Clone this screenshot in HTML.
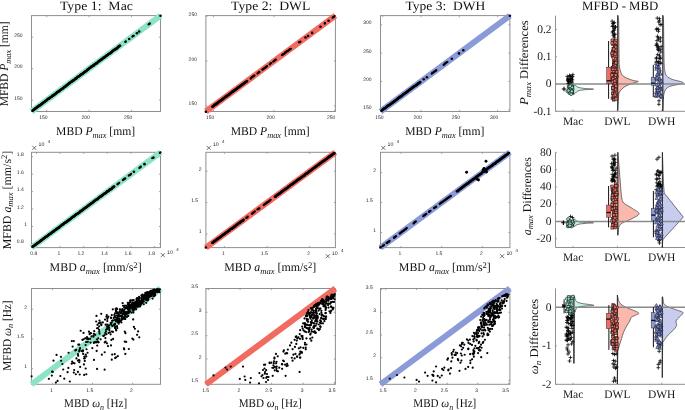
<!DOCTYPE html>
<html><head><meta charset="utf-8"><style>
html,body{margin:0;padding:0;background:#fff;width:685px;height:410px;overflow:hidden}
svg{display:block}
svg{will-change:transform}
text{text-rendering:geometricPrecision}
</style></head><body>
<svg width="685" height="410" viewBox="0 0 685 410">
<rect width="685" height="410" fill="#fff"/>
<rect x="31.5" y="15.6" width="129" height="95.9" fill="none" stroke="#8f8f8f" stroke-width="1"/>
<path d="M46.75 111.5v-1.6M46.75 15.6v1.6" stroke="#8f8f8f" stroke-width="0.8"/>
<text x="39.2" y="118.8" font-size="5" style='font-family:"Liberation Sans",sans-serif;' text-anchor="start" fill="#262626">150</text>
<path d="M89.1 111.5v-1.6M89.1 15.6v1.6" stroke="#8f8f8f" stroke-width="0.8"/>
<text x="81.55" y="118.8" font-size="5" style='font-family:"Liberation Sans",sans-serif;' text-anchor="start" fill="#262626">200</text>
<path d="M131.45 111.5v-1.6M131.45 15.6v1.6" stroke="#8f8f8f" stroke-width="0.8"/>
<text x="123.9" y="118.8" font-size="5" style='font-family:"Liberation Sans",sans-serif;' text-anchor="start" fill="#262626">250</text>
<path d="M31.5 100.17h1.6M160.5 100.17h-1.6" stroke="#8f8f8f" stroke-width="0.8"/>
<text x="14.21" y="99.67" font-size="5" style='font-family:"Liberation Sans",sans-serif;' text-anchor="start" fill="#262626">150</text>
<path d="M31.5 68.68h1.6M160.5 68.68h-1.6" stroke="#8f8f8f" stroke-width="0.8"/>
<text x="14.21" y="68.18" font-size="5" style='font-family:"Liberation Sans",sans-serif;' text-anchor="start" fill="#262626">200</text>
<path d="M31.5 37.2h1.6M160.5 37.2h-1.6" stroke="#8f8f8f" stroke-width="0.8"/>
<text x="14.21" y="36.7" font-size="5" style='font-family:"Liberation Sans",sans-serif;' text-anchor="start" fill="#262626">250</text>
<line x1="31.5" y1="111.5" x2="160.5" y2="15.6" stroke="#8de3c6" stroke-width="6"/>
<g fill="#000"><circle cx="32.5" cy="110.67" r="1.25"/><circle cx="32.95" cy="110.25" r="1.25"/><circle cx="33.4" cy="110.16" r="1.25"/><circle cx="33.85" cy="109.54" r="1.25"/><circle cx="34.31" cy="109.43" r="1.25"/><circle cx="34.76" cy="109.01" r="1.25"/><circle cx="35.21" cy="108.52" r="1.25"/><circle cx="35.66" cy="108.41" r="1.25"/><circle cx="36.11" cy="107.84" r="1.25"/><circle cx="36.56" cy="107.7" r="1.25"/><circle cx="37.02" cy="107.18" r="1.25"/><circle cx="37.47" cy="106.86" r="1.25"/><circle cx="37.92" cy="106.69" r="1.25"/><circle cx="38.37" cy="106.56" r="1.25"/><circle cx="38.82" cy="105.87" r="1.25"/><circle cx="39.27" cy="105.58" r="1.25"/><circle cx="39.72" cy="105.45" r="1.25"/><circle cx="40.18" cy="105.27" r="1.25"/><circle cx="40.63" cy="104.75" r="1.25"/><circle cx="41.08" cy="104.33" r="1.25"/><circle cx="41.53" cy="104.28" r="1.25"/><circle cx="41.98" cy="103.48" r="1.25"/><circle cx="42.43" cy="103.55" r="1.25"/><circle cx="42.89" cy="102.93" r="1.25"/><circle cx="43.34" cy="102.52" r="1.25"/><circle cx="43.79" cy="102.17" r="1.25"/><circle cx="44.24" cy="101.93" r="1.25"/><circle cx="44.69" cy="101.85" r="1.25"/><circle cx="45.14" cy="101.2" r="1.25"/><circle cx="45.59" cy="101.06" r="1.25"/><circle cx="46.05" cy="100.76" r="1.25"/><circle cx="46.5" cy="100.29" r="1.25"/><circle cx="46.95" cy="100.04" r="1.25"/><circle cx="47.4" cy="99.46" r="1.25"/><circle cx="47.85" cy="99.12" r="1.25"/><circle cx="48.3" cy="98.86" r="1.25"/><circle cx="48.76" cy="98.76" r="1.25"/><circle cx="49.21" cy="98.3" r="1.25"/><circle cx="49.66" cy="97.91" r="1.25"/><circle cx="50.11" cy="97.71" r="1.25"/><circle cx="50.56" cy="97.31" r="1.25"/><circle cx="51.01" cy="96.89" r="1.25"/><circle cx="51.46" cy="96.81" r="1.25"/><circle cx="51.92" cy="96.42" r="1.25"/><circle cx="52.37" cy="95.86" r="1.25"/><circle cx="52.82" cy="95.69" r="1.25"/><circle cx="53.27" cy="95.33" r="1.25"/><circle cx="53.72" cy="95.17" r="1.25"/><circle cx="54.17" cy="94.76" r="1.25"/><circle cx="54.63" cy="94.2" r="1.25"/><circle cx="55.08" cy="94.21" r="1.25"/><circle cx="55.53" cy="93.45" r="1.25"/><circle cx="55.98" cy="93.26" r="1.25"/><circle cx="56.43" cy="93.09" r="1.25"/><circle cx="56.88" cy="92.46" r="1.25"/><circle cx="57.34" cy="92.29" r="1.25"/><circle cx="57.79" cy="91.73" r="1.25"/><circle cx="58.24" cy="91.71" r="1.25"/><circle cx="58.69" cy="91.42" r="1.25"/><circle cx="59.14" cy="90.99" r="1.25"/><circle cx="59.59" cy="90.8" r="1.25"/><circle cx="60.04" cy="90.19" r="1.25"/><circle cx="60.5" cy="90.04" r="1.25"/><circle cx="60.95" cy="89.66" r="1.25"/><circle cx="61.4" cy="89.31" r="1.25"/><circle cx="61.85" cy="88.92" r="1.25"/><circle cx="62.3" cy="88.77" r="1.25"/><circle cx="62.75" cy="88.49" r="1.25"/><circle cx="63.21" cy="87.92" r="1.25"/><circle cx="63.66" cy="87.68" r="1.25"/><circle cx="64.11" cy="87.04" r="1.25"/><circle cx="64.56" cy="87.02" r="1.25"/><circle cx="65.01" cy="86.66" r="1.25"/><circle cx="65.46" cy="86.5" r="1.25"/><circle cx="65.91" cy="86.08" r="1.25"/><circle cx="66.37" cy="85.47" r="1.25"/><circle cx="66.82" cy="85.19" r="1.25"/><circle cx="67.27" cy="84.99" r="1.25"/><circle cx="67.72" cy="84.33" r="1.25"/><circle cx="68.17" cy="84.22" r="1.25"/><circle cx="68.62" cy="83.74" r="1.25"/><circle cx="69.08" cy="83.37" r="1.25"/><circle cx="69.53" cy="83.01" r="1.25"/><circle cx="69.98" cy="83.03" r="1.25"/><circle cx="70.43" cy="82.37" r="1.25"/><circle cx="70.88" cy="82.1" r="1.25"/><circle cx="71.33" cy="81.83" r="1.25"/><circle cx="71.78" cy="81.74" r="1.25"/><circle cx="72.24" cy="81.01" r="1.25"/><circle cx="72.69" cy="80.86" r="1.25"/><circle cx="73.14" cy="80.57" r="1.25"/><circle cx="73.59" cy="80.4" r="1.25"/><circle cx="74.04" cy="80.03" r="1.25"/><circle cx="74.49" cy="79.72" r="1.25"/><circle cx="74.95" cy="79.09" r="1.25"/><circle cx="75.4" cy="78.82" r="1.25"/><circle cx="75.85" cy="78.46" r="1.25"/><circle cx="76.3" cy="78.39" r="1.25"/><circle cx="76.75" cy="78.09" r="1.25"/><circle cx="77.2" cy="77.35" r="1.25"/><circle cx="77.65" cy="77.03" r="1.25"/><circle cx="78.11" cy="76.72" r="1.25"/><circle cx="78.56" cy="76.38" r="1.25"/><circle cx="79.01" cy="76.17" r="1.25"/><circle cx="79.46" cy="75.89" r="1.25"/><circle cx="79.91" cy="75.39" r="1.25"/><circle cx="80.36" cy="74.93" r="1.25"/><circle cx="80.82" cy="74.8" r="1.25"/><circle cx="81.27" cy="74.44" r="1.25"/><circle cx="81.72" cy="74.2" r="1.25"/><circle cx="82.17" cy="74.06" r="1.25"/><circle cx="82.62" cy="73.59" r="1.25"/><circle cx="83.07" cy="73.17" r="1.25"/><circle cx="83.52" cy="72.88" r="1.25"/><circle cx="83.98" cy="72.58" r="1.25"/><circle cx="84.43" cy="71.93" r="1.25"/><circle cx="84.88" cy="72.02" r="1.25"/><circle cx="85.33" cy="71.62" r="1.25"/><circle cx="85.78" cy="71.33" r="1.25"/><circle cx="86.23" cy="70.96" r="1.25"/><circle cx="86.69" cy="70.42" r="1.25"/><circle cx="87.14" cy="70.09" r="1.25"/><circle cx="87.59" cy="69.6" r="1.25"/><circle cx="88.04" cy="69.53" r="1.25"/><circle cx="88.49" cy="68.91" r="1.25"/><circle cx="88.94" cy="68.58" r="1.25"/><circle cx="89.39" cy="68.31" r="1.25"/><circle cx="89.85" cy="67.96" r="1.25"/><circle cx="90.3" cy="67.71" r="1.25"/><circle cx="90.75" cy="67.23" r="1.25"/><circle cx="91.2" cy="66.87" r="1.25"/><circle cx="91.65" cy="66.61" r="1.25"/><circle cx="92.1" cy="66.25" r="1.25"/><circle cx="92.56" cy="66.04" r="1.25"/><circle cx="93.01" cy="65.54" r="1.25"/><circle cx="93.46" cy="65.63" r="1.25"/><circle cx="93.91" cy="65.16" r="1.25"/><circle cx="94.36" cy="64.59" r="1.25"/><circle cx="94.81" cy="64.31" r="1.25"/><circle cx="95.26" cy="64.02" r="1.25"/><circle cx="95.72" cy="63.69" r="1.25"/><circle cx="96.17" cy="63.24" r="1.25"/><circle cx="96.62" cy="63.26" r="1.25"/><circle cx="97.07" cy="63" r="1.25"/><circle cx="97.52" cy="62.4" r="1.25"/><circle cx="97.97" cy="62.07" r="1.25"/><circle cx="98.43" cy="61.54" r="1.25"/><circle cx="98.88" cy="61.21" r="1.25"/><circle cx="99.33" cy="61" r="1.25"/><circle cx="99.78" cy="60.62" r="1.25"/><circle cx="100.23" cy="60.57" r="1.25"/><circle cx="100.68" cy="59.9" r="1.25"/><circle cx="101.14" cy="59.49" r="1.25"/><circle cx="101.59" cy="59.62" r="1.25"/><circle cx="102.04" cy="59.08" r="1.25"/><circle cx="102.49" cy="58.55" r="1.25"/><circle cx="102.94" cy="58.41" r="1.25"/><circle cx="103.39" cy="57.82" r="1.25"/><circle cx="103.84" cy="57.73" r="1.25"/><circle cx="104.3" cy="57.62" r="1.25"/><circle cx="104.75" cy="57.23" r="1.25"/><circle cx="105.2" cy="56.81" r="1.25"/><circle cx="105.65" cy="56.26" r="1.25"/><circle cx="106.1" cy="55.97" r="1.25"/><circle cx="106.55" cy="55.54" r="1.25"/><circle cx="107.01" cy="55.5" r="1.25"/><circle cx="107.46" cy="55.05" r="1.25"/><circle cx="107.91" cy="54.84" r="1.25"/><circle cx="108.36" cy="54.28" r="1.25"/><circle cx="108.81" cy="53.89" r="1.25"/><circle cx="109.26" cy="53.85" r="1.25"/><circle cx="109.71" cy="53.6" r="1.25"/><circle cx="110.17" cy="53.2" r="1.25"/><circle cx="110.62" cy="52.84" r="1.25"/><circle cx="111.07" cy="52.51" r="1.25"/><circle cx="111.52" cy="52.13" r="1.25"/><circle cx="111.97" cy="51.54" r="1.25"/><circle cx="112.42" cy="51.35" r="1.25"/><circle cx="112.88" cy="50.93" r="1.25"/><circle cx="113.33" cy="50.43" r="1.25"/><circle cx="113.78" cy="50.1" r="1.25"/><circle cx="114.23" cy="49.89" r="1.25"/><circle cx="114.68" cy="49.54" r="1.25"/><circle cx="115.13" cy="49.42" r="1.25"/><circle cx="115.58" cy="49.22" r="1.25"/><circle cx="116.04" cy="48.63" r="1.25"/><circle cx="116.49" cy="48.54" r="1.25"/><circle cx="116.94" cy="48.23" r="1.25"/><circle cx="117.39" cy="47.88" r="1.25"/><circle cx="117.84" cy="47.24" r="1.25"/><circle cx="118.29" cy="46.84" r="1.25"/><circle cx="118.75" cy="46.5" r="1.25"/><circle cx="119.2" cy="46.15" r="1.25"/><circle cx="119.65" cy="45.82" r="1.25"/><circle cx="120.1" cy="45.7" r="1.25"/><circle cx="125.24" cy="42.01" r="1.05"/><circle cx="125.55" cy="41.75" r="1.05"/><circle cx="125.86" cy="41.34" r="1.05"/><circle cx="129.2" cy="38.95" r="1.3"/><circle cx="132.34" cy="36.68" r="1.05"/><circle cx="132.81" cy="35.97" r="1.05"/><circle cx="133.29" cy="35.91" r="1.05"/><circle cx="133.76" cy="35.68" r="1.05"/><circle cx="136.9" cy="33.29" r="1.3"/><circle cx="139.2" cy="31.56" r="1.3"/><circle cx="148.5" cy="24.51" r="1.05"/><circle cx="148.97" cy="24.01" r="1.05"/><circle cx="149.43" cy="23.97" r="1.05"/><circle cx="149.9" cy="23.4" r="1.05"/><circle cx="160.5" cy="15.75" r="1.3"/></g>
<rect x="205.9" y="15.6" width="129.5" height="95.9" fill="none" stroke="#8f8f8f" stroke-width="1"/>
<path d="M213.41 111.5v-1.6M213.41 15.6v1.6" stroke="#8f8f8f" stroke-width="0.8"/>
<text x="205.87" y="118.8" font-size="5" style='font-family:"Liberation Sans",sans-serif;' text-anchor="start" fill="#262626">150</text>
<path d="M273.98 111.5v-1.6M273.98 15.6v1.6" stroke="#8f8f8f" stroke-width="0.8"/>
<text x="266.44" y="118.8" font-size="5" style='font-family:"Liberation Sans",sans-serif;' text-anchor="start" fill="#262626">200</text>
<path d="M334.55 111.5v-1.6M334.55 15.6v1.6" stroke="#8f8f8f" stroke-width="0.8"/>
<text x="327.01" y="118.8" font-size="5" style='font-family:"Liberation Sans",sans-serif;' text-anchor="start" fill="#262626">250</text>
<path d="M205.9 105.94h1.6M335.4 105.94h-1.6" stroke="#8f8f8f" stroke-width="0.8"/>
<text x="188.61" y="105.44" font-size="5" style='font-family:"Liberation Sans",sans-serif;' text-anchor="start" fill="#262626">150</text>
<path d="M205.9 61.08h1.6M335.4 61.08h-1.6" stroke="#8f8f8f" stroke-width="0.8"/>
<text x="188.61" y="60.58" font-size="5" style='font-family:"Liberation Sans",sans-serif;' text-anchor="start" fill="#262626">200</text>
<path d="M205.9 16.23h1.6M335.4 16.23h-1.6" stroke="#8f8f8f" stroke-width="0.8"/>
<text x="188.61" y="15.73" font-size="5" style='font-family:"Liberation Sans",sans-serif;' text-anchor="start" fill="#262626">250</text>
<line x1="205.9" y1="111.5" x2="335.4" y2="15.6" stroke="#f26b61" stroke-width="6"/>
<g fill="#000"><circle cx="205.9" cy="111.74" r="1.3"/><circle cx="212.4" cy="106.63" r="1.25"/><circle cx="212.85" cy="106.3" r="1.25"/><circle cx="213.3" cy="106.24" r="1.25"/><circle cx="213.76" cy="105.79" r="1.25"/><circle cx="214.21" cy="105.18" r="1.25"/><circle cx="214.66" cy="104.83" r="1.25"/><circle cx="215.11" cy="104.5" r="1.25"/><circle cx="215.56" cy="104.55" r="1.25"/><circle cx="216.02" cy="104.16" r="1.25"/><circle cx="216.47" cy="103.5" r="1.25"/><circle cx="216.92" cy="103.5" r="1.25"/><circle cx="217.37" cy="103.25" r="1.25"/><circle cx="217.82" cy="102.75" r="1.25"/><circle cx="218.28" cy="102.26" r="1.25"/><circle cx="218.73" cy="102.03" r="1.25"/><circle cx="219.18" cy="101.48" r="1.25"/><circle cx="219.63" cy="101.09" r="1.25"/><circle cx="220.08" cy="101.23" r="1.25"/><circle cx="220.54" cy="100.74" r="1.25"/><circle cx="220.99" cy="100.34" r="1.25"/><circle cx="221.44" cy="100.21" r="1.25"/><circle cx="221.89" cy="99.62" r="1.25"/><circle cx="222.34" cy="99.51" r="1.25"/><circle cx="222.79" cy="99.15" r="1.25"/><circle cx="223.25" cy="98.51" r="1.25"/><circle cx="223.7" cy="98.2" r="1.25"/><circle cx="224.15" cy="97.88" r="1.25"/><circle cx="224.6" cy="97.52" r="1.25"/><circle cx="225.05" cy="97.36" r="1.25"/><circle cx="225.51" cy="96.86" r="1.25"/><circle cx="225.96" cy="96.61" r="1.25"/><circle cx="226.41" cy="96.13" r="1.25"/><circle cx="226.86" cy="96.18" r="1.25"/><circle cx="227.31" cy="95.57" r="1.25"/><circle cx="227.77" cy="95.29" r="1.25"/><circle cx="228.22" cy="95.01" r="1.25"/><circle cx="228.67" cy="94.84" r="1.25"/><circle cx="229.12" cy="94.26" r="1.25"/><circle cx="229.57" cy="94.18" r="1.25"/><circle cx="230.03" cy="93.63" r="1.25"/><circle cx="230.48" cy="93.31" r="1.25"/><circle cx="230.93" cy="92.98" r="1.25"/><circle cx="231.38" cy="92.39" r="1.25"/><circle cx="231.83" cy="92.27" r="1.25"/><circle cx="232.29" cy="91.8" r="1.25"/><circle cx="232.74" cy="91.38" r="1.25"/><circle cx="233.19" cy="91.44" r="1.25"/><circle cx="233.64" cy="90.79" r="1.25"/><circle cx="234.09" cy="90.61" r="1.25"/><circle cx="234.55" cy="90.4" r="1.25"/><circle cx="235" cy="89.98" r="1.25"/><circle cx="235.45" cy="89.53" r="1.25"/><circle cx="235.9" cy="89.29" r="1.25"/><circle cx="236.35" cy="88.98" r="1.25"/><circle cx="236.81" cy="88.76" r="1.25"/><circle cx="237.26" cy="88.08" r="1.25"/><circle cx="237.71" cy="87.97" r="1.25"/><circle cx="238.16" cy="87.48" r="1.25"/><circle cx="238.61" cy="87.16" r="1.25"/><circle cx="239.06" cy="87.08" r="1.25"/><circle cx="239.52" cy="86.61" r="1.25"/><circle cx="239.97" cy="86.3" r="1.25"/><circle cx="240.42" cy="86.07" r="1.25"/><circle cx="240.87" cy="85.81" r="1.25"/><circle cx="241.32" cy="85.24" r="1.25"/><circle cx="241.78" cy="84.99" r="1.25"/><circle cx="242.23" cy="84.6" r="1.25"/><circle cx="242.68" cy="84.27" r="1.25"/><circle cx="243.13" cy="84.02" r="1.25"/><circle cx="243.58" cy="83.57" r="1.25"/><circle cx="244.04" cy="83.28" r="1.25"/><circle cx="244.49" cy="82.91" r="1.25"/><circle cx="244.94" cy="82.81" r="1.25"/><circle cx="245.39" cy="82.35" r="1.25"/><circle cx="245.84" cy="82.11" r="1.25"/><circle cx="246.3" cy="81.81" r="1.25"/><circle cx="246.75" cy="81.13" r="1.25"/><circle cx="247.2" cy="80.95" r="1.25"/><circle cx="250.54" cy="78.66" r="1.05"/><circle cx="251.04" cy="78.24" r="1.05"/><circle cx="251.54" cy="77.52" r="1.05"/><circle cx="252.05" cy="77.14" r="1.05"/><circle cx="252.55" cy="76.92" r="1.05"/><circle cx="253.05" cy="76.37" r="1.05"/><circle cx="253.56" cy="76.08" r="1.05"/><circle cx="254.06" cy="75.62" r="1.05"/><circle cx="254.56" cy="75.55" r="1.05"/><circle cx="257.34" cy="73.55" r="1.05"/><circle cx="257.87" cy="73.21" r="1.05"/><circle cx="258.4" cy="72.45" r="1.05"/><circle cx="258.93" cy="72.34" r="1.05"/><circle cx="259.46" cy="71.92" r="1.05"/><circle cx="262.24" cy="69.6" r="1.05"/><circle cx="262.73" cy="69.61" r="1.05"/><circle cx="263.22" cy="69.28" r="1.05"/><circle cx="263.72" cy="68.54" r="1.05"/><circle cx="264.21" cy="68.55" r="1.05"/><circle cx="264.7" cy="67.91" r="1.05"/><circle cx="265.19" cy="67.59" r="1.05"/><circle cx="265.68" cy="67.47" r="1.05"/><circle cx="266.18" cy="67.03" r="1.05"/><circle cx="266.67" cy="66.33" r="1.05"/><circle cx="267.16" cy="66.1" r="1.05"/><circle cx="269.6" cy="64.34" r="1.05"/><circle cx="270.17" cy="63.83" r="1.05"/><circle cx="270.73" cy="63.34" r="1.05"/><circle cx="271.3" cy="62.98" r="1.05"/><circle cx="273.24" cy="61.74" r="1.05"/><circle cx="273.76" cy="61" r="1.05"/><circle cx="274.29" cy="60.88" r="1.05"/><circle cx="274.81" cy="60.44" r="1.05"/><circle cx="275.34" cy="59.84" r="1.05"/><circle cx="275.86" cy="59.61" r="1.05"/><circle cx="281.94" cy="55.25" r="1.05"/><circle cx="282.41" cy="54.85" r="1.05"/><circle cx="282.88" cy="54.28" r="1.05"/><circle cx="283.35" cy="54.39" r="1.05"/><circle cx="283.82" cy="53.94" r="1.05"/><circle cx="284.29" cy="53.69" r="1.05"/><circle cx="284.76" cy="52.91" r="1.05"/><circle cx="285.23" cy="52.64" r="1.05"/><circle cx="285.7" cy="52.18" r="1.05"/><circle cx="286.17" cy="52.2" r="1.05"/><circle cx="286.63" cy="51.6" r="1.05"/><circle cx="287.1" cy="51.18" r="1.05"/><circle cx="287.57" cy="50.98" r="1.05"/><circle cx="288.04" cy="50.88" r="1.05"/><circle cx="288.51" cy="50.48" r="1.05"/><circle cx="288.98" cy="49.85" r="1.05"/><circle cx="289.45" cy="49.45" r="1.05"/><circle cx="289.92" cy="49.49" r="1.05"/><circle cx="290.39" cy="48.97" r="1.05"/><circle cx="290.86" cy="48.68" r="1.05"/><circle cx="298.94" cy="42.39" r="1.05"/><circle cx="299.45" cy="42" r="1.05"/><circle cx="299.95" cy="41.94" r="1.05"/><circle cx="300.46" cy="41.44" r="1.05"/><circle cx="305.5" cy="37.53" r="1.3"/><circle cx="308.1" cy="36.04" r="1.3"/><circle cx="312.1" cy="32.92" r="1.3"/><circle cx="320.5" cy="26.78" r="1.3"/><circle cx="324.64" cy="23.36" r="1.05"/><circle cx="324.85" cy="23.59" r="1.05"/><circle cx="325.06" cy="23.04" r="1.05"/><circle cx="328.6" cy="20.82" r="1.3"/><circle cx="332.54" cy="17.69" r="1.05"/><circle cx="333.04" cy="17.26" r="1.05"/><circle cx="333.55" cy="17" r="1.05"/><circle cx="334.06" cy="16.81" r="1.05"/><circle cx="334.56" cy="16.11" r="1.05"/></g>
<rect x="380.5" y="15.6" width="129.4" height="95.9" fill="none" stroke="#8f8f8f" stroke-width="1"/>
<path d="M382.72 111.5v-1.6M382.72 15.6v1.6" stroke="#8f8f8f" stroke-width="0.8"/>
<text x="375.18" y="118.8" font-size="5" style='font-family:"Liberation Sans",sans-serif;' text-anchor="start" fill="#262626">150</text>
<path d="M421 111.5v-1.6M421 15.6v1.6" stroke="#8f8f8f" stroke-width="0.8"/>
<text x="413.46" y="118.8" font-size="5" style='font-family:"Liberation Sans",sans-serif;' text-anchor="start" fill="#262626">200</text>
<path d="M459.29 111.5v-1.6M459.29 15.6v1.6" stroke="#8f8f8f" stroke-width="0.8"/>
<text x="451.74" y="118.8" font-size="5" style='font-family:"Liberation Sans",sans-serif;' text-anchor="start" fill="#262626">250</text>
<path d="M497.57 111.5v-1.6M497.57 15.6v1.6" stroke="#8f8f8f" stroke-width="0.8"/>
<text x="490.03" y="118.8" font-size="5" style='font-family:"Liberation Sans",sans-serif;' text-anchor="start" fill="#262626">300</text>
<path d="M380.5 109.85h1.6M509.9 109.85h-1.6" stroke="#8f8f8f" stroke-width="0.8"/>
<text x="363.21" y="109.35" font-size="5" style='font-family:"Liberation Sans",sans-serif;' text-anchor="start" fill="#262626">150</text>
<path d="M380.5 81.48h1.6M509.9 81.48h-1.6" stroke="#8f8f8f" stroke-width="0.8"/>
<text x="363.21" y="80.98" font-size="5" style='font-family:"Liberation Sans",sans-serif;' text-anchor="start" fill="#262626">200</text>
<path d="M380.5 53.11h1.6M509.9 53.11h-1.6" stroke="#8f8f8f" stroke-width="0.8"/>
<text x="363.21" y="52.61" font-size="5" style='font-family:"Liberation Sans",sans-serif;' text-anchor="start" fill="#262626">250</text>
<path d="M380.5 24.74h1.6M509.9 24.74h-1.6" stroke="#8f8f8f" stroke-width="0.8"/>
<text x="363.21" y="24.24" font-size="5" style='font-family:"Liberation Sans",sans-serif;' text-anchor="start" fill="#262626">300</text>
<line x1="380.5" y1="111.5" x2="509.9" y2="15.6" stroke="#8b9bd8" stroke-width="6"/>
<g fill="#000"><circle cx="381.5" cy="110.57" r="1.25"/><circle cx="381.95" cy="110.44" r="1.25"/><circle cx="382.4" cy="109.96" r="1.25"/><circle cx="382.85" cy="109.56" r="1.25"/><circle cx="383.3" cy="109.25" r="1.25"/><circle cx="383.76" cy="108.86" r="1.25"/><circle cx="384.21" cy="108.6" r="1.25"/><circle cx="384.66" cy="108.32" r="1.25"/><circle cx="385.11" cy="107.99" r="1.25"/><circle cx="385.56" cy="107.88" r="1.25"/><circle cx="386.01" cy="107.31" r="1.25"/><circle cx="386.46" cy="107.08" r="1.25"/><circle cx="386.91" cy="106.59" r="1.25"/><circle cx="387.37" cy="106.34" r="1.25"/><circle cx="387.82" cy="105.84" r="1.25"/><circle cx="388.27" cy="105.62" r="1.25"/><circle cx="388.72" cy="105.17" r="1.25"/><circle cx="389.17" cy="105.19" r="1.25"/><circle cx="389.62" cy="104.77" r="1.25"/><circle cx="390.07" cy="104.25" r="1.25"/><circle cx="390.52" cy="104.06" r="1.25"/><circle cx="390.97" cy="103.95" r="1.25"/><circle cx="391.43" cy="103.21" r="1.25"/><circle cx="391.88" cy="103.23" r="1.25"/><circle cx="392.33" cy="102.7" r="1.25"/><circle cx="392.78" cy="102.4" r="1.25"/><circle cx="393.23" cy="102.23" r="1.25"/><circle cx="393.68" cy="101.68" r="1.25"/><circle cx="394.13" cy="101.4" r="1.25"/><circle cx="394.58" cy="101.16" r="1.25"/><circle cx="395.03" cy="100.97" r="1.25"/><circle cx="395.49" cy="100.32" r="1.25"/><circle cx="395.94" cy="100.23" r="1.25"/><circle cx="396.39" cy="99.83" r="1.25"/><circle cx="396.84" cy="99.46" r="1.25"/><circle cx="397.29" cy="99.01" r="1.25"/><circle cx="397.74" cy="98.65" r="1.25"/><circle cx="398.19" cy="98.16" r="1.25"/><circle cx="398.64" cy="97.87" r="1.25"/><circle cx="399.1" cy="97.5" r="1.25"/><circle cx="399.55" cy="97.5" r="1.25"/><circle cx="400" cy="96.93" r="1.25"/><circle cx="400.45" cy="96.55" r="1.25"/><circle cx="400.9" cy="96.17" r="1.25"/><circle cx="401.35" cy="96.22" r="1.25"/><circle cx="401.8" cy="95.9" r="1.25"/><circle cx="402.25" cy="95.46" r="1.25"/><circle cx="402.7" cy="94.93" r="1.25"/><circle cx="403.16" cy="94.58" r="1.25"/><circle cx="403.61" cy="94.27" r="1.25"/><circle cx="404.06" cy="94.02" r="1.25"/><circle cx="404.51" cy="93.54" r="1.25"/><circle cx="404.96" cy="93.34" r="1.25"/><circle cx="405.41" cy="92.92" r="1.25"/><circle cx="405.86" cy="92.93" r="1.25"/><circle cx="406.31" cy="92.61" r="1.25"/><circle cx="406.77" cy="92.06" r="1.25"/><circle cx="407.22" cy="91.57" r="1.25"/><circle cx="407.67" cy="91.6" r="1.25"/><circle cx="408.12" cy="90.94" r="1.25"/><circle cx="408.57" cy="90.63" r="1.25"/><circle cx="409.02" cy="90.11" r="1.25"/><circle cx="409.47" cy="89.97" r="1.25"/><circle cx="409.92" cy="89.68" r="1.25"/><circle cx="410.37" cy="89.36" r="1.25"/><circle cx="410.83" cy="88.88" r="1.25"/><circle cx="411.28" cy="88.69" r="1.25"/><circle cx="411.73" cy="88.11" r="1.25"/><circle cx="412.18" cy="87.9" r="1.25"/><circle cx="412.63" cy="87.48" r="1.25"/><circle cx="413.08" cy="87.3" r="1.25"/><circle cx="413.53" cy="86.79" r="1.25"/><circle cx="413.98" cy="86.45" r="1.25"/><circle cx="414.43" cy="86.25" r="1.25"/><circle cx="414.89" cy="85.88" r="1.25"/><circle cx="415.34" cy="85.72" r="1.25"/><circle cx="415.79" cy="85.36" r="1.25"/><circle cx="416.24" cy="85.14" r="1.25"/><circle cx="416.69" cy="84.76" r="1.25"/><circle cx="417.14" cy="84.45" r="1.25"/><circle cx="417.59" cy="84.2" r="1.25"/><circle cx="418.04" cy="83.62" r="1.25"/><circle cx="418.5" cy="83.25" r="1.25"/><circle cx="418.95" cy="83.25" r="1.25"/><circle cx="419.4" cy="82.5" r="1.25"/><circle cx="419.85" cy="82.45" r="1.25"/><circle cx="420.3" cy="82.08" r="1.25"/><circle cx="423.7" cy="79.26" r="1.3"/><circle cx="426.9" cy="77.28" r="1.3"/><circle cx="431.64" cy="73.8" r="1.05"/><circle cx="432.11" cy="73.31" r="1.05"/><circle cx="432.58" cy="73.02" r="1.05"/><circle cx="433.06" cy="72.71" r="1.05"/><circle cx="433.53" cy="72.02" r="1.05"/><circle cx="434" cy="71.86" r="1.05"/><circle cx="434.47" cy="71.5" r="1.05"/><circle cx="434.94" cy="71.32" r="1.05"/><circle cx="435.42" cy="70.95" r="1.05"/><circle cx="435.89" cy="70.61" r="1.05"/><circle cx="436.36" cy="70.14" r="1.05"/><circle cx="443.54" cy="64.98" r="1.05"/><circle cx="444.03" cy="64.51" r="1.05"/><circle cx="444.52" cy="64.15" r="1.05"/><circle cx="445.01" cy="63.56" r="1.05"/><circle cx="445.5" cy="63.09" r="1.05"/><circle cx="445.99" cy="62.78" r="1.05"/><circle cx="446.48" cy="62.53" r="1.05"/><circle cx="446.97" cy="62.04" r="1.05"/><circle cx="447.46" cy="62.04" r="1.05"/><circle cx="451.8" cy="58.69" r="1.3"/><circle cx="459" cy="53.39" r="1.3"/><circle cx="463.3" cy="50.2" r="1.3"/><circle cx="509.9" cy="15.69" r="1.3"/></g>
<rect x="31.5" y="152.3" width="129" height="95.3" fill="none" stroke="#8f8f8f" stroke-width="1"/>
<path d="M36.5 247.6v-1.6M36.5 152.3v1.6" stroke="#8f8f8f" stroke-width="0.8"/>
<text x="30.22" y="254.9" font-size="5" style='font-family:"Liberation Sans",sans-serif;' text-anchor="start" fill="#262626">0.8</text>
<path d="M60.08 247.6v-1.6M60.08 152.3v1.6" stroke="#8f8f8f" stroke-width="0.8"/>
<text x="57.57" y="254.9" font-size="5" style='font-family:"Liberation Sans",sans-serif;' text-anchor="start" fill="#262626">1</text>
<path d="M83.66 247.6v-1.6M83.66 152.3v1.6" stroke="#8f8f8f" stroke-width="0.8"/>
<text x="77.38" y="254.9" font-size="5" style='font-family:"Liberation Sans",sans-serif;' text-anchor="start" fill="#262626">1.2</text>
<path d="M107.24 247.6v-1.6M107.24 152.3v1.6" stroke="#8f8f8f" stroke-width="0.8"/>
<text x="100.96" y="254.9" font-size="5" style='font-family:"Liberation Sans",sans-serif;' text-anchor="start" fill="#262626">1.4</text>
<path d="M130.82 247.6v-1.6M130.82 152.3v1.6" stroke="#8f8f8f" stroke-width="0.8"/>
<text x="124.54" y="254.9" font-size="5" style='font-family:"Liberation Sans",sans-serif;' text-anchor="start" fill="#262626">1.6</text>
<path d="M154.4 247.6v-1.6M154.4 152.3v1.6" stroke="#8f8f8f" stroke-width="0.8"/>
<text x="148.12" y="254.9" font-size="5" style='font-family:"Liberation Sans",sans-serif;' text-anchor="start" fill="#262626">1.8</text>
<path d="M31.5 243.91h1.6M160.5 243.91h-1.6" stroke="#8f8f8f" stroke-width="0.8"/>
<text x="16.74" y="243.41" font-size="5" style='font-family:"Liberation Sans",sans-serif;' text-anchor="start" fill="#262626">0.8</text>
<path d="M31.5 226.49h1.6M160.5 226.49h-1.6" stroke="#8f8f8f" stroke-width="0.8"/>
<text x="24.27" y="225.99" font-size="5" style='font-family:"Liberation Sans",sans-serif;' text-anchor="start" fill="#262626">1</text>
<path d="M31.5 209.07h1.6M160.5 209.07h-1.6" stroke="#8f8f8f" stroke-width="0.8"/>
<text x="16.74" y="208.57" font-size="5" style='font-family:"Liberation Sans",sans-serif;' text-anchor="start" fill="#262626">1.2</text>
<path d="M31.5 191.64h1.6M160.5 191.64h-1.6" stroke="#8f8f8f" stroke-width="0.8"/>
<text x="16.74" y="191.14" font-size="5" style='font-family:"Liberation Sans",sans-serif;' text-anchor="start" fill="#262626">1.4</text>
<path d="M31.5 174.22h1.6M160.5 174.22h-1.6" stroke="#8f8f8f" stroke-width="0.8"/>
<text x="16.74" y="173.72" font-size="5" style='font-family:"Liberation Sans",sans-serif;' text-anchor="start" fill="#262626">1.6</text>
<path d="M31.5 156.8h1.6M160.5 156.8h-1.6" stroke="#8f8f8f" stroke-width="0.8"/>
<text x="16.74" y="156.3" font-size="5" style='font-family:"Liberation Sans",sans-serif;' text-anchor="start" fill="#262626">1.8</text>
<path d="M32.3 145.9l4 4M32.3 149.9l4 -4" stroke="#262626" stroke-width="0.65"/>
<text x="38.5" y="146.3" font-size="5.2" style='font-family:"Liberation Sans",sans-serif;' text-anchor="start" fill="#262626">10</text>
<text x="47.7" y="143.4" font-size="4.4" style='font-family:"Liberation Sans",sans-serif;' text-anchor="start" fill="#262626">4</text>
<path d="M160.8 253.1l4 4M160.8 257.1l4 -4" stroke="#262626" stroke-width="0.65"/>
<text x="167" y="253.5" font-size="5.2" style='font-family:"Liberation Sans",sans-serif;' text-anchor="start" fill="#262626">10</text>
<text x="176.2" y="250.6" font-size="4.4" style='font-family:"Liberation Sans",sans-serif;' text-anchor="start" fill="#262626">4</text>
<line x1="31.5" y1="247.6" x2="160.5" y2="152.3" stroke="#8de3c6" stroke-width="6"/>
<g fill="#000"><circle cx="32.5" cy="246.86" r="1.25"/><circle cx="32.95" cy="246.28" r="1.25"/><circle cx="33.4" cy="246.34" r="1.25"/><circle cx="33.85" cy="245.98" r="1.25"/><circle cx="34.31" cy="245.53" r="1.25"/><circle cx="34.76" cy="245.21" r="1.25"/><circle cx="35.21" cy="244.94" r="1.25"/><circle cx="35.66" cy="244.31" r="1.25"/><circle cx="36.11" cy="244.31" r="1.25"/><circle cx="36.56" cy="243.74" r="1.25"/><circle cx="37.01" cy="243.31" r="1.25"/><circle cx="37.47" cy="243.08" r="1.25"/><circle cx="37.92" cy="242.97" r="1.25"/><circle cx="38.37" cy="242.38" r="1.25"/><circle cx="38.82" cy="242.31" r="1.25"/><circle cx="39.27" cy="242.1" r="1.25"/><circle cx="39.72" cy="241.52" r="1.25"/><circle cx="40.17" cy="241.13" r="1.25"/><circle cx="40.62" cy="240.85" r="1.25"/><circle cx="41.08" cy="240.62" r="1.25"/><circle cx="41.53" cy="240.33" r="1.25"/><circle cx="41.98" cy="239.92" r="1.25"/><circle cx="42.43" cy="239.6" r="1.25"/><circle cx="42.88" cy="238.98" r="1.25"/><circle cx="43.33" cy="238.68" r="1.25"/><circle cx="43.78" cy="238.4" r="1.25"/><circle cx="44.24" cy="238.31" r="1.25"/><circle cx="44.69" cy="237.76" r="1.25"/><circle cx="45.14" cy="237.56" r="1.25"/><circle cx="45.59" cy="236.95" r="1.25"/><circle cx="46.04" cy="236.64" r="1.25"/><circle cx="46.49" cy="236.41" r="1.25"/><circle cx="46.94" cy="236.28" r="1.25"/><circle cx="47.4" cy="235.95" r="1.25"/><circle cx="47.85" cy="235.61" r="1.25"/><circle cx="48.3" cy="235.09" r="1.25"/><circle cx="48.75" cy="234.86" r="1.25"/><circle cx="49.2" cy="234.51" r="1.25"/><circle cx="49.65" cy="234.17" r="1.25"/><circle cx="50.1" cy="233.67" r="1.25"/><circle cx="50.56" cy="233.72" r="1.25"/><circle cx="51.01" cy="233.04" r="1.25"/><circle cx="51.46" cy="233.09" r="1.25"/><circle cx="51.91" cy="232.74" r="1.25"/><circle cx="52.36" cy="231.95" r="1.25"/><circle cx="52.81" cy="231.83" r="1.25"/><circle cx="53.26" cy="231.68" r="1.25"/><circle cx="53.71" cy="231.42" r="1.25"/><circle cx="54.17" cy="230.83" r="1.25"/><circle cx="54.62" cy="230.41" r="1.25"/><circle cx="55.07" cy="230.04" r="1.25"/><circle cx="55.52" cy="230.08" r="1.25"/><circle cx="55.97" cy="229.38" r="1.25"/><circle cx="56.42" cy="229.23" r="1.25"/><circle cx="56.87" cy="228.68" r="1.25"/><circle cx="57.33" cy="228.53" r="1.25"/><circle cx="57.78" cy="228.41" r="1.25"/><circle cx="58.23" cy="227.67" r="1.25"/><circle cx="58.68" cy="227.68" r="1.25"/><circle cx="59.13" cy="227.19" r="1.25"/><circle cx="59.58" cy="227.05" r="1.25"/><circle cx="60.03" cy="226.62" r="1.25"/><circle cx="60.49" cy="226.05" r="1.25"/><circle cx="60.94" cy="226.05" r="1.25"/><circle cx="61.39" cy="225.51" r="1.25"/><circle cx="61.84" cy="224.95" r="1.25"/><circle cx="62.29" cy="224.6" r="1.25"/><circle cx="62.74" cy="224.52" r="1.25"/><circle cx="63.19" cy="224.16" r="1.25"/><circle cx="63.65" cy="223.75" r="1.25"/><circle cx="64.1" cy="223.34" r="1.25"/><circle cx="64.55" cy="223.11" r="1.25"/><circle cx="65" cy="222.76" r="1.25"/><circle cx="65.45" cy="222.69" r="1.25"/><circle cx="65.9" cy="221.94" r="1.25"/><circle cx="66.35" cy="221.98" r="1.25"/><circle cx="66.8" cy="221.69" r="1.25"/><circle cx="67.26" cy="220.99" r="1.25"/><circle cx="67.71" cy="221.06" r="1.25"/><circle cx="68.16" cy="220.62" r="1.25"/><circle cx="68.61" cy="220.39" r="1.25"/><circle cx="69.06" cy="219.75" r="1.25"/><circle cx="69.51" cy="219.45" r="1.25"/><circle cx="69.96" cy="219.13" r="1.25"/><circle cx="70.42" cy="219.1" r="1.25"/><circle cx="70.87" cy="218.56" r="1.25"/><circle cx="71.32" cy="218.11" r="1.25"/><circle cx="71.77" cy="217.81" r="1.25"/><circle cx="72.22" cy="217.4" r="1.25"/><circle cx="72.67" cy="216.96" r="1.25"/><circle cx="73.12" cy="216.65" r="1.25"/><circle cx="73.58" cy="216.68" r="1.25"/><circle cx="74.03" cy="216.08" r="1.25"/><circle cx="74.48" cy="216.07" r="1.25"/><circle cx="74.93" cy="215.39" r="1.25"/><circle cx="75.38" cy="215.07" r="1.25"/><circle cx="75.83" cy="214.85" r="1.25"/><circle cx="76.28" cy="214.36" r="1.25"/><circle cx="76.74" cy="214.12" r="1.25"/><circle cx="77.19" cy="214.08" r="1.25"/><circle cx="77.64" cy="213.71" r="1.25"/><circle cx="78.09" cy="213.34" r="1.25"/><circle cx="78.54" cy="212.91" r="1.25"/><circle cx="78.99" cy="212.72" r="1.25"/><circle cx="79.44" cy="212.4" r="1.25"/><circle cx="79.9" cy="211.87" r="1.25"/><circle cx="80.35" cy="211.62" r="1.25"/><circle cx="80.8" cy="210.96" r="1.25"/><circle cx="81.25" cy="210.96" r="1.25"/><circle cx="81.7" cy="210.49" r="1.25"/><circle cx="82.15" cy="210.31" r="1.25"/><circle cx="82.6" cy="209.92" r="1.25"/><circle cx="83.05" cy="209.41" r="1.25"/><circle cx="83.51" cy="208.95" r="1.25"/><circle cx="83.96" cy="209.06" r="1.25"/><circle cx="84.41" cy="208.33" r="1.25"/><circle cx="84.86" cy="208.17" r="1.25"/><circle cx="85.31" cy="207.77" r="1.25"/><circle cx="85.76" cy="207.41" r="1.25"/><circle cx="86.21" cy="207.3" r="1.25"/><circle cx="86.67" cy="207.08" r="1.25"/><circle cx="87.12" cy="206.39" r="1.25"/><circle cx="87.57" cy="206.26" r="1.25"/><circle cx="88.02" cy="205.75" r="1.25"/><circle cx="88.47" cy="205.54" r="1.25"/><circle cx="88.92" cy="205.13" r="1.25"/><circle cx="89.37" cy="204.68" r="1.25"/><circle cx="89.83" cy="204.34" r="1.25"/><circle cx="90.28" cy="204.03" r="1.25"/><circle cx="90.73" cy="204.05" r="1.25"/><circle cx="91.18" cy="203.51" r="1.25"/><circle cx="91.63" cy="203.04" r="1.25"/><circle cx="92.08" cy="203.05" r="1.25"/><circle cx="92.53" cy="202.76" r="1.25"/><circle cx="92.99" cy="202.15" r="1.25"/><circle cx="93.44" cy="201.66" r="1.25"/><circle cx="93.89" cy="201.36" r="1.25"/><circle cx="94.34" cy="200.97" r="1.25"/><circle cx="94.79" cy="200.76" r="1.25"/><circle cx="95.24" cy="200.31" r="1.25"/><circle cx="95.69" cy="200.05" r="1.25"/><circle cx="96.14" cy="199.72" r="1.25"/><circle cx="96.6" cy="199.54" r="1.25"/><circle cx="97.05" cy="199.37" r="1.25"/><circle cx="97.5" cy="198.97" r="1.25"/><circle cx="97.95" cy="198.47" r="1.25"/><circle cx="98.4" cy="198.13" r="1.25"/><circle cx="98.85" cy="197.85" r="1.25"/><circle cx="99.3" cy="197.45" r="1.25"/><circle cx="99.76" cy="197.09" r="1.25"/><circle cx="100.21" cy="196.62" r="1.25"/><circle cx="100.66" cy="196.4" r="1.25"/><circle cx="101.11" cy="196.41" r="1.25"/><circle cx="101.56" cy="195.65" r="1.25"/><circle cx="102.01" cy="195.51" r="1.25"/><circle cx="102.46" cy="195.24" r="1.25"/><circle cx="102.92" cy="195.02" r="1.25"/><circle cx="103.37" cy="194.37" r="1.25"/><circle cx="103.82" cy="194.06" r="1.25"/><circle cx="104.27" cy="193.71" r="1.25"/><circle cx="104.72" cy="193.46" r="1.25"/><circle cx="105.17" cy="193.15" r="1.25"/><circle cx="105.62" cy="193.07" r="1.25"/><circle cx="106.08" cy="192.68" r="1.25"/><circle cx="106.53" cy="192.36" r="1.25"/><circle cx="106.98" cy="191.6" r="1.25"/><circle cx="107.43" cy="191.27" r="1.25"/><circle cx="107.88" cy="191.28" r="1.25"/><circle cx="108.33" cy="191.04" r="1.25"/><circle cx="108.78" cy="190.49" r="1.25"/><circle cx="109.23" cy="190.22" r="1.25"/><circle cx="109.69" cy="189.59" r="1.25"/><circle cx="110.14" cy="189.45" r="1.25"/><circle cx="110.59" cy="189.39" r="1.25"/><circle cx="111.04" cy="189" r="1.25"/><circle cx="111.49" cy="188.68" r="1.25"/><circle cx="111.94" cy="188.41" r="1.25"/><circle cx="112.39" cy="187.71" r="1.25"/><circle cx="112.85" cy="187.31" r="1.25"/><circle cx="113.3" cy="187" r="1.25"/><circle cx="113.75" cy="186.85" r="1.25"/><circle cx="114.2" cy="186.6" r="1.25"/><circle cx="117.34" cy="184.41" r="1.05"/><circle cx="117.82" cy="183.94" r="1.05"/><circle cx="118.3" cy="183.55" r="1.05"/><circle cx="118.78" cy="183.25" r="1.05"/><circle cx="119.26" cy="182.75" r="1.05"/><circle cx="122.84" cy="180.15" r="1.05"/><circle cx="123.34" cy="179.52" r="1.05"/><circle cx="123.85" cy="179.52" r="1.05"/><circle cx="124.35" cy="178.87" r="1.05"/><circle cx="124.86" cy="178.84" r="1.05"/><circle cx="125.36" cy="178.33" r="1.05"/><circle cx="128.64" cy="175.74" r="1.05"/><circle cx="129.14" cy="175.28" r="1.05"/><circle cx="129.65" cy="174.97" r="1.05"/><circle cx="130.15" cy="174.79" r="1.05"/><circle cx="130.66" cy="174.45" r="1.05"/><circle cx="131.16" cy="173.78" r="1.05"/><circle cx="133.9" cy="171.74" r="1.3"/><circle cx="139.3" cy="167.97" r="1.05"/><circle cx="139.83" cy="167.61" r="1.05"/><circle cx="140.37" cy="167.12" r="1.05"/><circle cx="140.9" cy="166.64" r="1.05"/><circle cx="144.5" cy="164.17" r="1.3"/><circle cx="152.2" cy="158.19" r="1.05"/><circle cx="152.7" cy="157.96" r="1.05"/><circle cx="153.2" cy="157.67" r="1.05"/><circle cx="153.7" cy="157.55" r="1.05"/><circle cx="159.8" cy="152.89" r="1.05"/><circle cx="160.15" cy="152.75" r="1.05"/><circle cx="160.5" cy="152.29" r="1.05"/></g>
<rect x="205.9" y="152.3" width="129.5" height="95.3" fill="none" stroke="#8f8f8f" stroke-width="1"/>
<path d="M224.41 247.6v-1.6M224.41 152.3v1.6" stroke="#8f8f8f" stroke-width="0.8"/>
<text x="221.9" y="254.9" font-size="5" style='font-family:"Liberation Sans",sans-serif;' text-anchor="start" fill="#262626">1</text>
<path d="M267.07 247.6v-1.6M267.07 152.3v1.6" stroke="#8f8f8f" stroke-width="0.8"/>
<text x="260.79" y="254.9" font-size="5" style='font-family:"Liberation Sans",sans-serif;' text-anchor="start" fill="#262626">1.5</text>
<path d="M309.72 247.6v-1.6M309.72 152.3v1.6" stroke="#8f8f8f" stroke-width="0.8"/>
<text x="307.21" y="254.9" font-size="5" style='font-family:"Liberation Sans",sans-serif;' text-anchor="start" fill="#262626">2</text>
<path d="M205.9 233.98h1.6M335.4 233.98h-1.6" stroke="#8f8f8f" stroke-width="0.8"/>
<text x="198.67" y="233.48" font-size="5" style='font-family:"Liberation Sans",sans-serif;' text-anchor="start" fill="#262626">1</text>
<path d="M205.9 202.59h1.6M335.4 202.59h-1.6" stroke="#8f8f8f" stroke-width="0.8"/>
<text x="191.14" y="202.09" font-size="5" style='font-family:"Liberation Sans",sans-serif;' text-anchor="start" fill="#262626">1.5</text>
<path d="M205.9 171.2h1.6M335.4 171.2h-1.6" stroke="#8f8f8f" stroke-width="0.8"/>
<text x="198.67" y="170.7" font-size="5" style='font-family:"Liberation Sans",sans-serif;' text-anchor="start" fill="#262626">2</text>
<path d="M206.7 145.9l4 4M206.7 149.9l4 -4" stroke="#262626" stroke-width="0.65"/>
<text x="212.9" y="146.3" font-size="5.2" style='font-family:"Liberation Sans",sans-serif;' text-anchor="start" fill="#262626">10</text>
<text x="222.1" y="143.4" font-size="4.4" style='font-family:"Liberation Sans",sans-serif;' text-anchor="start" fill="#262626">4</text>
<path d="M325.7 254.2l4 4M325.7 258.2l4 -4" stroke="#262626" stroke-width="0.65"/>
<text x="331.9" y="254.6" font-size="5.2" style='font-family:"Liberation Sans",sans-serif;' text-anchor="start" fill="#262626">10</text>
<text x="341.1" y="251.7" font-size="4.4" style='font-family:"Liberation Sans",sans-serif;' text-anchor="start" fill="#262626">4</text>
<line x1="205.9" y1="247.6" x2="335.4" y2="152.3" stroke="#f26b61" stroke-width="6"/>
<g fill="#000"><circle cx="205.9" cy="247.47" r="1.3"/><circle cx="212.3" cy="242.76" r="1.25"/><circle cx="212.75" cy="242.79" r="1.25"/><circle cx="213.21" cy="242.32" r="1.25"/><circle cx="213.66" cy="241.79" r="1.25"/><circle cx="214.11" cy="241.32" r="1.25"/><circle cx="214.57" cy="241.22" r="1.25"/><circle cx="215.02" cy="240.97" r="1.25"/><circle cx="215.48" cy="240.51" r="1.25"/><circle cx="215.93" cy="240.1" r="1.25"/><circle cx="216.38" cy="239.97" r="1.25"/><circle cx="216.84" cy="239.76" r="1.25"/><circle cx="217.29" cy="239.08" r="1.25"/><circle cx="217.74" cy="238.65" r="1.25"/><circle cx="218.2" cy="238.47" r="1.25"/><circle cx="218.65" cy="238.18" r="1.25"/><circle cx="219.1" cy="237.97" r="1.25"/><circle cx="219.56" cy="237.4" r="1.25"/><circle cx="220.01" cy="237.36" r="1.25"/><circle cx="220.47" cy="237" r="1.25"/><circle cx="220.92" cy="236.55" r="1.25"/><circle cx="221.37" cy="236.07" r="1.25"/><circle cx="221.83" cy="236.11" r="1.25"/><circle cx="222.28" cy="235.45" r="1.25"/><circle cx="222.73" cy="235.37" r="1.25"/><circle cx="223.19" cy="234.74" r="1.25"/><circle cx="223.64" cy="234.41" r="1.25"/><circle cx="224.09" cy="234.34" r="1.25"/><circle cx="224.55" cy="233.77" r="1.25"/><circle cx="225" cy="233.77" r="1.25"/><circle cx="225.46" cy="233.21" r="1.25"/><circle cx="225.91" cy="232.72" r="1.25"/><circle cx="226.36" cy="232.4" r="1.25"/><circle cx="226.82" cy="232.17" r="1.25"/><circle cx="227.27" cy="231.96" r="1.25"/><circle cx="227.72" cy="231.76" r="1.25"/><circle cx="228.18" cy="231.03" r="1.25"/><circle cx="228.63" cy="230.82" r="1.25"/><circle cx="229.08" cy="230.4" r="1.25"/><circle cx="229.54" cy="230.44" r="1.25"/><circle cx="229.99" cy="229.69" r="1.25"/><circle cx="230.44" cy="229.31" r="1.25"/><circle cx="230.9" cy="228.98" r="1.25"/><circle cx="231.35" cy="228.82" r="1.25"/><circle cx="231.81" cy="228.73" r="1.25"/><circle cx="232.26" cy="228.39" r="1.25"/><circle cx="232.71" cy="227.98" r="1.25"/><circle cx="233.17" cy="227.78" r="1.25"/><circle cx="233.62" cy="227.42" r="1.25"/><circle cx="234.07" cy="226.78" r="1.25"/><circle cx="234.53" cy="226.38" r="1.25"/><circle cx="234.98" cy="226.42" r="1.25"/><circle cx="235.43" cy="225.99" r="1.25"/><circle cx="235.89" cy="225.3" r="1.25"/><circle cx="236.34" cy="225.28" r="1.25"/><circle cx="236.8" cy="224.8" r="1.25"/><circle cx="237.25" cy="224.47" r="1.25"/><circle cx="237.7" cy="224.11" r="1.25"/><circle cx="238.16" cy="223.7" r="1.25"/><circle cx="238.61" cy="223.28" r="1.25"/><circle cx="239.06" cy="223.08" r="1.25"/><circle cx="239.52" cy="222.79" r="1.25"/><circle cx="239.97" cy="222.75" r="1.25"/><circle cx="240.42" cy="222" r="1.25"/><circle cx="240.88" cy="222.09" r="1.25"/><circle cx="241.33" cy="221.38" r="1.25"/><circle cx="241.79" cy="221.12" r="1.25"/><circle cx="242.24" cy="221.02" r="1.25"/><circle cx="242.69" cy="220.68" r="1.25"/><circle cx="243.15" cy="220.16" r="1.25"/><circle cx="243.6" cy="219.63" r="1.25"/><circle cx="246.24" cy="217.9" r="1.05"/><circle cx="246.75" cy="217.48" r="1.05"/><circle cx="247.25" cy="217.38" r="1.05"/><circle cx="247.76" cy="216.64" r="1.05"/><circle cx="251.84" cy="213.72" r="1.05"/><circle cx="252.34" cy="213.62" r="1.05"/><circle cx="252.85" cy="212.82" r="1.05"/><circle cx="253.35" cy="212.64" r="1.05"/><circle cx="253.85" cy="212.47" r="1.05"/><circle cx="254.36" cy="212.07" r="1.05"/><circle cx="254.86" cy="211.34" r="1.05"/><circle cx="257.34" cy="209.51" r="1.05"/><circle cx="257.89" cy="209.12" r="1.05"/><circle cx="258.45" cy="209.14" r="1.05"/><circle cx="259" cy="208.4" r="1.05"/><circle cx="259.56" cy="208.23" r="1.05"/><circle cx="263.64" cy="205.31" r="1.05"/><circle cx="264.11" cy="204.68" r="1.05"/><circle cx="264.58" cy="204.31" r="1.05"/><circle cx="265.04" cy="204.3" r="1.05"/><circle cx="265.51" cy="203.79" r="1.05"/><circle cx="265.98" cy="203.27" r="1.05"/><circle cx="266.45" cy="203.15" r="1.05"/><circle cx="266.92" cy="202.61" r="1.05"/><circle cx="267.38" cy="202.24" r="1.05"/><circle cx="267.85" cy="201.76" r="1.05"/><circle cx="268.32" cy="201.79" r="1.05"/><circle cx="268.79" cy="201.53" r="1.05"/><circle cx="269.26" cy="201.04" r="1.05"/><circle cx="269.72" cy="200.85" r="1.05"/><circle cx="270.19" cy="200.05" r="1.05"/><circle cx="270.66" cy="199.81" r="1.05"/><circle cx="274.9" cy="196.81" r="1.25"/><circle cx="275.35" cy="196.72" r="1.25"/><circle cx="275.8" cy="196.39" r="1.25"/><circle cx="276.25" cy="195.77" r="1.25"/><circle cx="276.7" cy="195.37" r="1.25"/><circle cx="277.15" cy="195.13" r="1.25"/><circle cx="277.6" cy="194.83" r="1.25"/><circle cx="278.06" cy="194.71" r="1.25"/><circle cx="278.51" cy="194.01" r="1.25"/><circle cx="278.96" cy="193.99" r="1.25"/><circle cx="279.41" cy="193.62" r="1.25"/><circle cx="279.86" cy="193.33" r="1.25"/><circle cx="280.31" cy="192.98" r="1.25"/><circle cx="280.76" cy="192.56" r="1.25"/><circle cx="281.21" cy="192.09" r="1.25"/><circle cx="281.66" cy="191.76" r="1.25"/><circle cx="282.11" cy="191.45" r="1.25"/><circle cx="282.56" cy="191.32" r="1.25"/><circle cx="283.01" cy="190.64" r="1.25"/><circle cx="283.46" cy="190.37" r="1.25"/><circle cx="283.92" cy="190.31" r="1.25"/><circle cx="284.37" cy="189.73" r="1.25"/><circle cx="284.82" cy="189.31" r="1.25"/><circle cx="285.27" cy="188.96" r="1.25"/><circle cx="285.72" cy="188.89" r="1.25"/><circle cx="286.17" cy="188.44" r="1.25"/><circle cx="286.62" cy="188.44" r="1.25"/><circle cx="287.07" cy="188.06" r="1.25"/><circle cx="287.52" cy="187.78" r="1.25"/><circle cx="287.97" cy="187.09" r="1.25"/><circle cx="288.42" cy="186.66" r="1.25"/><circle cx="288.87" cy="186.34" r="1.25"/><circle cx="289.32" cy="186.21" r="1.25"/><circle cx="289.77" cy="185.98" r="1.25"/><circle cx="290.23" cy="185.52" r="1.25"/><circle cx="290.68" cy="185.08" r="1.25"/><circle cx="291.13" cy="184.84" r="1.25"/><circle cx="291.58" cy="184.61" r="1.25"/><circle cx="292.03" cy="184.3" r="1.25"/><circle cx="292.48" cy="184.01" r="1.25"/><circle cx="292.93" cy="183.73" r="1.25"/><circle cx="293.38" cy="183.3" r="1.25"/><circle cx="293.83" cy="182.7" r="1.25"/><circle cx="294.28" cy="182.73" r="1.25"/><circle cx="294.73" cy="182.12" r="1.25"/><circle cx="295.18" cy="181.93" r="1.25"/><circle cx="295.63" cy="181.5" r="1.25"/><circle cx="296.09" cy="181.35" r="1.25"/><circle cx="296.54" cy="180.75" r="1.25"/><circle cx="296.99" cy="180.44" r="1.25"/><circle cx="297.44" cy="180.11" r="1.25"/><circle cx="297.89" cy="179.73" r="1.25"/><circle cx="298.34" cy="179.77" r="1.25"/><circle cx="298.79" cy="179.28" r="1.25"/><circle cx="299.24" cy="178.82" r="1.25"/><circle cx="299.69" cy="178.53" r="1.25"/><circle cx="300.14" cy="178.49" r="1.25"/><circle cx="300.59" cy="177.92" r="1.25"/><circle cx="301.04" cy="177.45" r="1.25"/><circle cx="301.49" cy="177.41" r="1.25"/><circle cx="301.95" cy="177" r="1.25"/><circle cx="302.4" cy="176.83" r="1.25"/><circle cx="302.85" cy="176.06" r="1.25"/><circle cx="303.3" cy="175.91" r="1.25"/><circle cx="303.75" cy="175.75" r="1.25"/><circle cx="304.2" cy="175.43" r="1.25"/><circle cx="304.65" cy="175.14" r="1.25"/><circle cx="305.1" cy="174.37" r="1.25"/><circle cx="305.55" cy="174.16" r="1.25"/><circle cx="306" cy="173.74" r="1.25"/><circle cx="306.45" cy="173.45" r="1.25"/><circle cx="306.9" cy="173.51" r="1.25"/><circle cx="307.35" cy="172.98" r="1.25"/><circle cx="307.81" cy="172.82" r="1.25"/><circle cx="308.26" cy="172.21" r="1.25"/><circle cx="308.71" cy="172.13" r="1.25"/><circle cx="309.16" cy="171.59" r="1.25"/><circle cx="309.61" cy="171.16" r="1.25"/><circle cx="310.06" cy="171.09" r="1.25"/><circle cx="310.51" cy="170.84" r="1.25"/><circle cx="310.96" cy="170.09" r="1.25"/><circle cx="311.41" cy="170" r="1.25"/><circle cx="311.86" cy="169.68" r="1.25"/><circle cx="312.31" cy="169.15" r="1.25"/><circle cx="312.76" cy="168.89" r="1.25"/><circle cx="313.21" cy="168.45" r="1.25"/><circle cx="313.67" cy="168.15" r="1.25"/><circle cx="314.12" cy="167.84" r="1.25"/><circle cx="314.57" cy="167.68" r="1.25"/><circle cx="315.02" cy="167.38" r="1.25"/><circle cx="315.47" cy="166.82" r="1.25"/><circle cx="315.92" cy="166.39" r="1.25"/><circle cx="316.37" cy="166.22" r="1.25"/><circle cx="316.82" cy="166.06" r="1.25"/><circle cx="317.27" cy="165.48" r="1.25"/><circle cx="317.72" cy="165.22" r="1.25"/><circle cx="318.17" cy="164.83" r="1.25"/><circle cx="318.62" cy="164.79" r="1.25"/><circle cx="319.07" cy="164.34" r="1.25"/><circle cx="319.52" cy="163.76" r="1.25"/><circle cx="319.98" cy="163.45" r="1.25"/><circle cx="320.43" cy="163.27" r="1.25"/><circle cx="320.88" cy="163.01" r="1.25"/><circle cx="321.33" cy="162.73" r="1.25"/><circle cx="321.78" cy="162.12" r="1.25"/><circle cx="322.23" cy="161.82" r="1.25"/><circle cx="322.68" cy="161.76" r="1.25"/><circle cx="323.13" cy="161.28" r="1.25"/><circle cx="323.58" cy="160.89" r="1.25"/><circle cx="324.03" cy="160.57" r="1.25"/><circle cx="324.48" cy="160.56" r="1.25"/><circle cx="324.93" cy="159.91" r="1.25"/><circle cx="325.38" cy="159.7" r="1.25"/><circle cx="325.84" cy="159.27" r="1.25"/><circle cx="326.29" cy="158.97" r="1.25"/><circle cx="326.74" cy="158.86" r="1.25"/><circle cx="327.19" cy="158.59" r="1.25"/><circle cx="327.64" cy="157.94" r="1.25"/><circle cx="328.09" cy="157.53" r="1.25"/><circle cx="328.54" cy="157.46" r="1.25"/><circle cx="328.99" cy="156.87" r="1.25"/><circle cx="329.44" cy="156.44" r="1.25"/><circle cx="329.89" cy="156.55" r="1.25"/><circle cx="330.34" cy="155.98" r="1.25"/><circle cx="330.79" cy="155.85" r="1.25"/><circle cx="331.24" cy="155.31" r="1.25"/><circle cx="331.7" cy="155.22" r="1.25"/><circle cx="332.15" cy="154.67" r="1.25"/><circle cx="332.6" cy="154.19" r="1.25"/><circle cx="333.05" cy="153.79" r="1.25"/><circle cx="333.5" cy="153.73" r="1.25"/><circle cx="333.95" cy="153.44" r="1.25"/><circle cx="334.4" cy="153.24" r="1.25"/></g>
<rect x="380.5" y="152.3" width="129.4" height="95.3" fill="none" stroke="#8f8f8f" stroke-width="1"/>
<path d="M401.01 247.6v-1.6M401.01 152.3v1.6" stroke="#8f8f8f" stroke-width="0.8"/>
<text x="398.49" y="254.9" font-size="5" style='font-family:"Liberation Sans",sans-serif;' text-anchor="start" fill="#262626">1</text>
<path d="M441.7 247.6v-1.6M441.7 152.3v1.6" stroke="#8f8f8f" stroke-width="0.8"/>
<text x="435.42" y="254.9" font-size="5" style='font-family:"Liberation Sans",sans-serif;' text-anchor="start" fill="#262626">1.5</text>
<path d="M482.39 247.6v-1.6M482.39 152.3v1.6" stroke="#8f8f8f" stroke-width="0.8"/>
<text x="479.88" y="254.9" font-size="5" style='font-family:"Liberation Sans",sans-serif;' text-anchor="start" fill="#262626">2</text>
<path d="M380.5 232.5h1.6M509.9 232.5h-1.6" stroke="#8f8f8f" stroke-width="0.8"/>
<text x="373.27" y="232" font-size="5" style='font-family:"Liberation Sans",sans-serif;' text-anchor="start" fill="#262626">1</text>
<path d="M380.5 202.53h1.6M509.9 202.53h-1.6" stroke="#8f8f8f" stroke-width="0.8"/>
<text x="365.74" y="202.03" font-size="5" style='font-family:"Liberation Sans",sans-serif;' text-anchor="start" fill="#262626">1.5</text>
<path d="M380.5 172.56h1.6M509.9 172.56h-1.6" stroke="#8f8f8f" stroke-width="0.8"/>
<text x="373.27" y="172.06" font-size="5" style='font-family:"Liberation Sans",sans-serif;' text-anchor="start" fill="#262626">2</text>
<path d="M381.3 145.9l4 4M381.3 149.9l4 -4" stroke="#262626" stroke-width="0.65"/>
<text x="387.5" y="146.3" font-size="5.2" style='font-family:"Liberation Sans",sans-serif;' text-anchor="start" fill="#262626">10</text>
<text x="396.7" y="143.4" font-size="4.4" style='font-family:"Liberation Sans",sans-serif;' text-anchor="start" fill="#262626">4</text>
<path d="M500.2 254.2l4 4M500.2 258.2l4 -4" stroke="#262626" stroke-width="0.65"/>
<text x="506.4" y="254.6" font-size="5.2" style='font-family:"Liberation Sans",sans-serif;' text-anchor="start" fill="#262626">10</text>
<text x="515.6" y="251.7" font-size="4.4" style='font-family:"Liberation Sans",sans-serif;' text-anchor="start" fill="#262626">4</text>
<line x1="380.5" y1="247.6" x2="509.9" y2="152.3" stroke="#8b9bd8" stroke-width="6"/>
<g fill="#000"><circle cx="380.5" cy="247.39" r="1.3"/><circle cx="382.4" cy="246.26" r="1.05"/><circle cx="382.93" cy="245.74" r="1.05"/><circle cx="383.47" cy="245.42" r="1.05"/><circle cx="384" cy="244.85" r="1.05"/><circle cx="386.44" cy="243.12" r="1.05"/><circle cx="386.9" cy="242.9" r="1.05"/><circle cx="387.36" cy="242.76" r="1.05"/><circle cx="387.82" cy="242.01" r="1.05"/><circle cx="388.28" cy="241.87" r="1.05"/><circle cx="388.74" cy="241.68" r="1.05"/><circle cx="389.2" cy="241.43" r="1.05"/><circle cx="389.66" cy="240.7" r="1.05"/><circle cx="393.84" cy="237.59" r="1.05"/><circle cx="394.3" cy="237.66" r="1.05"/><circle cx="394.77" cy="237.33" r="1.05"/><circle cx="395.23" cy="236.74" r="1.05"/><circle cx="395.7" cy="236.19" r="1.05"/><circle cx="396.16" cy="236.28" r="1.05"/><circle cx="399.54" cy="233.52" r="1.05"/><circle cx="400" cy="233.44" r="1.05"/><circle cx="400.45" cy="232.96" r="1.05"/><circle cx="400.91" cy="232.73" r="1.05"/><circle cx="401.37" cy="232.06" r="1.05"/><circle cx="401.83" cy="232.04" r="1.05"/><circle cx="402.28" cy="231.42" r="1.05"/><circle cx="402.74" cy="231.17" r="1.05"/><circle cx="403.2" cy="231.06" r="1.05"/><circle cx="403.66" cy="230.71" r="1.05"/><circle cx="404.12" cy="230.05" r="1.05"/><circle cx="404.57" cy="229.73" r="1.05"/><circle cx="405.03" cy="229.48" r="1.05"/><circle cx="405.49" cy="229.21" r="1.05"/><circle cx="405.94" cy="228.8" r="1.05"/><circle cx="406.4" cy="228.33" r="1.05"/><circle cx="406.86" cy="228.06" r="1.05"/><circle cx="413.44" cy="223.45" r="1.05"/><circle cx="413.92" cy="223.18" r="1.05"/><circle cx="414.41" cy="222.4" r="1.05"/><circle cx="414.89" cy="222.3" r="1.05"/><circle cx="415.38" cy="222.04" r="1.05"/><circle cx="415.86" cy="221.33" r="1.05"/><circle cx="423.24" cy="216.29" r="1.05"/><circle cx="423.7" cy="215.59" r="1.05"/><circle cx="424.16" cy="215.5" r="1.05"/><circle cx="424.62" cy="215.13" r="1.05"/><circle cx="425.08" cy="214.83" r="1.05"/><circle cx="425.54" cy="214.33" r="1.05"/><circle cx="426" cy="214.05" r="1.05"/><circle cx="426.46" cy="213.79" r="1.05"/><circle cx="428.94" cy="211.89" r="1.05"/><circle cx="429.48" cy="211.61" r="1.05"/><circle cx="430.02" cy="211.1" r="1.05"/><circle cx="430.56" cy="210.7" r="1.05"/><circle cx="433.84" cy="208.08" r="1.05"/><circle cx="434.32" cy="208.02" r="1.05"/><circle cx="434.81" cy="207.6" r="1.05"/><circle cx="435.29" cy="207.11" r="1.05"/><circle cx="435.78" cy="207.02" r="1.05"/><circle cx="436.26" cy="206.67" r="1.05"/><circle cx="439.54" cy="204.1" r="1.05"/><circle cx="440" cy="203.62" r="1.05"/><circle cx="440.45" cy="203.43" r="1.05"/><circle cx="440.91" cy="202.91" r="1.05"/><circle cx="441.37" cy="202.59" r="1.05"/><circle cx="441.82" cy="202.4" r="1.05"/><circle cx="442.28" cy="201.9" r="1.05"/><circle cx="442.74" cy="201.73" r="1.05"/><circle cx="443.19" cy="201.43" r="1.05"/><circle cx="443.65" cy="200.86" r="1.05"/><circle cx="444.11" cy="200.82" r="1.05"/><circle cx="444.56" cy="200.21" r="1.05"/><circle cx="445.02" cy="200.2" r="1.05"/><circle cx="445.48" cy="199.88" r="1.05"/><circle cx="445.94" cy="199.41" r="1.05"/><circle cx="446.39" cy="198.85" r="1.05"/><circle cx="446.85" cy="198.74" r="1.05"/><circle cx="447.31" cy="198.34" r="1.05"/><circle cx="447.76" cy="198.29" r="1.05"/><circle cx="448.22" cy="197.54" r="1.05"/><circle cx="448.68" cy="197.57" r="1.05"/><circle cx="449.13" cy="197.3" r="1.05"/><circle cx="449.59" cy="196.83" r="1.05"/><circle cx="450.05" cy="196.54" r="1.05"/><circle cx="450.5" cy="195.89" r="1.05"/><circle cx="450.96" cy="195.95" r="1.05"/><circle cx="456.9" cy="191.33" r="1.25"/><circle cx="457.35" cy="191.23" r="1.25"/><circle cx="457.8" cy="190.88" r="1.25"/><circle cx="458.26" cy="190.17" r="1.25"/><circle cx="458.71" cy="190.15" r="1.25"/><circle cx="459.16" cy="189.88" r="1.25"/><circle cx="459.61" cy="189.12" r="1.25"/><circle cx="460.07" cy="188.93" r="1.25"/><circle cx="460.52" cy="188.8" r="1.25"/><circle cx="460.97" cy="188.17" r="1.25"/><circle cx="461.42" cy="188.2" r="1.25"/><circle cx="461.87" cy="187.56" r="1.25"/><circle cx="462.33" cy="187.49" r="1.25"/><circle cx="462.78" cy="186.83" r="1.25"/><circle cx="463.23" cy="186.67" r="1.25"/><circle cx="463.68" cy="186.55" r="1.25"/><circle cx="464.13" cy="185.86" r="1.25"/><circle cx="464.59" cy="185.55" r="1.25"/><circle cx="465.04" cy="185.34" r="1.25"/><circle cx="465.49" cy="184.92" r="1.25"/><circle cx="465.94" cy="184.44" r="1.25"/><circle cx="466.4" cy="184.18" r="1.25"/><circle cx="466.85" cy="183.84" r="1.25"/><circle cx="467.3" cy="183.89" r="1.25"/><circle cx="467.75" cy="183.43" r="1.25"/><circle cx="468.2" cy="183.21" r="1.25"/><circle cx="468.66" cy="182.51" r="1.25"/><circle cx="469.11" cy="182.48" r="1.25"/><circle cx="469.56" cy="181.82" r="1.25"/><circle cx="470.01" cy="181.69" r="1.25"/><circle cx="470.47" cy="181.41" r="1.25"/><circle cx="470.92" cy="180.94" r="1.25"/><circle cx="471.37" cy="180.86" r="1.25"/><circle cx="471.82" cy="180.37" r="1.25"/><circle cx="472.27" cy="180.05" r="1.25"/><circle cx="472.73" cy="179.87" r="1.25"/><circle cx="473.18" cy="179.15" r="1.25"/><circle cx="473.63" cy="179.26" r="1.25"/><circle cx="474.08" cy="178.74" r="1.25"/><circle cx="474.53" cy="178.29" r="1.25"/><circle cx="474.99" cy="178.16" r="1.25"/><circle cx="475.44" cy="177.56" r="1.25"/><circle cx="475.89" cy="177.59" r="1.25"/><circle cx="476.34" cy="177.05" r="1.25"/><circle cx="476.8" cy="176.61" r="1.25"/><circle cx="477.25" cy="176.48" r="1.25"/><circle cx="477.7" cy="175.99" r="1.25"/><circle cx="478.15" cy="175.52" r="1.25"/><circle cx="478.6" cy="175.47" r="1.25"/><circle cx="479.06" cy="174.79" r="1.25"/><circle cx="479.51" cy="174.84" r="1.25"/><circle cx="479.96" cy="174.23" r="1.25"/><circle cx="480.41" cy="174.09" r="1.25"/><circle cx="480.87" cy="173.93" r="1.25"/><circle cx="481.32" cy="173.39" r="1.25"/><circle cx="481.77" cy="173.1" r="1.25"/><circle cx="482.22" cy="172.59" r="1.25"/><circle cx="482.67" cy="172.1" r="1.25"/><circle cx="483.13" cy="171.79" r="1.25"/><circle cx="483.58" cy="171.51" r="1.25"/><circle cx="484.03" cy="171.41" r="1.25"/><circle cx="484.48" cy="170.99" r="1.25"/><circle cx="484.93" cy="170.69" r="1.25"/><circle cx="485.39" cy="170.55" r="1.25"/><circle cx="485.84" cy="169.84" r="1.25"/><circle cx="486.29" cy="169.55" r="1.25"/><circle cx="486.74" cy="169.43" r="1.25"/><circle cx="487.2" cy="168.78" r="1.25"/><circle cx="487.65" cy="168.44" r="1.25"/><circle cx="488.1" cy="168.28" r="1.25"/><circle cx="488.55" cy="167.83" r="1.25"/><circle cx="489" cy="167.62" r="1.25"/><circle cx="489.46" cy="167.22" r="1.25"/><circle cx="489.91" cy="167.06" r="1.25"/><circle cx="490.36" cy="166.73" r="1.25"/><circle cx="490.81" cy="166.21" r="1.25"/><circle cx="491.27" cy="166.09" r="1.25"/><circle cx="491.72" cy="165.68" r="1.25"/><circle cx="492.17" cy="165.18" r="1.25"/><circle cx="492.62" cy="165.24" r="1.25"/><circle cx="493.07" cy="164.56" r="1.25"/><circle cx="493.53" cy="164.18" r="1.25"/><circle cx="493.98" cy="163.82" r="1.25"/><circle cx="494.43" cy="163.76" r="1.25"/><circle cx="494.88" cy="163.55" r="1.25"/><circle cx="495.33" cy="163.17" r="1.25"/><circle cx="495.79" cy="162.64" r="1.25"/><circle cx="496.24" cy="162.24" r="1.25"/><circle cx="496.69" cy="161.78" r="1.25"/><circle cx="497.14" cy="161.77" r="1.25"/><circle cx="497.6" cy="161.39" r="1.25"/><circle cx="498.05" cy="160.95" r="1.25"/><circle cx="498.5" cy="160.77" r="1.25"/><circle cx="498.95" cy="160.33" r="1.25"/><circle cx="499.4" cy="160.25" r="1.25"/><circle cx="499.86" cy="159.81" r="1.25"/><circle cx="500.31" cy="159.24" r="1.25"/><circle cx="500.76" cy="159.23" r="1.25"/><circle cx="501.21" cy="158.47" r="1.25"/><circle cx="501.67" cy="158.38" r="1.25"/><circle cx="502.12" cy="157.98" r="1.25"/><circle cx="502.57" cy="157.57" r="1.25"/><circle cx="503.02" cy="157.14" r="1.25"/><circle cx="503.47" cy="157.17" r="1.25"/><circle cx="503.93" cy="156.46" r="1.25"/><circle cx="504.38" cy="156.39" r="1.25"/><circle cx="504.83" cy="156.25" r="1.25"/><circle cx="505.28" cy="155.52" r="1.25"/><circle cx="505.73" cy="155.22" r="1.25"/><circle cx="506.19" cy="155.09" r="1.25"/><circle cx="506.64" cy="154.71" r="1.25"/><circle cx="507.09" cy="154.44" r="1.25"/><circle cx="507.54" cy="154.19" r="1.25"/><circle cx="508" cy="153.54" r="1.25"/><circle cx="508.45" cy="153.27" r="1.25"/><circle cx="508.9" cy="152.94" r="1.25"/><circle cx="466.6" cy="172.3" r="1.45"/><circle cx="486" cy="161.2" r="1.45"/><circle cx="484" cy="168.5" r="1.45"/><circle cx="485" cy="170.5" r="1.45"/><circle cx="486.5" cy="172" r="1.45"/><circle cx="483" cy="170" r="1.45"/><circle cx="477.2" cy="179.3" r="1.45"/><circle cx="478.5" cy="180" r="1.45"/></g>
<rect x="31.5" y="288.5" width="129" height="95.8" fill="none" stroke="#8f8f8f" stroke-width="1"/>
<path d="M52.56 384.3v-1.6M52.56 288.5v1.6" stroke="#8f8f8f" stroke-width="0.8"/>
<text x="50.04" y="391.6" font-size="5" style='font-family:"Liberation Sans",sans-serif;' text-anchor="start" fill="#262626">1</text>
<path d="M92.6 384.3v-1.6M92.6 288.5v1.6" stroke="#8f8f8f" stroke-width="0.8"/>
<text x="86.32" y="391.6" font-size="5" style='font-family:"Liberation Sans",sans-serif;' text-anchor="start" fill="#262626">1.5</text>
<path d="M132.63 384.3v-1.6M132.63 288.5v1.6" stroke="#8f8f8f" stroke-width="0.8"/>
<text x="130.12" y="391.6" font-size="5" style='font-family:"Liberation Sans",sans-serif;' text-anchor="start" fill="#262626">2</text>
<path d="M31.5 368.66h1.6M160.5 368.66h-1.6" stroke="#8f8f8f" stroke-width="0.8"/>
<text x="24.27" y="368.16" font-size="5" style='font-family:"Liberation Sans",sans-serif;' text-anchor="start" fill="#262626">1</text>
<path d="M31.5 338.93h1.6M160.5 338.93h-1.6" stroke="#8f8f8f" stroke-width="0.8"/>
<text x="16.74" y="338.43" font-size="5" style='font-family:"Liberation Sans",sans-serif;' text-anchor="start" fill="#262626">1.5</text>
<path d="M31.5 309.19h1.6M160.5 309.19h-1.6" stroke="#8f8f8f" stroke-width="0.8"/>
<text x="24.27" y="308.69" font-size="5" style='font-family:"Liberation Sans",sans-serif;' text-anchor="start" fill="#262626">2</text>
<line x1="31.5" y1="384.3" x2="160.5" y2="288.5" stroke="#8de3c6" stroke-width="6"/>
<g fill="#000"><circle cx="76.43" cy="358.4" r="1.1"/><circle cx="146.8" cy="293.18" r="1.1"/><circle cx="79.54" cy="349.95" r="1.1"/><circle cx="157.52" cy="290.15" r="1.1"/><circle cx="124.72" cy="317.8" r="1.1"/><circle cx="133.06" cy="300.55" r="1.1"/><circle cx="152.62" cy="291.23" r="1.1"/><circle cx="118.09" cy="315.74" r="1.1"/><circle cx="148.27" cy="293.11" r="1.1"/><circle cx="154.72" cy="293.86" r="1.1"/><circle cx="131.82" cy="306.43" r="1.1"/><circle cx="155.13" cy="290.78" r="1.1"/><circle cx="158.49" cy="289.84" r="1.1"/><circle cx="133.15" cy="304.16" r="1.1"/><circle cx="154.27" cy="295.59" r="1.1"/><circle cx="116.53" cy="313.09" r="1.1"/><circle cx="101.22" cy="313.86" r="1.1"/><circle cx="81.6" cy="351.02" r="1.1"/><circle cx="133.7" cy="300.03" r="1.1"/><circle cx="98.23" cy="338.36" r="1.1"/><circle cx="127.94" cy="308.48" r="1.1"/><circle cx="146.62" cy="299.88" r="1.1"/><circle cx="78.98" cy="360.1" r="1.1"/><circle cx="154.47" cy="291.78" r="1.1"/><circle cx="84.81" cy="358.18" r="1.1"/><circle cx="147.46" cy="297.25" r="1.1"/><circle cx="148.45" cy="295.67" r="1.1"/><circle cx="139.5" cy="298.13" r="1.1"/><circle cx="138.07" cy="298.4" r="1.1"/><circle cx="109.1" cy="327.95" r="1.1"/><circle cx="109.85" cy="332.39" r="1.1"/><circle cx="123.05" cy="305.75" r="1.1"/><circle cx="83.16" cy="353.93" r="1.1"/><circle cx="73.8" cy="341.08" r="1.1"/><circle cx="138.21" cy="303.71" r="1.1"/><circle cx="152.02" cy="293.45" r="1.1"/><circle cx="116.26" cy="311.42" r="1.1"/><circle cx="108.33" cy="316.72" r="1.1"/><circle cx="137.08" cy="301.62" r="1.1"/><circle cx="145.07" cy="298.49" r="1.1"/><circle cx="141.94" cy="302.41" r="1.1"/><circle cx="128.43" cy="309.72" r="1.1"/><circle cx="146.95" cy="300.07" r="1.1"/><circle cx="135.55" cy="306.24" r="1.1"/><circle cx="112.05" cy="320.8" r="1.1"/><circle cx="125.83" cy="307.23" r="1.1"/><circle cx="117.97" cy="318.46" r="1.1"/><circle cx="93.86" cy="342.77" r="1.1"/><circle cx="123.02" cy="318.83" r="1.1"/><circle cx="131.98" cy="306.29" r="1.1"/><circle cx="148.62" cy="294.73" r="1.1"/><circle cx="149.6" cy="293.61" r="1.1"/><circle cx="132.28" cy="306.61" r="1.1"/><circle cx="111.72" cy="322.73" r="1.1"/><circle cx="85.63" cy="345" r="1.1"/><circle cx="140.88" cy="303.5" r="1.1"/><circle cx="115.03" cy="327.81" r="1.1"/><circle cx="153.81" cy="296.37" r="1.1"/><circle cx="154.36" cy="292.77" r="1.1"/><circle cx="145.1" cy="295.21" r="1.1"/><circle cx="114.44" cy="325.07" r="1.1"/><circle cx="95.88" cy="342.4" r="1.1"/><circle cx="136.43" cy="299.04" r="1.1"/><circle cx="133.18" cy="303.94" r="1.1"/><circle cx="126.26" cy="313.2" r="1.1"/><circle cx="146.73" cy="296.12" r="1.1"/><circle cx="153.25" cy="292" r="1.1"/><circle cx="151.56" cy="294.93" r="1.1"/><circle cx="120.2" cy="312.72" r="1.1"/><circle cx="97.21" cy="345.57" r="1.1"/><circle cx="155.69" cy="292.54" r="1.1"/><circle cx="91.49" cy="336.45" r="1.1"/><circle cx="138.83" cy="304.08" r="1.1"/><circle cx="115.2" cy="327.87" r="1.1"/><circle cx="124.23" cy="307.12" r="1.1"/><circle cx="138.64" cy="304.81" r="1.1"/><circle cx="152.39" cy="290.33" r="1.1"/><circle cx="127.65" cy="312.75" r="1.1"/><circle cx="137.26" cy="301.83" r="1.1"/><circle cx="147.73" cy="297.79" r="1.1"/><circle cx="137.03" cy="298.18" r="1.1"/><circle cx="146.7" cy="297.84" r="1.1"/><circle cx="135.86" cy="303.91" r="1.1"/><circle cx="147.68" cy="297.34" r="1.1"/><circle cx="93.48" cy="335.53" r="1.1"/><circle cx="74.19" cy="370" r="1.1"/><circle cx="127.29" cy="312.34" r="1.1"/><circle cx="86.13" cy="342.04" r="1.1"/><circle cx="140.64" cy="304.39" r="1.1"/><circle cx="138.14" cy="303.76" r="1.1"/><circle cx="152.07" cy="293.42" r="1.1"/><circle cx="100.65" cy="339.32" r="1.1"/><circle cx="143.28" cy="296.37" r="1.1"/><circle cx="128.94" cy="306.22" r="1.1"/><circle cx="124.58" cy="316.49" r="1.1"/><circle cx="103.48" cy="335.73" r="1.1"/><circle cx="123.2" cy="311.08" r="1.1"/><circle cx="98.07" cy="328.1" r="1.1"/><circle cx="133.88" cy="306.52" r="1.1"/><circle cx="145.48" cy="292.85" r="1.1"/><circle cx="150.69" cy="290.9" r="1.1"/><circle cx="122.47" cy="308.98" r="1.1"/><circle cx="131.4" cy="304.53" r="1.1"/><circle cx="137.71" cy="306.48" r="1.1"/><circle cx="124.72" cy="314.6" r="1.1"/><circle cx="147.09" cy="293.01" r="1.1"/><circle cx="138.63" cy="300.76" r="1.1"/><circle cx="119.45" cy="318.69" r="1.1"/><circle cx="129.37" cy="306.31" r="1.1"/><circle cx="116.64" cy="308.43" r="1.1"/><circle cx="135.5" cy="308.25" r="1.1"/><circle cx="153.16" cy="290.48" r="1.1"/><circle cx="153.24" cy="294.6" r="1.1"/><circle cx="148.02" cy="297.88" r="1.1"/><circle cx="98.42" cy="342.07" r="1.1"/><circle cx="141.96" cy="302.65" r="1.1"/><circle cx="127.92" cy="304.44" r="1.1"/><circle cx="143.48" cy="295.47" r="1.1"/><circle cx="155.91" cy="291.47" r="1.1"/><circle cx="115.65" cy="308.95" r="1.1"/><circle cx="105.97" cy="329.73" r="1.1"/><circle cx="98.71" cy="323.25" r="1.1"/><circle cx="115.96" cy="329.47" r="1.1"/><circle cx="76.2" cy="349.9" r="1.1"/><circle cx="149.2" cy="294.72" r="1.1"/><circle cx="118.57" cy="321.9" r="1.1"/><circle cx="129.37" cy="307.1" r="1.1"/><circle cx="134.09" cy="306.14" r="1.1"/><circle cx="92.31" cy="348.12" r="1.1"/><circle cx="141.56" cy="301.15" r="1.1"/><circle cx="86.41" cy="338.54" r="1.1"/><circle cx="142.3" cy="302.75" r="1.1"/><circle cx="107.71" cy="329.1" r="1.1"/><circle cx="105.05" cy="319.59" r="1.1"/><circle cx="150.11" cy="295.23" r="1.1"/><circle cx="53.5" cy="360.63" r="1.1"/><circle cx="112.71" cy="325.98" r="1.1"/><circle cx="90.3" cy="333.16" r="1.1"/><circle cx="153.52" cy="291.17" r="1.1"/><circle cx="154.01" cy="292.63" r="1.1"/><circle cx="126.5" cy="312.57" r="1.1"/><circle cx="133.78" cy="303.94" r="1.1"/><circle cx="137.95" cy="301.14" r="1.1"/><circle cx="148.44" cy="299.03" r="1.1"/><circle cx="129.62" cy="307.26" r="1.1"/><circle cx="115.02" cy="313.24" r="1.1"/><circle cx="134.52" cy="303.56" r="1.1"/><circle cx="126.95" cy="316.88" r="1.1"/><circle cx="124.8" cy="319" r="1.1"/><circle cx="132.85" cy="310.62" r="1.1"/><circle cx="119.48" cy="321.8" r="1.1"/><circle cx="99.32" cy="331.89" r="1.1"/><circle cx="155.08" cy="295.43" r="1.1"/><circle cx="153.05" cy="291.61" r="1.1"/><circle cx="134.04" cy="306.72" r="1.1"/><circle cx="146.62" cy="297.21" r="1.1"/><circle cx="88.2" cy="339.05" r="1.1"/><circle cx="140.63" cy="304.7" r="1.1"/><circle cx="118.33" cy="322.11" r="1.1"/><circle cx="83.55" cy="332.91" r="1.1"/><circle cx="114.4" cy="314.91" r="1.1"/><circle cx="82.96" cy="350.68" r="1.1"/><circle cx="82.54" cy="351.5" r="1.1"/><circle cx="99.47" cy="320.58" r="1.1"/><circle cx="147.21" cy="292.11" r="1.1"/><circle cx="127.78" cy="307.31" r="1.1"/><circle cx="149.34" cy="295.07" r="1.1"/><circle cx="137.61" cy="302" r="1.1"/><circle cx="139.91" cy="306.45" r="1.1"/><circle cx="149.7" cy="292.66" r="1.1"/><circle cx="91.15" cy="333.24" r="1.1"/><circle cx="129.55" cy="309.75" r="1.1"/><circle cx="115.2" cy="326.62" r="1.1"/><circle cx="150.23" cy="292.37" r="1.1"/><circle cx="71.84" cy="341.04" r="1.1"/><circle cx="56.54" cy="354.91" r="1.1"/><circle cx="157.27" cy="289.92" r="1.1"/><circle cx="153.88" cy="291.33" r="1.1"/><circle cx="102.82" cy="322.47" r="1.1"/><circle cx="89.57" cy="334.22" r="1.1"/><circle cx="124.99" cy="305.54" r="1.1"/><circle cx="148.99" cy="295.75" r="1.1"/><circle cx="116.97" cy="312.82" r="1.1"/><circle cx="135.49" cy="305.52" r="1.1"/><circle cx="129.52" cy="310.08" r="1.1"/><circle cx="122.78" cy="310.48" r="1.1"/><circle cx="99.06" cy="329.78" r="1.1"/><circle cx="128.46" cy="307.98" r="1.1"/><circle cx="107.33" cy="318.81" r="1.1"/><circle cx="105.38" cy="338.04" r="1.1"/><circle cx="143.75" cy="301.06" r="1.1"/><circle cx="125.77" cy="314.45" r="1.1"/><circle cx="149.59" cy="296.14" r="1.1"/><circle cx="159.44" cy="289.8" r="1.1"/><circle cx="133.24" cy="303.03" r="1.1"/><circle cx="98.44" cy="342.3" r="1.1"/><circle cx="129.49" cy="305.14" r="1.1"/><circle cx="121.03" cy="313.19" r="1.1"/><circle cx="107.11" cy="324.49" r="1.1"/><circle cx="134.16" cy="303.68" r="1.1"/><circle cx="120.2" cy="315.94" r="1.1"/><circle cx="141.14" cy="300.84" r="1.1"/><circle cx="150.03" cy="295.19" r="1.1"/><circle cx="68.55" cy="352.75" r="1.1"/><circle cx="127.07" cy="313.2" r="1.1"/><circle cx="94.24" cy="331.15" r="1.1"/><circle cx="148.16" cy="295.02" r="1.1"/><circle cx="118.87" cy="314.77" r="1.1"/><circle cx="119.98" cy="309.37" r="1.1"/><circle cx="84.39" cy="356.64" r="1.1"/><circle cx="142.2" cy="301.05" r="1.1"/><circle cx="155.33" cy="291.73" r="1.1"/><circle cx="109.43" cy="330.13" r="1.1"/><circle cx="138.15" cy="305.29" r="1.1"/><circle cx="106.44" cy="334.18" r="1.1"/><circle cx="154.75" cy="290.54" r="1.1"/><circle cx="150.31" cy="293.41" r="1.1"/><circle cx="137.63" cy="303.23" r="1.1"/><circle cx="154.44" cy="294.24" r="1.1"/><circle cx="158.58" cy="291.43" r="1.1"/><circle cx="84.79" cy="360.91" r="1.1"/><circle cx="115.92" cy="319.77" r="1.1"/><circle cx="154.74" cy="291.01" r="1.1"/><circle cx="129.79" cy="308.1" r="1.1"/><circle cx="133.59" cy="310.62" r="1.1"/><circle cx="138.06" cy="301.42" r="1.1"/><circle cx="80.05" cy="348.21" r="1.1"/><circle cx="143.02" cy="296.58" r="1.1"/><circle cx="112.77" cy="309.33" r="1.1"/><circle cx="136.6" cy="303.46" r="1.1"/><circle cx="52.1" cy="371.63" r="1.1"/><circle cx="154.27" cy="294.24" r="1.1"/><circle cx="154.87" cy="291.48" r="1.1"/><circle cx="144.89" cy="296.55" r="1.1"/><circle cx="97.53" cy="341.96" r="1.1"/><circle cx="88.42" cy="338.68" r="1.1"/><circle cx="119.88" cy="309.76" r="1.1"/><circle cx="136.79" cy="306.61" r="1.1"/><circle cx="101.23" cy="324.37" r="1.1"/><circle cx="114.73" cy="316.38" r="1.1"/><circle cx="128.7" cy="304.71" r="1.1"/><circle cx="111.97" cy="331.62" r="1.1"/><circle cx="135.54" cy="302.18" r="1.1"/><circle cx="146.26" cy="302.79" r="1.1"/><circle cx="118.32" cy="314.69" r="1.1"/><circle cx="85.14" cy="338.24" r="1.1"/><circle cx="110.64" cy="334.32" r="1.1"/><circle cx="149.31" cy="293.5" r="1.1"/><circle cx="139.08" cy="296.87" r="1.1"/><circle cx="122.35" cy="309.56" r="1.1"/><circle cx="115.85" cy="310.59" r="1.1"/><circle cx="107.16" cy="328.13" r="1.1"/><circle cx="128.43" cy="312.03" r="1.1"/><circle cx="134.38" cy="307.65" r="1.1"/><circle cx="80.15" cy="366.88" r="1.1"/><circle cx="139.62" cy="303.61" r="1.1"/><circle cx="82.38" cy="339.84" r="1.1"/><circle cx="145.83" cy="299.84" r="1.1"/><circle cx="99.2" cy="326.23" r="1.1"/><circle cx="75.25" cy="350.38" r="1.1"/><circle cx="145.97" cy="293.36" r="1.1"/><circle cx="135.67" cy="305.75" r="1.1"/><circle cx="93.91" cy="342.68" r="1.1"/><circle cx="147.74" cy="293.44" r="1.1"/><circle cx="121.17" cy="312.14" r="1.1"/><circle cx="154.32" cy="291.46" r="1.1"/><circle cx="90.48" cy="342.57" r="1.1"/><circle cx="115.48" cy="327.32" r="1.1"/><circle cx="120.64" cy="315.88" r="1.1"/><circle cx="130.21" cy="302.04" r="1.1"/><circle cx="117.57" cy="322.2" r="1.1"/><circle cx="126.78" cy="305.89" r="1.1"/><circle cx="152.29" cy="293.41" r="1.1"/><circle cx="135.03" cy="306.63" r="1.1"/><circle cx="101.32" cy="325.03" r="1.1"/><circle cx="119.4" cy="311.9" r="1.1"/><circle cx="131.35" cy="307.79" r="1.1"/><circle cx="150.28" cy="296.3" r="1.1"/><circle cx="159.77" cy="289.41" r="1.1"/><circle cx="123.74" cy="313.57" r="1.1"/><circle cx="136.7" cy="301.45" r="1.1"/><circle cx="138.34" cy="301.9" r="1.1"/><circle cx="159.46" cy="292.18" r="1.1"/><circle cx="133.69" cy="307.94" r="1.1"/><circle cx="124.35" cy="309.76" r="1.1"/><circle cx="147.1" cy="296.91" r="1.1"/><circle cx="116.99" cy="326.13" r="1.1"/><circle cx="136.84" cy="306.52" r="1.1"/><circle cx="62.39" cy="363.98" r="1.1"/><circle cx="148.83" cy="295.7" r="1.1"/><circle cx="135.23" cy="305.4" r="1.1"/><circle cx="130.53" cy="300.36" r="1.1"/><circle cx="134.1" cy="306.26" r="1.1"/><circle cx="152.3" cy="291.33" r="1.1"/><circle cx="136.07" cy="309.28" r="1.1"/><circle cx="87.79" cy="341.8" r="1.1"/><circle cx="106.4" cy="316.63" r="1.1"/><circle cx="79.22" cy="344.59" r="1.1"/><circle cx="123.75" cy="310.78" r="1.1"/><circle cx="152.6" cy="298.58" r="1.1"/><circle cx="132.75" cy="306.43" r="1.1"/><circle cx="148.9" cy="295.18" r="1.1"/><circle cx="121.4" cy="322.49" r="1.1"/><circle cx="108.27" cy="326.38" r="1.1"/><circle cx="149.37" cy="295.68" r="1.1"/><circle cx="96.17" cy="321.5" r="1.1"/><circle cx="63.2" cy="369.49" r="1.1"/><circle cx="152.44" cy="292.98" r="1.1"/><circle cx="61.1" cy="360.74" r="1.1"/><circle cx="128.78" cy="304.35" r="1.1"/><circle cx="122.05" cy="317.29" r="1.1"/><circle cx="137.65" cy="302.87" r="1.1"/><circle cx="138.9" cy="300.45" r="1.1"/><circle cx="157.51" cy="289.49" r="1.1"/><circle cx="137.22" cy="303.03" r="1.1"/><circle cx="154.49" cy="291.19" r="1.1"/><circle cx="133.41" cy="312.54" r="1.1"/><circle cx="138.9" cy="303.23" r="1.1"/><circle cx="64.25" cy="378.69" r="1.1"/><circle cx="95.13" cy="341.82" r="1.1"/><circle cx="125.31" cy="318.97" r="1.1"/><circle cx="105.24" cy="332.99" r="1.1"/><circle cx="111.06" cy="318.08" r="1.1"/><circle cx="149.21" cy="296.11" r="1.1"/><circle cx="117.6" cy="315.96" r="1.1"/><circle cx="143.69" cy="298.95" r="1.1"/><circle cx="146.37" cy="296.32" r="1.1"/><circle cx="108.55" cy="332.79" r="1.1"/><circle cx="93.47" cy="336.74" r="1.1"/><circle cx="117.46" cy="320.05" r="1.1"/><circle cx="132.79" cy="307.71" r="1.1"/><circle cx="128.44" cy="311.32" r="1.1"/><circle cx="118.06" cy="313.2" r="1.1"/><circle cx="77.92" cy="371.92" r="1.1"/><circle cx="83.93" cy="364.39" r="1.1"/><circle cx="129.32" cy="307.57" r="1.1"/><circle cx="135.3" cy="302.17" r="1.1"/><circle cx="155.63" cy="290.61" r="1.1"/><circle cx="132.35" cy="300.35" r="1.1"/><circle cx="140.52" cy="301.68" r="1.1"/><circle cx="151.73" cy="293.07" r="1.1"/><circle cx="125.87" cy="312.03" r="1.1"/><circle cx="124.58" cy="312.52" r="1.1"/><circle cx="158.49" cy="289.66" r="1.1"/><circle cx="115.84" cy="321.28" r="1.1"/><circle cx="119.2" cy="319.29" r="1.1"/><circle cx="145.02" cy="296.74" r="1.1"/><circle cx="150.58" cy="295.6" r="1.1"/><circle cx="95.28" cy="334.84" r="1.1"/><circle cx="133.51" cy="306.89" r="1.1"/><circle cx="151.92" cy="291.4" r="1.1"/><circle cx="129.53" cy="308.19" r="1.1"/><circle cx="132.29" cy="302.92" r="1.1"/><circle cx="117.74" cy="320.08" r="1.1"/><circle cx="109.06" cy="325.39" r="1.1"/><circle cx="145.71" cy="297.17" r="1.1"/><circle cx="117.74" cy="317.41" r="1.1"/><circle cx="146.55" cy="297.62" r="1.1"/><circle cx="125.27" cy="315.99" r="1.1"/><circle cx="90.14" cy="338.84" r="1.1"/><circle cx="134.95" cy="306.37" r="1.1"/><circle cx="136.7" cy="305.66" r="1.1"/><circle cx="87.53" cy="338.92" r="1.1"/><circle cx="141.9" cy="297.68" r="1.1"/><circle cx="119.63" cy="321.72" r="1.1"/><circle cx="143.6" cy="301.67" r="1.1"/><circle cx="114.74" cy="324.31" r="1.1"/><circle cx="83.62" cy="339.3" r="1.1"/><circle cx="100.78" cy="322.61" r="1.1"/><circle cx="112.98" cy="331.81" r="1.1"/><circle cx="128.5" cy="313.12" r="1.1"/><circle cx="146.53" cy="294.08" r="1.1"/><circle cx="156.18" cy="289.97" r="1.1"/><circle cx="158.5" cy="289.78" r="1.1"/><circle cx="154.43" cy="291.83" r="1.1"/><circle cx="142.69" cy="299.48" r="1.1"/><circle cx="83.08" cy="350.48" r="1.1"/><circle cx="156.95" cy="289.47" r="1.1"/><circle cx="134.24" cy="309.24" r="1.1"/><circle cx="154.2" cy="289.64" r="1.1"/><circle cx="136.88" cy="303.07" r="1.1"/><circle cx="141.79" cy="302.86" r="1.1"/><circle cx="111.71" cy="325.35" r="1.1"/><circle cx="139.44" cy="300.5" r="1.1"/><circle cx="147.76" cy="292.35" r="1.1"/><circle cx="114.99" cy="323.93" r="1.1"/><circle cx="116.75" cy="318.4" r="1.1"/><circle cx="135.34" cy="307.65" r="1.1"/><circle cx="72.64" cy="346.58" r="1.1"/><circle cx="132.27" cy="308.61" r="1.1"/><circle cx="117.14" cy="309" r="1.1"/><circle cx="99.52" cy="333.73" r="1.1"/><circle cx="122.86" cy="313.93" r="1.1"/><circle cx="122.63" cy="303.14" r="1.1"/><circle cx="113.87" cy="324.74" r="1.1"/><circle cx="73.1" cy="363.01" r="1.1"/><circle cx="85.74" cy="354.56" r="1.1"/><circle cx="143.76" cy="304.23" r="1.1"/><circle cx="134.85" cy="304.85" r="1.1"/><circle cx="116.51" cy="315.49" r="1.1"/><circle cx="130.89" cy="306.37" r="1.1"/><circle cx="140.16" cy="302.64" r="1.1"/><circle cx="157.5" cy="292.07" r="1.1"/><circle cx="146.74" cy="299.68" r="1.1"/><circle cx="137.54" cy="305.1" r="1.1"/><circle cx="79.24" cy="351.44" r="1.1"/><circle cx="153.13" cy="291.41" r="1.1"/><circle cx="134.86" cy="303.82" r="1.1"/><circle cx="130.27" cy="300.98" r="1.1"/><circle cx="135.46" cy="302.83" r="1.1"/><circle cx="138.48" cy="299.48" r="1.1"/><circle cx="154.8" cy="292.64" r="1.1"/><circle cx="149.99" cy="293.48" r="1.1"/><circle cx="103.49" cy="336.07" r="1.1"/><circle cx="121.78" cy="319.46" r="1.1"/><circle cx="146.76" cy="296.42" r="1.1"/><circle cx="113.74" cy="317.94" r="1.1"/><circle cx="155.48" cy="291.43" r="1.1"/><circle cx="144.85" cy="297.36" r="1.1"/><circle cx="119.19" cy="315.74" r="1.1"/><circle cx="130.03" cy="311.55" r="1.1"/><circle cx="132.81" cy="308.46" r="1.1"/><circle cx="111.79" cy="315.09" r="1.1"/><circle cx="134.51" cy="306.47" r="1.1"/><circle cx="97.47" cy="324.85" r="1.1"/><circle cx="147.62" cy="294.23" r="1.1"/><circle cx="129.74" cy="307.46" r="1.1"/><circle cx="131.45" cy="307.82" r="1.1"/><circle cx="110.96" cy="317.49" r="1.1"/><circle cx="123.15" cy="317.28" r="1.1"/><circle cx="157.58" cy="290.12" r="1.1"/><circle cx="136.84" cy="300.41" r="1.1"/><circle cx="143.48" cy="297.38" r="1.1"/><circle cx="140.13" cy="305.58" r="1.1"/><circle cx="152.01" cy="293.74" r="1.1"/><circle cx="129.28" cy="306.15" r="1.1"/><circle cx="122.01" cy="315.96" r="1.1"/><circle cx="96.84" cy="339.51" r="1.1"/><circle cx="137.29" cy="304.44" r="1.1"/><circle cx="93.93" cy="333.83" r="1.1"/><circle cx="139" cy="304.02" r="1.1"/><circle cx="122.69" cy="318.81" r="1.1"/><circle cx="99.58" cy="322.86" r="1.1"/><circle cx="138.56" cy="299.35" r="1.1"/><circle cx="146.14" cy="293.62" r="1.1"/><circle cx="141.66" cy="299.51" r="1.1"/><circle cx="52.77" cy="371.91" r="1.1"/><circle cx="121.2" cy="313.03" r="1.1"/><circle cx="142.58" cy="294.61" r="1.1"/><circle cx="128.45" cy="307.29" r="1.1"/><circle cx="116.1" cy="320.6" r="1.1"/><circle cx="154.61" cy="289.86" r="1.1"/><circle cx="119.15" cy="320.3" r="1.1"/><circle cx="132.8" cy="308.02" r="1.1"/><circle cx="141.63" cy="295.39" r="1.1"/><circle cx="114.99" cy="319.89" r="1.1"/><circle cx="146.14" cy="298.93" r="1.1"/><circle cx="126.8" cy="314.37" r="1.1"/><circle cx="144.8" cy="297.55" r="1.1"/><circle cx="127.92" cy="308.29" r="1.1"/><circle cx="116.12" cy="311.03" r="1.1"/><circle cx="133.05" cy="305.54" r="1.1"/><circle cx="77.89" cy="360.62" r="1.1"/><circle cx="147.43" cy="296.3" r="1.1"/><circle cx="115.28" cy="317.26" r="1.1"/><circle cx="97" cy="328.24" r="1.1"/><circle cx="124.52" cy="307.73" r="1.1"/><circle cx="154.95" cy="290.41" r="1.1"/><circle cx="122.18" cy="310.7" r="1.1"/><circle cx="116.49" cy="311.54" r="1.1"/><circle cx="78.32" cy="344.71" r="1.1"/><circle cx="114.61" cy="324.29" r="1.1"/><circle cx="136.8" cy="300.57" r="1.1"/><circle cx="129.05" cy="302.78" r="1.1"/><circle cx="121.71" cy="319.41" r="1.1"/><circle cx="149.76" cy="291.93" r="1.1"/><circle cx="138.91" cy="304.54" r="1.1"/><circle cx="145.96" cy="298.22" r="1.1"/><circle cx="128.21" cy="315.9" r="1.1"/><circle cx="149.89" cy="293.57" r="1.1"/><circle cx="158.89" cy="290.22" r="1.1"/><circle cx="120.95" cy="320.89" r="1.1"/><circle cx="127" cy="308.06" r="1.1"/><circle cx="141.22" cy="302.26" r="1.1"/><circle cx="110.83" cy="322.78" r="1.1"/><circle cx="150.39" cy="295.44" r="1.1"/><circle cx="121.44" cy="310.55" r="1.1"/><circle cx="79.7" cy="374.51" r="1.1"/><circle cx="152.42" cy="292.41" r="1.1"/><circle cx="97.72" cy="341.23" r="1.1"/><circle cx="138.04" cy="306.61" r="1.1"/><circle cx="124.72" cy="312.34" r="1.1"/><circle cx="129.97" cy="304.61" r="1.1"/><circle cx="146.82" cy="295.37" r="1.1"/><circle cx="107.19" cy="326.38" r="1.1"/><circle cx="154.41" cy="294.12" r="1.1"/><circle cx="132.27" cy="303.78" r="1.1"/><circle cx="141.01" cy="301.73" r="1.1"/><circle cx="143.54" cy="298.98" r="1.1"/><circle cx="140.59" cy="302.21" r="1.1"/><circle cx="145.39" cy="293.34" r="1.1"/><circle cx="149.49" cy="291.95" r="1.1"/><circle cx="110.87" cy="324.1" r="1.1"/><circle cx="123.72" cy="312.23" r="1.1"/><circle cx="122.17" cy="315.85" r="1.1"/><circle cx="131.57" cy="312.54" r="1.1"/><circle cx="107.32" cy="321.06" r="1.1"/><circle cx="141.27" cy="298.04" r="1.1"/><circle cx="147.65" cy="300.48" r="1.1"/><circle cx="130.74" cy="300.7" r="1.1"/><circle cx="107.69" cy="317.74" r="1.1"/><circle cx="138.86" cy="302.1" r="1.1"/><circle cx="147.9" cy="299.84" r="1.1"/><circle cx="125.76" cy="308.28" r="1.1"/><circle cx="77.94" cy="354.06" r="1.1"/><circle cx="127.79" cy="302.8" r="1.1"/><circle cx="96.48" cy="315.92" r="1.1"/><circle cx="157.63" cy="289.42" r="1.1"/><circle cx="118.8" cy="316.23" r="1.1"/><circle cx="131.37" cy="304.9" r="1.1"/><circle cx="80.65" cy="330.74" r="1.1"/><circle cx="153.2" cy="292.36" r="1.1"/><circle cx="134.6" cy="303.82" r="1.1"/><circle cx="139.53" cy="303.82" r="1.1"/><circle cx="154.31" cy="290.71" r="1.1"/><circle cx="152.68" cy="290.81" r="1.1"/><circle cx="151.77" cy="292.69" r="1.1"/><circle cx="151.67" cy="296.01" r="1.1"/><circle cx="105.58" cy="324.65" r="1.1"/><circle cx="135.18" cy="305.48" r="1.1"/><circle cx="128.51" cy="309.38" r="1.1"/><circle cx="149.34" cy="293.96" r="1.1"/><circle cx="127.55" cy="313.12" r="1.1"/><circle cx="105.95" cy="331.62" r="1.1"/><circle cx="142.2" cy="300.49" r="1.1"/><circle cx="141.6" cy="295.69" r="1.1"/><circle cx="132.64" cy="306.96" r="1.1"/><circle cx="137.22" cy="300.52" r="1.1"/><circle cx="106.83" cy="315" r="1.1"/><circle cx="86.5" cy="349.24" r="1.1"/><circle cx="60.93" cy="356.78" r="1.1"/><circle cx="153.98" cy="291.39" r="1.1"/><circle cx="129.06" cy="312.45" r="1.1"/><circle cx="127.53" cy="308.28" r="1.1"/><circle cx="137.21" cy="301.73" r="1.1"/><circle cx="142.25" cy="300.69" r="1.1"/><circle cx="145.05" cy="294.94" r="1.1"/><circle cx="156.2" cy="289.92" r="1.1"/><circle cx="88.9" cy="331.7" r="1.1"/><circle cx="119.79" cy="312.55" r="1.1"/><circle cx="145.55" cy="296.77" r="1.1"/><circle cx="149.14" cy="296.92" r="1.1"/><circle cx="87" cy="337.19" r="1.1"/><circle cx="104.64" cy="335.07" r="1.1"/><circle cx="126.37" cy="308.19" r="1.1"/><circle cx="122.67" cy="313.41" r="1.1"/><circle cx="145.66" cy="296.83" r="1.1"/><circle cx="132.61" cy="309.78" r="1.1"/><circle cx="113" cy="320.39" r="1.1"/><circle cx="118.69" cy="323.71" r="1.1"/><circle cx="128.86" cy="349" r="1.1"/><circle cx="57.56" cy="380.9" r="1.1"/><circle cx="108.04" cy="346.11" r="1.1"/><circle cx="84.19" cy="374.89" r="1.1"/><circle cx="111.43" cy="339.89" r="1.1"/><circle cx="125.44" cy="333.21" r="1.1"/><circle cx="104.74" cy="342.45" r="1.1"/><circle cx="114.74" cy="354.14" r="1.1"/><circle cx="48.84" cy="378.86" r="1.1"/><circle cx="60.39" cy="375.98" r="1.1"/><circle cx="73.79" cy="372.6" r="1.1"/><circle cx="105.64" cy="341.71" r="1.1"/><circle cx="124.75" cy="341.58" r="1.1"/><circle cx="113.08" cy="338.89" r="1.1"/><circle cx="86.32" cy="374.23" r="1.1"/><circle cx="78.16" cy="355.68" r="1.1"/><circle cx="124.26" cy="349.37" r="1.1"/><circle cx="72.2" cy="361.62" r="1.1"/><circle cx="126.14" cy="341.88" r="1.1"/><circle cx="116.2" cy="330.5" r="1.1"/><circle cx="110.99" cy="345.44" r="1.1"/><circle cx="116.02" cy="357.37" r="1.1"/><circle cx="71.71" cy="363.68" r="1.1"/><circle cx="134.9" cy="328.77" r="1.1"/><circle cx="133.37" cy="339.55" r="1.1"/><circle cx="115.17" cy="358.04" r="1.1"/><circle cx="104.67" cy="352.26" r="1.1"/><circle cx="85.69" cy="368.48" r="1.1"/><circle cx="133.17" cy="319.39" r="1.1"/><circle cx="117.38" cy="328.09" r="1.1"/><circle cx="111.76" cy="359.7" r="1.1"/><circle cx="69.81" cy="381.52" r="1.1"/><circle cx="137.09" cy="334.83" r="1.1"/><circle cx="96.67" cy="350.89" r="1.1"/><circle cx="84.11" cy="358.48" r="1.1"/><circle cx="74.5" cy="363.28" r="1.1"/><circle cx="112.16" cy="354.53" r="1.1"/><circle cx="67.6" cy="372.19" r="1.1"/><circle cx="93.96" cy="359.94" r="1.1"/><circle cx="133.91" cy="326.9" r="1.1"/><circle cx="97.08" cy="368.97" r="1.1"/><circle cx="101.87" cy="354.64" r="1.1"/><circle cx="117.79" cy="356.14" r="1.1"/><circle cx="55.88" cy="382.61" r="1.1"/><circle cx="79.25" cy="362.27" r="1.1"/><circle cx="87.56" cy="352.73" r="1.1"/><circle cx="75.82" cy="374.25" r="1.1"/><circle cx="79.48" cy="360.72" r="1.1"/><circle cx="51.82" cy="375.6" r="1.1"/><circle cx="139.25" cy="337.3" r="1.1"/><circle cx="138.12" cy="331.41" r="1.1"/><circle cx="86.25" cy="356.47" r="1.1"/><circle cx="96.59" cy="342.26" r="1.1"/><circle cx="132.36" cy="338.6" r="1.1"/><circle cx="104.64" cy="369.66" r="1.1"/><circle cx="107" cy="343.28" r="1.1"/><circle cx="68.37" cy="367.91" r="1.1"/><circle cx="124.76" cy="331.71" r="1.1"/><circle cx="125.34" cy="353.97" r="1.1"/><circle cx="123.89" cy="348.41" r="1.1"/><circle cx="31.6" cy="376.3" r="1.1"/></g>
<rect x="205.9" y="288.5" width="129.5" height="95.8" fill="none" stroke="#8f8f8f" stroke-width="1"/>
<path d="M208.49 384.3v-1.6M208.49 288.5v1.6" stroke="#8f8f8f" stroke-width="0.8"/>
<text x="202.21" y="391.6" font-size="5" style='font-family:"Liberation Sans",sans-serif;' text-anchor="start" fill="#262626">1.5</text>
<path d="M240.06 384.3v-1.6M240.06 288.5v1.6" stroke="#8f8f8f" stroke-width="0.8"/>
<text x="237.54" y="391.6" font-size="5" style='font-family:"Liberation Sans",sans-serif;' text-anchor="start" fill="#262626">2</text>
<path d="M271.63 384.3v-1.6M271.63 288.5v1.6" stroke="#8f8f8f" stroke-width="0.8"/>
<text x="265.35" y="391.6" font-size="5" style='font-family:"Liberation Sans",sans-serif;' text-anchor="start" fill="#262626">2.5</text>
<path d="M303.2 384.3v-1.6M303.2 288.5v1.6" stroke="#8f8f8f" stroke-width="0.8"/>
<text x="300.68" y="391.6" font-size="5" style='font-family:"Liberation Sans",sans-serif;' text-anchor="start" fill="#262626">3</text>
<path d="M334.77 384.3v-1.6M334.77 288.5v1.6" stroke="#8f8f8f" stroke-width="0.8"/>
<text x="328.49" y="391.6" font-size="5" style='font-family:"Liberation Sans",sans-serif;' text-anchor="start" fill="#262626">3.5</text>
<path d="M205.9 382.38h1.6M335.4 382.38h-1.6" stroke="#8f8f8f" stroke-width="0.8"/>
<text x="191.14" y="381.88" font-size="5" style='font-family:"Liberation Sans",sans-serif;' text-anchor="start" fill="#262626">1.5</text>
<path d="M205.9 359.03h1.6M335.4 359.03h-1.6" stroke="#8f8f8f" stroke-width="0.8"/>
<text x="198.67" y="358.53" font-size="5" style='font-family:"Liberation Sans",sans-serif;' text-anchor="start" fill="#262626">2</text>
<path d="M205.9 335.68h1.6M335.4 335.68h-1.6" stroke="#8f8f8f" stroke-width="0.8"/>
<text x="191.14" y="335.18" font-size="5" style='font-family:"Liberation Sans",sans-serif;' text-anchor="start" fill="#262626">2.5</text>
<path d="M205.9 312.32h1.6M335.4 312.32h-1.6" stroke="#8f8f8f" stroke-width="0.8"/>
<text x="198.67" y="311.82" font-size="5" style='font-family:"Liberation Sans",sans-serif;' text-anchor="start" fill="#262626">3</text>
<path d="M205.9 288.97h1.6M335.4 288.97h-1.6" stroke="#8f8f8f" stroke-width="0.8"/>
<text x="191.14" y="288.47" font-size="5" style='font-family:"Liberation Sans",sans-serif;' text-anchor="start" fill="#262626">3.5</text>
<line x1="205.9" y1="384.3" x2="335.4" y2="288.5" stroke="#f26b61" stroke-width="6"/>
<g fill="#000"><circle cx="321.13" cy="321.44" r="1.1"/><circle cx="315.54" cy="320.89" r="1.1"/><circle cx="319.64" cy="314.11" r="1.1"/><circle cx="301.46" cy="335.96" r="1.1"/><circle cx="304.92" cy="342.81" r="1.1"/><circle cx="332.92" cy="307.75" r="1.1"/><circle cx="325.72" cy="301.53" r="1.1"/><circle cx="308.43" cy="310.03" r="1.1"/><circle cx="316.24" cy="317.79" r="1.1"/><circle cx="308.89" cy="329.38" r="1.1"/><circle cx="316.8" cy="318.84" r="1.1"/><circle cx="304.77" cy="323.24" r="1.1"/><circle cx="324.4" cy="321.19" r="1.1"/><circle cx="330" cy="299.04" r="1.1"/><circle cx="325.41" cy="318.95" r="1.1"/><circle cx="323.79" cy="319.14" r="1.1"/><circle cx="332.53" cy="296.34" r="1.1"/><circle cx="311.7" cy="331.58" r="1.1"/><circle cx="310.76" cy="325.25" r="1.1"/><circle cx="305.33" cy="327.29" r="1.1"/><circle cx="320.81" cy="303.43" r="1.1"/><circle cx="322.32" cy="301.98" r="1.1"/><circle cx="309.57" cy="313.03" r="1.1"/><circle cx="321.05" cy="300.74" r="1.1"/><circle cx="300.35" cy="357.58" r="1.1"/><circle cx="299.34" cy="354.61" r="1.1"/><circle cx="320.57" cy="326.92" r="1.1"/><circle cx="314.6" cy="305.49" r="1.1"/><circle cx="306.84" cy="313.9" r="1.1"/><circle cx="296.28" cy="343.92" r="1.1"/><circle cx="317.92" cy="308.11" r="1.1"/><circle cx="276.13" cy="363.35" r="1.1"/><circle cx="293.38" cy="354.63" r="1.1"/><circle cx="331.05" cy="302.37" r="1.1"/><circle cx="328.33" cy="303.49" r="1.1"/><circle cx="316.09" cy="315.39" r="1.1"/><circle cx="318.11" cy="303.54" r="1.1"/><circle cx="283.94" cy="361.26" r="1.1"/><circle cx="312.94" cy="318.36" r="1.1"/><circle cx="324.02" cy="306.12" r="1.1"/><circle cx="264.88" cy="373.7" r="1.1"/><circle cx="330.97" cy="306.68" r="1.1"/><circle cx="273.98" cy="361.24" r="1.1"/><circle cx="305.01" cy="326.98" r="1.1"/><circle cx="323.53" cy="300.37" r="1.1"/><circle cx="328.51" cy="297.67" r="1.1"/><circle cx="302.18" cy="326.58" r="1.1"/><circle cx="291.35" cy="342.65" r="1.1"/><circle cx="331.53" cy="297.81" r="1.1"/><circle cx="316.43" cy="316.9" r="1.1"/><circle cx="317.6" cy="316.01" r="1.1"/><circle cx="333.01" cy="296.87" r="1.1"/><circle cx="318.76" cy="324.48" r="1.1"/><circle cx="311.33" cy="323.44" r="1.1"/><circle cx="326.48" cy="299.08" r="1.1"/><circle cx="307.28" cy="324.85" r="1.1"/><circle cx="303.13" cy="323.34" r="1.1"/><circle cx="304.78" cy="331.42" r="1.1"/><circle cx="316.9" cy="308.19" r="1.1"/><circle cx="316.02" cy="319.91" r="1.1"/><circle cx="328.44" cy="300.72" r="1.1"/><circle cx="274.41" cy="366.94" r="1.1"/><circle cx="309.44" cy="315.63" r="1.1"/><circle cx="310.21" cy="316.52" r="1.1"/><circle cx="313.32" cy="327.56" r="1.1"/><circle cx="331.35" cy="310.52" r="1.1"/><circle cx="306.46" cy="344.49" r="1.1"/><circle cx="324.44" cy="305.48" r="1.1"/><circle cx="317.36" cy="321.45" r="1.1"/><circle cx="311.96" cy="322.37" r="1.1"/><circle cx="328.07" cy="297.82" r="1.1"/><circle cx="305.98" cy="315.59" r="1.1"/><circle cx="267.03" cy="376.95" r="1.1"/><circle cx="320.72" cy="301.85" r="1.1"/><circle cx="294.63" cy="358.44" r="1.1"/><circle cx="311.67" cy="329.55" r="1.1"/><circle cx="305" cy="344.53" r="1.1"/><circle cx="323.23" cy="315.66" r="1.1"/><circle cx="308.66" cy="332.07" r="1.1"/><circle cx="259.39" cy="373.04" r="1.1"/><circle cx="274.42" cy="357.55" r="1.1"/><circle cx="323.88" cy="305.27" r="1.1"/><circle cx="311.33" cy="340.64" r="1.1"/><circle cx="306.17" cy="324.71" r="1.1"/><circle cx="328.5" cy="307.61" r="1.1"/><circle cx="315.77" cy="332.65" r="1.1"/><circle cx="317.93" cy="303.06" r="1.1"/><circle cx="276.71" cy="366.58" r="1.1"/><circle cx="313.21" cy="312.82" r="1.1"/><circle cx="303.55" cy="330.44" r="1.1"/><circle cx="311.03" cy="312.2" r="1.1"/><circle cx="324.08" cy="316.45" r="1.1"/><circle cx="315.61" cy="317.74" r="1.1"/><circle cx="276.46" cy="368.84" r="1.1"/><circle cx="316.19" cy="311.62" r="1.1"/><circle cx="332.95" cy="309.31" r="1.1"/><circle cx="306.69" cy="319" r="1.1"/><circle cx="272.73" cy="375.84" r="1.1"/><circle cx="313.95" cy="306.67" r="1.1"/><circle cx="311.88" cy="308.17" r="1.1"/><circle cx="261.51" cy="376.29" r="1.1"/><circle cx="327.85" cy="297.18" r="1.1"/><circle cx="300.18" cy="330.16" r="1.1"/><circle cx="273.48" cy="367.8" r="1.1"/><circle cx="317.19" cy="305.41" r="1.1"/><circle cx="300.31" cy="351.57" r="1.1"/><circle cx="302.47" cy="336.06" r="1.1"/><circle cx="322.96" cy="323.35" r="1.1"/><circle cx="311.05" cy="316.93" r="1.1"/><circle cx="328.12" cy="299.79" r="1.1"/><circle cx="308.2" cy="328.28" r="1.1"/><circle cx="333.28" cy="294.89" r="1.1"/><circle cx="309.81" cy="327.54" r="1.1"/><circle cx="304.92" cy="326.37" r="1.1"/><circle cx="266.23" cy="377.86" r="1.1"/><circle cx="309.04" cy="314.22" r="1.1"/><circle cx="274.7" cy="370.32" r="1.1"/><circle cx="315.33" cy="321.25" r="1.1"/><circle cx="334.73" cy="294.08" r="1.1"/><circle cx="313.77" cy="327.06" r="1.1"/><circle cx="313.31" cy="312.75" r="1.1"/><circle cx="299.71" cy="334.04" r="1.1"/><circle cx="320.46" cy="308.48" r="1.1"/><circle cx="333.25" cy="297.63" r="1.1"/><circle cx="271.31" cy="362.69" r="1.1"/><circle cx="314.15" cy="315.12" r="1.1"/><circle cx="306.17" cy="332.04" r="1.1"/><circle cx="314.29" cy="331.74" r="1.1"/><circle cx="291.8" cy="357.74" r="1.1"/><circle cx="307.34" cy="324.82" r="1.1"/><circle cx="310.1" cy="325.14" r="1.1"/><circle cx="332.33" cy="295.49" r="1.1"/><circle cx="331.43" cy="298.85" r="1.1"/><circle cx="310.46" cy="317.07" r="1.1"/><circle cx="281.88" cy="364.07" r="1.1"/><circle cx="328.55" cy="297.69" r="1.1"/><circle cx="320.23" cy="326.37" r="1.1"/><circle cx="325.56" cy="310.1" r="1.1"/><circle cx="309.01" cy="325.28" r="1.1"/><circle cx="326.23" cy="299.95" r="1.1"/><circle cx="330.98" cy="296.15" r="1.1"/><circle cx="317.99" cy="328.85" r="1.1"/><circle cx="309.22" cy="330.95" r="1.1"/><circle cx="330.66" cy="297.41" r="1.1"/><circle cx="317.02" cy="303.92" r="1.1"/><circle cx="269.62" cy="362.67" r="1.1"/><circle cx="331.48" cy="298.62" r="1.1"/><circle cx="310.28" cy="334.55" r="1.1"/><circle cx="319.91" cy="329.11" r="1.1"/><circle cx="323.51" cy="306.22" r="1.1"/><circle cx="331.58" cy="294.51" r="1.1"/><circle cx="311.31" cy="316.04" r="1.1"/><circle cx="295.75" cy="336.92" r="1.1"/><circle cx="306.87" cy="315.6" r="1.1"/><circle cx="302.69" cy="339.1" r="1.1"/><circle cx="321.35" cy="310.82" r="1.1"/><circle cx="329.71" cy="298.3" r="1.1"/><circle cx="307.39" cy="328.35" r="1.1"/><circle cx="311.64" cy="316.98" r="1.1"/><circle cx="272.32" cy="367.76" r="1.1"/><circle cx="305.7" cy="347.7" r="1.1"/><circle cx="323.41" cy="300.04" r="1.1"/><circle cx="322.97" cy="318.77" r="1.1"/><circle cx="316.82" cy="306.25" r="1.1"/><circle cx="330.7" cy="302.47" r="1.1"/><circle cx="305.74" cy="349.35" r="1.1"/><circle cx="283.43" cy="351.62" r="1.1"/><circle cx="301.98" cy="352.44" r="1.1"/><circle cx="317.31" cy="318.67" r="1.1"/><circle cx="307.03" cy="320.77" r="1.1"/><circle cx="285.12" cy="364.67" r="1.1"/><circle cx="331.93" cy="296.77" r="1.1"/><circle cx="309.25" cy="312.76" r="1.1"/><circle cx="318.24" cy="303.61" r="1.1"/><circle cx="321.2" cy="318.42" r="1.1"/><circle cx="332.23" cy="301.81" r="1.1"/><circle cx="323.21" cy="301.43" r="1.1"/><circle cx="307.64" cy="313.08" r="1.1"/><circle cx="292.57" cy="349.15" r="1.1"/><circle cx="313.18" cy="331.77" r="1.1"/><circle cx="316.13" cy="309.02" r="1.1"/><circle cx="322.56" cy="299.83" r="1.1"/><circle cx="327.13" cy="296.83" r="1.1"/><circle cx="298.84" cy="348.33" r="1.1"/><circle cx="316.53" cy="323.64" r="1.1"/><circle cx="332.26" cy="307.77" r="1.1"/><circle cx="331.15" cy="306.52" r="1.1"/><circle cx="325.58" cy="303.83" r="1.1"/><circle cx="318.68" cy="303.88" r="1.1"/><circle cx="310.69" cy="324.82" r="1.1"/><circle cx="313.6" cy="311.09" r="1.1"/><circle cx="282.1" cy="368.81" r="1.1"/><circle cx="310.41" cy="313.26" r="1.1"/><circle cx="314.4" cy="316.19" r="1.1"/><circle cx="312.34" cy="337.52" r="1.1"/><circle cx="323.01" cy="301.08" r="1.1"/><circle cx="285.27" cy="353.71" r="1.1"/><circle cx="331.96" cy="297.46" r="1.1"/><circle cx="277.95" cy="371.35" r="1.1"/><circle cx="302.67" cy="328.61" r="1.1"/><circle cx="321.97" cy="314.57" r="1.1"/><circle cx="314.84" cy="306.7" r="1.1"/><circle cx="316.03" cy="310.65" r="1.1"/><circle cx="300.53" cy="347.46" r="1.1"/><circle cx="324.1" cy="301.76" r="1.1"/><circle cx="326.06" cy="307.63" r="1.1"/><circle cx="297.03" cy="356.63" r="1.1"/><circle cx="330.26" cy="303.73" r="1.1"/><circle cx="311.24" cy="315.17" r="1.1"/><circle cx="313.77" cy="310.63" r="1.1"/><circle cx="313.89" cy="328.12" r="1.1"/><circle cx="283.13" cy="360.61" r="1.1"/><circle cx="334" cy="295.37" r="1.1"/><circle cx="309.4" cy="329.17" r="1.1"/><circle cx="310.77" cy="322.18" r="1.1"/><circle cx="310.41" cy="318.54" r="1.1"/><circle cx="316.07" cy="304.14" r="1.1"/><circle cx="273.81" cy="363.13" r="1.1"/><circle cx="321.43" cy="312.83" r="1.1"/><circle cx="312.35" cy="309.91" r="1.1"/><circle cx="297.37" cy="338.28" r="1.1"/><circle cx="314.28" cy="323.59" r="1.1"/><circle cx="326.74" cy="300.38" r="1.1"/><circle cx="315.79" cy="325.57" r="1.1"/><circle cx="331.06" cy="298.79" r="1.1"/><circle cx="327.31" cy="296.95" r="1.1"/><circle cx="324.82" cy="306.14" r="1.1"/><circle cx="332.26" cy="297.92" r="1.1"/><circle cx="303.32" cy="347.89" r="1.1"/><circle cx="313.79" cy="318.46" r="1.1"/><circle cx="317.9" cy="317.31" r="1.1"/><circle cx="313.72" cy="323.17" r="1.1"/><circle cx="279.26" cy="367.7" r="1.1"/><circle cx="310.79" cy="308.34" r="1.1"/><circle cx="325.69" cy="319" r="1.1"/><circle cx="318.66" cy="310.58" r="1.1"/><circle cx="323.61" cy="303.11" r="1.1"/><circle cx="326.08" cy="316.42" r="1.1"/><circle cx="320.23" cy="320.44" r="1.1"/><circle cx="325.79" cy="317.13" r="1.1"/><circle cx="306.46" cy="338.46" r="1.1"/><circle cx="306.51" cy="315.82" r="1.1"/><circle cx="306.92" cy="316.3" r="1.1"/><circle cx="276.48" cy="361.85" r="1.1"/><circle cx="319.99" cy="322.71" r="1.1"/><circle cx="320.97" cy="323.38" r="1.1"/><circle cx="315.13" cy="305.22" r="1.1"/><circle cx="317.34" cy="328.71" r="1.1"/><circle cx="306.75" cy="327.91" r="1.1"/><circle cx="282.25" cy="364.43" r="1.1"/><circle cx="328.08" cy="305.03" r="1.1"/><circle cx="290" cy="345.44" r="1.1"/><circle cx="310.12" cy="316.93" r="1.1"/><circle cx="333.98" cy="301.88" r="1.1"/><circle cx="301.69" cy="352.75" r="1.1"/><circle cx="317.01" cy="321.31" r="1.1"/><circle cx="314.42" cy="305.66" r="1.1"/><circle cx="314.67" cy="331.44" r="1.1"/><circle cx="326.51" cy="297.33" r="1.1"/><circle cx="315.03" cy="312.86" r="1.1"/><circle cx="308.04" cy="321.81" r="1.1"/><circle cx="292.56" cy="360.65" r="1.1"/><circle cx="326.97" cy="296.56" r="1.1"/><circle cx="296.38" cy="336.39" r="1.1"/><circle cx="330.42" cy="313.01" r="1.1"/><circle cx="322.83" cy="300" r="1.1"/><circle cx="311.58" cy="322.7" r="1.1"/><circle cx="321.28" cy="317.74" r="1.1"/><circle cx="298.43" cy="337.36" r="1.1"/><circle cx="286.6" cy="353.11" r="1.1"/><circle cx="322.38" cy="299.27" r="1.1"/><circle cx="294.92" cy="346.94" r="1.1"/><circle cx="333.42" cy="307.75" r="1.1"/><circle cx="307.87" cy="319.68" r="1.1"/><circle cx="320.03" cy="302.58" r="1.1"/><circle cx="269.68" cy="363.04" r="1.1"/><circle cx="308.11" cy="311.58" r="1.1"/><circle cx="265.13" cy="364.68" r="1.1"/><circle cx="316.44" cy="311.98" r="1.1"/><circle cx="334.11" cy="294.77" r="1.1"/><circle cx="315.28" cy="332.95" r="1.1"/><circle cx="299.98" cy="338.87" r="1.1"/><circle cx="329.46" cy="311.28" r="1.1"/><circle cx="313.81" cy="326.14" r="1.1"/><circle cx="323.49" cy="304.6" r="1.1"/><circle cx="322.25" cy="299.67" r="1.1"/><circle cx="310.61" cy="333.54" r="1.1"/><circle cx="295.41" cy="353.95" r="1.1"/><circle cx="325.44" cy="305.91" r="1.1"/><circle cx="334.55" cy="299.27" r="1.1"/><circle cx="325.39" cy="313.21" r="1.1"/><circle cx="277.74" cy="356.29" r="1.1"/><circle cx="327.91" cy="297.2" r="1.1"/><circle cx="305.84" cy="316.09" r="1.1"/><circle cx="299.86" cy="357.6" r="1.1"/><circle cx="299.86" cy="353.64" r="1.1"/><circle cx="312.87" cy="307.68" r="1.1"/><circle cx="276.84" cy="370.97" r="1.1"/><circle cx="328.07" cy="300.52" r="1.1"/><circle cx="304.55" cy="318.44" r="1.1"/><circle cx="297.12" cy="356.58" r="1.1"/><circle cx="319.05" cy="304.26" r="1.1"/><circle cx="318.89" cy="330.04" r="1.1"/><circle cx="294.67" cy="339.87" r="1.1"/><circle cx="273.42" cy="365.26" r="1.1"/><circle cx="307.35" cy="319.43" r="1.1"/><circle cx="274.43" cy="358.58" r="1.1"/><circle cx="326.92" cy="303.55" r="1.1"/><circle cx="302.45" cy="337.69" r="1.1"/><circle cx="333.81" cy="296.57" r="1.1"/><circle cx="319.59" cy="309.1" r="1.1"/><circle cx="287.18" cy="353.35" r="1.1"/><circle cx="304.96" cy="323.27" r="1.1"/><circle cx="314.36" cy="317.03" r="1.1"/><circle cx="334.37" cy="295.76" r="1.1"/><circle cx="310.27" cy="338.69" r="1.1"/><circle cx="311.81" cy="320.35" r="1.1"/><circle cx="325.58" cy="307.53" r="1.1"/><circle cx="323.36" cy="301.53" r="1.1"/><circle cx="266.18" cy="370.15" r="1.1"/><circle cx="325.76" cy="308.81" r="1.1"/><circle cx="321.61" cy="315.6" r="1.1"/><circle cx="330.66" cy="311.57" r="1.1"/><circle cx="322.23" cy="299.37" r="1.1"/><circle cx="304.98" cy="324.37" r="1.1"/><circle cx="300.95" cy="351.75" r="1.1"/><circle cx="316.29" cy="308.94" r="1.1"/><circle cx="323.79" cy="301.97" r="1.1"/><circle cx="287.07" cy="363.91" r="1.1"/><circle cx="325.87" cy="313.01" r="1.1"/><circle cx="283.89" cy="350.34" r="1.1"/><circle cx="312.22" cy="309.96" r="1.1"/><circle cx="287.81" cy="349.54" r="1.1"/><circle cx="324.28" cy="302.16" r="1.1"/><circle cx="307.39" cy="312.75" r="1.1"/><circle cx="287.73" cy="365.61" r="1.1"/><circle cx="318.44" cy="305.62" r="1.1"/><circle cx="304.82" cy="324.76" r="1.1"/><circle cx="312.65" cy="314.86" r="1.1"/><circle cx="312.19" cy="312.81" r="1.1"/><circle cx="314.73" cy="326.27" r="1.1"/><circle cx="333.06" cy="298.25" r="1.1"/><circle cx="316.85" cy="313.72" r="1.1"/><circle cx="328.87" cy="303.73" r="1.1"/><circle cx="326.07" cy="301.87" r="1.1"/><circle cx="319.87" cy="308.6" r="1.1"/><circle cx="322.27" cy="303.94" r="1.1"/><circle cx="296.8" cy="340.6" r="1.1"/><circle cx="286.53" cy="366.07" r="1.1"/><circle cx="297.4" cy="338.09" r="1.1"/><circle cx="213.5" cy="375.4" r="1.1"/><circle cx="225.5" cy="367.6" r="1.1"/><circle cx="227.1" cy="369.6" r="1.1"/><circle cx="230.7" cy="366.6" r="1.1"/><circle cx="243" cy="366.6" r="1.1"/><circle cx="239.8" cy="378.9" r="1.1"/><circle cx="244.6" cy="376.5" r="1.1"/><circle cx="245.3" cy="379.9" r="1.1"/><circle cx="250.8" cy="378.1" r="1.1"/><circle cx="250.1" cy="382.6" r="1.1"/><circle cx="264" cy="364.8" r="1.1"/><circle cx="259" cy="383.3" r="1.1"/><circle cx="276" cy="353.9" r="1.1"/><circle cx="276" cy="366.9" r="1.1"/><circle cx="285.6" cy="375.8" r="1.1"/><circle cx="299.6" cy="371.9" r="1.1"/><circle cx="263" cy="370" r="1.1"/><circle cx="265" cy="372" r="1.1"/><circle cx="267" cy="374" r="1.1"/><circle cx="268.5" cy="377" r="1.1"/><circle cx="268" cy="380" r="1.1"/><circle cx="266" cy="382" r="1.1"/><circle cx="263.5" cy="378" r="1.1"/><circle cx="262.5" cy="375" r="1.1"/><circle cx="264.5" cy="368.5" r="1.1"/></g>
<rect x="380.5" y="288.5" width="129.4" height="95.8" fill="none" stroke="#8f8f8f" stroke-width="1"/>
<path d="M385.78 384.3v-1.6M385.78 288.5v1.6" stroke="#8f8f8f" stroke-width="0.8"/>
<text x="379.5" y="391.6" font-size="5" style='font-family:"Liberation Sans",sans-serif;' text-anchor="start" fill="#262626">1.5</text>
<path d="M416.45 384.3v-1.6M416.45 288.5v1.6" stroke="#8f8f8f" stroke-width="0.8"/>
<text x="413.94" y="391.6" font-size="5" style='font-family:"Liberation Sans",sans-serif;' text-anchor="start" fill="#262626">2</text>
<path d="M447.13 384.3v-1.6M447.13 288.5v1.6" stroke="#8f8f8f" stroke-width="0.8"/>
<text x="440.85" y="391.6" font-size="5" style='font-family:"Liberation Sans",sans-serif;' text-anchor="start" fill="#262626">2.5</text>
<path d="M477.81 384.3v-1.6M477.81 288.5v1.6" stroke="#8f8f8f" stroke-width="0.8"/>
<text x="475.3" y="391.6" font-size="5" style='font-family:"Liberation Sans",sans-serif;' text-anchor="start" fill="#262626">3</text>
<path d="M508.49 384.3v-1.6M508.49 288.5v1.6" stroke="#8f8f8f" stroke-width="0.8"/>
<text x="502.21" y="391.6" font-size="5" style='font-family:"Liberation Sans",sans-serif;' text-anchor="start" fill="#262626">3.5</text>
<path d="M380.5 380.39h1.6M509.9 380.39h-1.6" stroke="#8f8f8f" stroke-width="0.8"/>
<text x="365.74" y="379.89" font-size="5" style='font-family:"Liberation Sans",sans-serif;' text-anchor="start" fill="#262626">1.5</text>
<path d="M380.5 357.68h1.6M509.9 357.68h-1.6" stroke="#8f8f8f" stroke-width="0.8"/>
<text x="373.27" y="357.18" font-size="5" style='font-family:"Liberation Sans",sans-serif;' text-anchor="start" fill="#262626">2</text>
<path d="M380.5 334.97h1.6M509.9 334.97h-1.6" stroke="#8f8f8f" stroke-width="0.8"/>
<text x="365.74" y="334.47" font-size="5" style='font-family:"Liberation Sans",sans-serif;' text-anchor="start" fill="#262626">2.5</text>
<path d="M380.5 312.26h1.6M509.9 312.26h-1.6" stroke="#8f8f8f" stroke-width="0.8"/>
<text x="373.27" y="311.76" font-size="5" style='font-family:"Liberation Sans",sans-serif;' text-anchor="start" fill="#262626">3</text>
<path d="M380.5 289.54h1.6M509.9 289.54h-1.6" stroke="#8f8f8f" stroke-width="0.8"/>
<text x="365.74" y="289.04" font-size="5" style='font-family:"Liberation Sans",sans-serif;' text-anchor="start" fill="#262626">3.5</text>
<line x1="380.5" y1="384.3" x2="509.9" y2="288.5" stroke="#8b9bd8" stroke-width="6"/>
<g fill="#000"><circle cx="506.51" cy="300.9" r="1.1"/><circle cx="498.26" cy="300.18" r="1.1"/><circle cx="489.89" cy="311.04" r="1.1"/><circle cx="496.58" cy="303.94" r="1.1"/><circle cx="496.78" cy="308.94" r="1.1"/><circle cx="478.66" cy="336.72" r="1.1"/><circle cx="493.76" cy="313.43" r="1.1"/><circle cx="476.93" cy="348.04" r="1.1"/><circle cx="499.82" cy="312.83" r="1.1"/><circle cx="493.25" cy="300.8" r="1.1"/><circle cx="478.96" cy="330.44" r="1.1"/><circle cx="479.28" cy="350.37" r="1.1"/><circle cx="491.98" cy="313.35" r="1.1"/><circle cx="486.41" cy="311.96" r="1.1"/><circle cx="488.48" cy="312.78" r="1.1"/><circle cx="487.76" cy="327.78" r="1.1"/><circle cx="503.41" cy="295.91" r="1.1"/><circle cx="460.46" cy="362.73" r="1.1"/><circle cx="492.13" cy="315.4" r="1.1"/><circle cx="457.19" cy="353.07" r="1.1"/><circle cx="490.35" cy="304" r="1.1"/><circle cx="497.2" cy="305.38" r="1.1"/><circle cx="444.35" cy="367.58" r="1.1"/><circle cx="493.34" cy="307.9" r="1.1"/><circle cx="498.64" cy="298.28" r="1.1"/><circle cx="505.02" cy="295.45" r="1.1"/><circle cx="490.11" cy="328.87" r="1.1"/><circle cx="474.57" cy="336.56" r="1.1"/><circle cx="501.74" cy="300.31" r="1.1"/><circle cx="488.83" cy="309.07" r="1.1"/><circle cx="492.1" cy="313.63" r="1.1"/><circle cx="473.46" cy="350.22" r="1.1"/><circle cx="475.37" cy="345.81" r="1.1"/><circle cx="458.24" cy="360.37" r="1.1"/><circle cx="481.56" cy="347.74" r="1.1"/><circle cx="457.84" cy="359.21" r="1.1"/><circle cx="490.77" cy="304.59" r="1.1"/><circle cx="483.77" cy="316.08" r="1.1"/><circle cx="478.35" cy="327.71" r="1.1"/><circle cx="479.23" cy="341.89" r="1.1"/><circle cx="483.61" cy="330.29" r="1.1"/><circle cx="504.15" cy="295.46" r="1.1"/><circle cx="489.08" cy="310.29" r="1.1"/><circle cx="492.95" cy="315.23" r="1.1"/><circle cx="462.12" cy="342.87" r="1.1"/><circle cx="481.12" cy="316.61" r="1.1"/><circle cx="484.22" cy="308.38" r="1.1"/><circle cx="495.98" cy="313.09" r="1.1"/><circle cx="433.42" cy="375.94" r="1.1"/><circle cx="495.54" cy="306.34" r="1.1"/><circle cx="488.26" cy="320.57" r="1.1"/><circle cx="482.98" cy="315.46" r="1.1"/><circle cx="496.95" cy="307.48" r="1.1"/><circle cx="473.73" cy="351.82" r="1.1"/><circle cx="488.25" cy="334.82" r="1.1"/><circle cx="468.24" cy="340.51" r="1.1"/><circle cx="472.64" cy="353.51" r="1.1"/><circle cx="461.43" cy="360.57" r="1.1"/><circle cx="499.3" cy="309.88" r="1.1"/><circle cx="447.41" cy="359.68" r="1.1"/><circle cx="497.17" cy="305.47" r="1.1"/><circle cx="493.45" cy="302.96" r="1.1"/><circle cx="491.56" cy="315.46" r="1.1"/><circle cx="470.13" cy="354.13" r="1.1"/><circle cx="494.9" cy="312.34" r="1.1"/><circle cx="484.72" cy="319.82" r="1.1"/><circle cx="500.07" cy="307.06" r="1.1"/><circle cx="492.96" cy="319.7" r="1.1"/><circle cx="497.83" cy="298.62" r="1.1"/><circle cx="499.55" cy="298.07" r="1.1"/><circle cx="476.31" cy="332.33" r="1.1"/><circle cx="477.2" cy="336.06" r="1.1"/><circle cx="447.99" cy="358.36" r="1.1"/><circle cx="481.89" cy="326.12" r="1.1"/><circle cx="461.87" cy="349.49" r="1.1"/><circle cx="500.54" cy="302.71" r="1.1"/><circle cx="499.15" cy="317.12" r="1.1"/><circle cx="448.55" cy="369.5" r="1.1"/><circle cx="459.9" cy="345.41" r="1.1"/><circle cx="482.22" cy="330.3" r="1.1"/><circle cx="491.94" cy="301.81" r="1.1"/><circle cx="483.13" cy="317.91" r="1.1"/><circle cx="492.28" cy="302.84" r="1.1"/><circle cx="499.45" cy="308.04" r="1.1"/><circle cx="478.36" cy="329.34" r="1.1"/><circle cx="484.03" cy="314.15" r="1.1"/><circle cx="498.36" cy="315.54" r="1.1"/><circle cx="493.78" cy="317.96" r="1.1"/><circle cx="454.6" cy="354.92" r="1.1"/><circle cx="449.98" cy="373.53" r="1.1"/><circle cx="483.75" cy="322.12" r="1.1"/><circle cx="491.59" cy="306.33" r="1.1"/><circle cx="490.92" cy="308.34" r="1.1"/><circle cx="499.81" cy="309.56" r="1.1"/><circle cx="507.63" cy="294.86" r="1.1"/><circle cx="493.91" cy="321.15" r="1.1"/><circle cx="488.29" cy="316.08" r="1.1"/><circle cx="480.84" cy="323.29" r="1.1"/><circle cx="490.19" cy="312.85" r="1.1"/><circle cx="473.86" cy="356.71" r="1.1"/><circle cx="477.6" cy="348.44" r="1.1"/><circle cx="492.55" cy="305.09" r="1.1"/><circle cx="468.18" cy="366.94" r="1.1"/><circle cx="478.72" cy="348.15" r="1.1"/><circle cx="473.37" cy="339.46" r="1.1"/><circle cx="481.07" cy="322.26" r="1.1"/><circle cx="493.52" cy="321.15" r="1.1"/><circle cx="483.48" cy="312.85" r="1.1"/><circle cx="461.75" cy="355.51" r="1.1"/><circle cx="503.77" cy="302.79" r="1.1"/><circle cx="477.35" cy="337.04" r="1.1"/><circle cx="489.85" cy="311.26" r="1.1"/><circle cx="487.68" cy="304.36" r="1.1"/><circle cx="478.69" cy="343.04" r="1.1"/><circle cx="484.58" cy="329.63" r="1.1"/><circle cx="491.3" cy="323.6" r="1.1"/><circle cx="470.4" cy="360.54" r="1.1"/><circle cx="493.21" cy="325.59" r="1.1"/><circle cx="489.4" cy="310.74" r="1.1"/><circle cx="464.66" cy="354.77" r="1.1"/><circle cx="505.15" cy="305.89" r="1.1"/><circle cx="494.62" cy="309.22" r="1.1"/><circle cx="492.64" cy="311.21" r="1.1"/><circle cx="501.27" cy="305.93" r="1.1"/><circle cx="480.59" cy="329.18" r="1.1"/><circle cx="490.53" cy="316.91" r="1.1"/><circle cx="473.89" cy="332.87" r="1.1"/><circle cx="492.11" cy="322.24" r="1.1"/><circle cx="491.95" cy="313.68" r="1.1"/><circle cx="501.94" cy="308.56" r="1.1"/><circle cx="497.2" cy="310.77" r="1.1"/><circle cx="474.2" cy="352.98" r="1.1"/><circle cx="459.52" cy="370.78" r="1.1"/><circle cx="476.91" cy="330.74" r="1.1"/><circle cx="498.11" cy="305.79" r="1.1"/><circle cx="452.43" cy="357.63" r="1.1"/><circle cx="496.89" cy="307.38" r="1.1"/><circle cx="484.21" cy="319.16" r="1.1"/><circle cx="497.13" cy="301.05" r="1.1"/><circle cx="479.48" cy="335.88" r="1.1"/><circle cx="483.49" cy="333.13" r="1.1"/><circle cx="486.89" cy="306.01" r="1.1"/><circle cx="484.01" cy="327.48" r="1.1"/><circle cx="485.6" cy="323.22" r="1.1"/><circle cx="496.37" cy="306.64" r="1.1"/><circle cx="508.51" cy="294.53" r="1.1"/><circle cx="494.34" cy="323.42" r="1.1"/><circle cx="482.05" cy="327.34" r="1.1"/><circle cx="502.15" cy="306.06" r="1.1"/><circle cx="479.29" cy="350.21" r="1.1"/><circle cx="469.93" cy="339.6" r="1.1"/><circle cx="502.71" cy="303.58" r="1.1"/><circle cx="505.45" cy="296.22" r="1.1"/><circle cx="487.47" cy="335.14" r="1.1"/><circle cx="494.72" cy="323.04" r="1.1"/><circle cx="490.04" cy="321.61" r="1.1"/><circle cx="484.36" cy="324.75" r="1.1"/><circle cx="496.3" cy="316.89" r="1.1"/><circle cx="485.16" cy="307.3" r="1.1"/><circle cx="499.26" cy="310.03" r="1.1"/><circle cx="486.48" cy="306.19" r="1.1"/><circle cx="494.92" cy="315.9" r="1.1"/><circle cx="498.51" cy="301.44" r="1.1"/><circle cx="500.32" cy="310.01" r="1.1"/><circle cx="492.03" cy="326.02" r="1.1"/><circle cx="433.01" cy="375.07" r="1.1"/><circle cx="500.45" cy="304.31" r="1.1"/><circle cx="461.14" cy="346.3" r="1.1"/><circle cx="497.13" cy="309.02" r="1.1"/><circle cx="481.41" cy="326.44" r="1.1"/><circle cx="455.8" cy="352.59" r="1.1"/><circle cx="499.61" cy="306.64" r="1.1"/><circle cx="504.68" cy="298.89" r="1.1"/><circle cx="507.7" cy="296.79" r="1.1"/><circle cx="483.35" cy="341.78" r="1.1"/><circle cx="470.17" cy="343.88" r="1.1"/><circle cx="493.08" cy="305.83" r="1.1"/><circle cx="474.39" cy="351.33" r="1.1"/><circle cx="507.05" cy="294.47" r="1.1"/><circle cx="484.7" cy="320.26" r="1.1"/><circle cx="484.52" cy="320.42" r="1.1"/><circle cx="481.01" cy="344.7" r="1.1"/><circle cx="488.28" cy="334.57" r="1.1"/><circle cx="503.99" cy="300.89" r="1.1"/><circle cx="496.52" cy="306.37" r="1.1"/><circle cx="493.6" cy="301.24" r="1.1"/><circle cx="497.19" cy="316.96" r="1.1"/><circle cx="493.83" cy="315.3" r="1.1"/><circle cx="502.49" cy="302.1" r="1.1"/><circle cx="487.96" cy="311.8" r="1.1"/><circle cx="489.19" cy="329.42" r="1.1"/><circle cx="490.5" cy="303.84" r="1.1"/><circle cx="480.39" cy="350.4" r="1.1"/><circle cx="493.52" cy="304.89" r="1.1"/><circle cx="482.25" cy="314.68" r="1.1"/><circle cx="487.54" cy="333.67" r="1.1"/><circle cx="450.88" cy="368.14" r="1.1"/><circle cx="488.17" cy="305.34" r="1.1"/><circle cx="490.24" cy="309.43" r="1.1"/><circle cx="493.93" cy="307.59" r="1.1"/><circle cx="472.1" cy="359.23" r="1.1"/><circle cx="494.36" cy="312.36" r="1.1"/><circle cx="503.82" cy="302.16" r="1.1"/><circle cx="498.09" cy="313.26" r="1.1"/><circle cx="495.65" cy="307.32" r="1.1"/><circle cx="479.33" cy="327.63" r="1.1"/><circle cx="478.12" cy="333.03" r="1.1"/><circle cx="491.07" cy="324.52" r="1.1"/><circle cx="482.79" cy="342.92" r="1.1"/><circle cx="441.77" cy="375.48" r="1.1"/><circle cx="466.9" cy="339.44" r="1.1"/><circle cx="488.38" cy="310.98" r="1.1"/><circle cx="483.73" cy="323.91" r="1.1"/><circle cx="432.34" cy="374.75" r="1.1"/><circle cx="476.49" cy="339.91" r="1.1"/><circle cx="500.14" cy="303.81" r="1.1"/><circle cx="451.69" cy="353.2" r="1.1"/><circle cx="480.19" cy="319.98" r="1.1"/><circle cx="504.9" cy="295.08" r="1.1"/><circle cx="470.33" cy="363.08" r="1.1"/><circle cx="490.9" cy="316.2" r="1.1"/><circle cx="478.22" cy="327.62" r="1.1"/><circle cx="493.68" cy="303.17" r="1.1"/><circle cx="498.31" cy="306.28" r="1.1"/><circle cx="474.54" cy="348.24" r="1.1"/><circle cx="484.94" cy="339.75" r="1.1"/><circle cx="484.49" cy="315.17" r="1.1"/><circle cx="500.98" cy="306.4" r="1.1"/><circle cx="496.07" cy="307.28" r="1.1"/><circle cx="476.73" cy="340.52" r="1.1"/><circle cx="506.15" cy="295.25" r="1.1"/><circle cx="486.62" cy="313.65" r="1.1"/><circle cx="497.49" cy="301.68" r="1.1"/><circle cx="483.29" cy="321.85" r="1.1"/><circle cx="489.92" cy="331.57" r="1.1"/><circle cx="461.77" cy="344.13" r="1.1"/><circle cx="494.02" cy="300.82" r="1.1"/><circle cx="463.11" cy="347.85" r="1.1"/><circle cx="487.62" cy="314.28" r="1.1"/><circle cx="486.89" cy="307.77" r="1.1"/><circle cx="486.05" cy="307" r="1.1"/><circle cx="472.42" cy="336.07" r="1.1"/><circle cx="482.6" cy="336.38" r="1.1"/><circle cx="477.59" cy="329.96" r="1.1"/><circle cx="442.17" cy="368.92" r="1.1"/><circle cx="478.79" cy="327.06" r="1.1"/><circle cx="491.01" cy="321.8" r="1.1"/><circle cx="495.8" cy="312.48" r="1.1"/><circle cx="477.35" cy="329.75" r="1.1"/><circle cx="448.29" cy="370.36" r="1.1"/><circle cx="483.85" cy="334.54" r="1.1"/><circle cx="495.44" cy="318.23" r="1.1"/><circle cx="481.54" cy="333.3" r="1.1"/><circle cx="500.05" cy="304.55" r="1.1"/><circle cx="507.09" cy="297.75" r="1.1"/><circle cx="489.57" cy="303.37" r="1.1"/><circle cx="485.34" cy="322.88" r="1.1"/><circle cx="478.06" cy="353.11" r="1.1"/><circle cx="477.42" cy="330.35" r="1.1"/><circle cx="479.89" cy="346.85" r="1.1"/><circle cx="460.86" cy="353.5" r="1.1"/><circle cx="453.8" cy="349.73" r="1.1"/><circle cx="492.69" cy="310.31" r="1.1"/><circle cx="488.17" cy="322" r="1.1"/><circle cx="468.42" cy="342.81" r="1.1"/><circle cx="478.48" cy="335.74" r="1.1"/><circle cx="468.25" cy="349.13" r="1.1"/><circle cx="494.1" cy="316.89" r="1.1"/><circle cx="491.44" cy="314.66" r="1.1"/><circle cx="484.81" cy="325.14" r="1.1"/><circle cx="489.59" cy="311.67" r="1.1"/><circle cx="493.71" cy="319.43" r="1.1"/><circle cx="455.77" cy="354.87" r="1.1"/><circle cx="453.11" cy="351.56" r="1.1"/><circle cx="494.73" cy="323.93" r="1.1"/><circle cx="484.22" cy="313.03" r="1.1"/><circle cx="476.89" cy="334.48" r="1.1"/><circle cx="492.05" cy="328.96" r="1.1"/><circle cx="489.25" cy="309.22" r="1.1"/><circle cx="494.95" cy="321.51" r="1.1"/><circle cx="488.61" cy="329.46" r="1.1"/><circle cx="493.06" cy="325.1" r="1.1"/><circle cx="485.31" cy="330.48" r="1.1"/><circle cx="488.92" cy="315.19" r="1.1"/><circle cx="484.14" cy="325.48" r="1.1"/><circle cx="496.85" cy="309.64" r="1.1"/><circle cx="464.26" cy="344.71" r="1.1"/><circle cx="493.2" cy="313.37" r="1.1"/><circle cx="485.51" cy="320.73" r="1.1"/><circle cx="474.2" cy="336.33" r="1.1"/><circle cx="486.53" cy="319.84" r="1.1"/><circle cx="465.48" cy="368.89" r="1.1"/><circle cx="486.55" cy="313.95" r="1.1"/><circle cx="462.83" cy="342.74" r="1.1"/><circle cx="490.15" cy="316.34" r="1.1"/><circle cx="437.74" cy="375.92" r="1.1"/><circle cx="497.37" cy="312.91" r="1.1"/><circle cx="502.54" cy="302.68" r="1.1"/><circle cx="494.88" cy="301.55" r="1.1"/><circle cx="506.03" cy="294.18" r="1.1"/><circle cx="486.81" cy="324.62" r="1.1"/><circle cx="490.08" cy="318.01" r="1.1"/><circle cx="477.1" cy="336.38" r="1.1"/><circle cx="489.14" cy="321.84" r="1.1"/><circle cx="498.4" cy="317.57" r="1.1"/><circle cx="489.25" cy="324.66" r="1.1"/><circle cx="474.52" cy="338.16" r="1.1"/><circle cx="481.4" cy="323.95" r="1.1"/><circle cx="479.32" cy="331.05" r="1.1"/><circle cx="455.36" cy="354.88" r="1.1"/><circle cx="476.37" cy="333.2" r="1.1"/><circle cx="483.97" cy="315.47" r="1.1"/><circle cx="471.97" cy="344.88" r="1.1"/><circle cx="482.38" cy="320.06" r="1.1"/><circle cx="474.86" cy="334.12" r="1.1"/><circle cx="489.89" cy="319.62" r="1.1"/><circle cx="473.65" cy="341.43" r="1.1"/><circle cx="490.03" cy="302.84" r="1.1"/><circle cx="473.33" cy="354.43" r="1.1"/><circle cx="494.28" cy="308.71" r="1.1"/><circle cx="506.19" cy="295.31" r="1.1"/><circle cx="489.54" cy="310.85" r="1.1"/><circle cx="502.21" cy="296.16" r="1.1"/><circle cx="495.73" cy="299.99" r="1.1"/><circle cx="490.26" cy="307.25" r="1.1"/><circle cx="495.87" cy="317.32" r="1.1"/><circle cx="451.83" cy="354.77" r="1.1"/><circle cx="494.61" cy="305.91" r="1.1"/><circle cx="488.67" cy="310.33" r="1.1"/><circle cx="489.27" cy="314.57" r="1.1"/><circle cx="500.96" cy="312.6" r="1.1"/><circle cx="486.74" cy="324.56" r="1.1"/><circle cx="507.62" cy="296.21" r="1.1"/><circle cx="497.13" cy="311.41" r="1.1"/><circle cx="468.41" cy="348.61" r="1.1"/><circle cx="494.31" cy="306.79" r="1.1"/><circle cx="490.05" cy="310.42" r="1.1"/><circle cx="451.3" cy="361.43" r="1.1"/><circle cx="481.71" cy="325.28" r="1.1"/><circle cx="488.61" cy="330.3" r="1.1"/><circle cx="389.8" cy="378.7" r="1.1"/><circle cx="397" cy="375" r="1.1"/><circle cx="404.4" cy="377.5" r="1.1"/><circle cx="416.6" cy="379.9" r="1.1"/><circle cx="419" cy="381.6" r="1.1"/><circle cx="425.1" cy="372.6" r="1.1"/><circle cx="427.6" cy="375.8" r="1.1"/><circle cx="432.4" cy="380.6" r="1.1"/><circle cx="433.7" cy="371.4" r="1.1"/><circle cx="436.1" cy="366.5" r="1.1"/><circle cx="439.8" cy="377.5" r="1.1"/><circle cx="443.4" cy="370.1" r="1.1"/><circle cx="436.1" cy="382.3" r="1.1"/><circle cx="481.2" cy="357.2" r="1.1"/><circle cx="487.3" cy="353.1" r="1.1"/><circle cx="472.7" cy="367.7" r="1.1"/></g>
<path d="M555.5 15.6V111.3H685" fill="none" stroke="#8f8f8f" stroke-width="1"/>
<path d="M555.5 29.4h1.6" stroke="#8f8f8f" stroke-width="0.8"/>
<text x="551.6" y="32.6" font-size="11.5" style='font-family:"Liberation Serif",serif;' text-anchor="end" fill="#1a1a1a">0.2</text>
<path d="M555.5 56.7h1.6" stroke="#8f8f8f" stroke-width="0.8"/>
<text x="551.6" y="59.9" font-size="11.5" style='font-family:"Liberation Serif",serif;' text-anchor="end" fill="#1a1a1a">0.1</text>
<path d="M555.5 84.0h1.6" stroke="#8f8f8f" stroke-width="0.8"/>
<text x="551.6" y="87.2" font-size="11.5" style='font-family:"Liberation Serif",serif;' text-anchor="end" fill="#1a1a1a">0</text>
<path d="M555.5 111.3h1.6" stroke="#8f8f8f" stroke-width="0.8"/>
<text x="551.6" y="114.5" font-size="11.5" style='font-family:"Liberation Serif",serif;' text-anchor="end" fill="#1a1a1a">-0.1</text>
<path d="M573.1 111.3v-1.6" stroke="#8f8f8f" stroke-width="0.8"/>
<text x="573.1" y="124.7" font-size="11.5" style='font-family:"Liberation Serif",serif;' text-anchor="middle" fill="#1a1a1a">Mac</text>
<path d="M617.4 111.3v-1.6" stroke="#8f8f8f" stroke-width="0.8"/>
<text x="617.4" y="124.7" font-size="11.5" style='font-family:"Liberation Serif",serif;' text-anchor="middle" fill="#1a1a1a">DWL</text>
<path d="M661.7 111.3v-1.6" stroke="#8f8f8f" stroke-width="0.8"/>
<text x="661.7" y="124.7" font-size="11.5" style='font-family:"Liberation Serif",serif;' text-anchor="middle" fill="#1a1a1a">DWH</text>
<path d="M555.5 152.3V247.5H685" fill="none" stroke="#8f8f8f" stroke-width="1"/>
<path d="M555.5 152.3h1.6" stroke="#8f8f8f" stroke-width="0.8"/>
<text x="551.6" y="155.5" font-size="11.5" style='font-family:"Liberation Serif",serif;' text-anchor="end" fill="#1a1a1a">80</text>
<path d="M555.5 169.6h1.6" stroke="#8f8f8f" stroke-width="0.8"/>
<text x="551.6" y="172.8" font-size="11.5" style='font-family:"Liberation Serif",serif;' text-anchor="end" fill="#1a1a1a">60</text>
<path d="M555.5 186.9h1.6" stroke="#8f8f8f" stroke-width="0.8"/>
<text x="551.6" y="190.1" font-size="11.5" style='font-family:"Liberation Serif",serif;' text-anchor="end" fill="#1a1a1a">40</text>
<path d="M555.5 204.2h1.6" stroke="#8f8f8f" stroke-width="0.8"/>
<text x="551.6" y="207.4" font-size="11.5" style='font-family:"Liberation Serif",serif;' text-anchor="end" fill="#1a1a1a">20</text>
<path d="M555.5 221.5h1.6" stroke="#8f8f8f" stroke-width="0.8"/>
<text x="551.6" y="224.7" font-size="11.5" style='font-family:"Liberation Serif",serif;' text-anchor="end" fill="#1a1a1a">0</text>
<path d="M555.5 238.8h1.6" stroke="#8f8f8f" stroke-width="0.8"/>
<text x="551.6" y="242" font-size="11.5" style='font-family:"Liberation Serif",serif;' text-anchor="end" fill="#1a1a1a">-20</text>
<path d="M573.1 247.5v-1.6" stroke="#8f8f8f" stroke-width="0.8"/>
<text x="573.1" y="260.9" font-size="11.5" style='font-family:"Liberation Serif",serif;' text-anchor="middle" fill="#1a1a1a">Mac</text>
<path d="M617.4 247.5v-1.6" stroke="#8f8f8f" stroke-width="0.8"/>
<text x="617.4" y="260.9" font-size="11.5" style='font-family:"Liberation Serif",serif;' text-anchor="middle" fill="#1a1a1a">DWL</text>
<path d="M661.7 247.5v-1.6" stroke="#8f8f8f" stroke-width="0.8"/>
<text x="661.7" y="260.9" font-size="11.5" style='font-family:"Liberation Serif",serif;' text-anchor="middle" fill="#1a1a1a">DWH</text>
<path d="M555.5 288.5V384.3H685" fill="none" stroke="#8f8f8f" stroke-width="1"/>
<path d="M555.5 307.3h1.6" stroke="#8f8f8f" stroke-width="0.8"/>
<text x="551.6" y="310.5" font-size="11.5" style='font-family:"Liberation Serif",serif;' text-anchor="end" fill="#1a1a1a">0</text>
<path d="M555.5 345.8h1.6" stroke="#8f8f8f" stroke-width="0.8"/>
<text x="551.6" y="349" font-size="11.5" style='font-family:"Liberation Serif",serif;' text-anchor="end" fill="#1a1a1a">-1</text>
<path d="M555.5 384.3h1.6" stroke="#8f8f8f" stroke-width="0.8"/>
<text x="551.6" y="387.5" font-size="11.5" style='font-family:"Liberation Serif",serif;' text-anchor="end" fill="#1a1a1a">-2</text>
<path d="M573.1 384.3v-1.6" stroke="#8f8f8f" stroke-width="0.8"/>
<text x="573.1" y="397.7" font-size="11.5" style='font-family:"Liberation Serif",serif;' text-anchor="middle" fill="#1a1a1a">Mac</text>
<path d="M617.4 384.3v-1.6" stroke="#8f8f8f" stroke-width="0.8"/>
<text x="617.4" y="397.7" font-size="11.5" style='font-family:"Liberation Serif",serif;' text-anchor="middle" fill="#1a1a1a">DWL</text>
<path d="M661.7 384.3v-1.6" stroke="#8f8f8f" stroke-width="0.8"/>
<text x="661.7" y="397.7" font-size="11.5" style='font-family:"Liberation Serif",serif;' text-anchor="middle" fill="#1a1a1a">DWH</text>
<path d="M573.6 84.8C573.92 84.92 574.77 85.1 575.5 85.5C576.23 85.9 576.58 86.72 578 87.2C579.42 87.68 581.4 88.08 584 88.4C586.6 88.72 593.6 88.87 593.6 89.1C593.6 89.33 586.6 89.48 584 89.8C581.4 90.12 579.42 90.47 578 91C576.58 91.53 576.23 92.42 575.5 93C574.77 93.58 573.92 94.25 573.6 94.5Z" fill="#c6f3e3" stroke="#3d3d3d" stroke-width="0.7" stroke-linejoin="round"/><line x1="573.6" y1="84.8" x2="573.6" y2="94.5" stroke="#222" stroke-width="0.85"/>
<path d="M617.7 15.3C617.85 16.08 618.4 15.88 618.6 20C618.8 24.12 618.82 33.33 618.9 40C618.98 46.67 619.02 55.67 619.1 60C619.18 64.33 619.18 64.17 619.4 66C619.62 67.83 619.93 69.5 620.4 71C620.87 72.5 621.2 73.83 622.2 75C623.2 76.17 624.55 77.08 626.4 78C628.25 78.92 631.33 79.9 633.3 80.5C635.27 81.1 638.67 81.02 638.2 81.6C637.73 82.18 632.82 83.1 630.5 84C628.18 84.9 626.03 85.83 624.3 87C622.57 88.17 621.03 89.67 620.1 91C619.17 92.33 619.03 92.83 618.7 95C618.37 97.17 618.27 101.42 618.1 104C617.93 106.58 617.77 109.42 617.7 110.5Z" fill="#fbb8ad" stroke="#3d3d3d" stroke-width="0.7" stroke-linejoin="round"/><line x1="617.7" y1="15.3" x2="617.7" y2="110.5" stroke="#222" stroke-width="0.85"/>
<path d="M662.8 15.3C662.92 16.08 663.33 15.05 663.5 20C663.67 24.95 663.68 37.5 663.8 45C663.92 52.5 664 60.55 664.2 65C664.4 69.45 664.62 69.9 665 71.7C665.38 73.5 665.33 74.53 666.5 75.8C667.67 77.07 669.22 78.13 672 79.3C674.78 80.47 683.37 81.68 683.2 82.8C683.03 83.92 673.7 85.13 671 86C668.3 86.87 668.03 87.17 667 88C665.97 88.83 665.37 89.67 664.8 91C664.23 92.33 663.87 93.83 663.6 96C663.33 98.17 663.33 101.5 663.2 104C663.07 106.5 662.87 109.83 662.8 111Z" fill="#c8cdf0" stroke="#3d3d3d" stroke-width="0.7" stroke-linejoin="round"/><line x1="662.8" y1="15.3" x2="662.8" y2="111" stroke="#222" stroke-width="0.85"/>
<path d="M573.6 218.8C573.83 218.92 574.27 219.05 575 219.5C575.73 219.95 576.33 221.03 578 221.5C579.67 221.97 582.4 222.08 585 222.3C587.6 222.52 593.6 222.62 593.6 222.8C593.6 222.98 587.6 223.13 585 223.4C582.4 223.67 579.67 223.97 578 224.4C576.33 224.83 575.73 225.6 575 226C574.27 226.4 573.83 226.67 573.6 226.8Z" fill="#c6f3e3" stroke="#3d3d3d" stroke-width="0.7" stroke-linejoin="round"/><line x1="573.6" y1="218.8" x2="573.6" y2="226.8" stroke="#222" stroke-width="0.85"/>
<path d="M617.8 152.3C617.92 153.58 618.25 157.05 618.5 160C618.75 162.95 619.03 166.67 619.3 170C619.57 173.33 619.83 176.67 620.1 180C620.37 183.33 620.62 187 620.9 190C621.18 193 621.32 195.83 621.8 198C622.28 200.17 622.05 201.27 623.8 203C625.55 204.73 629.77 206.6 632.3 208.4C634.83 210.2 639.23 212 639 213.8C638.77 215.6 633.73 217.63 630.9 219.2C628.07 220.77 624.02 221.85 622 223.2C619.98 224.55 619.43 225.83 618.8 227.3C618.17 228.77 618.37 230.67 618.2 232C618.03 233.33 617.87 234.75 617.8 235.3Z" fill="#fbb8ad" stroke="#3d3d3d" stroke-width="0.7" stroke-linejoin="round"/><line x1="617.8" y1="152.3" x2="617.8" y2="235.3" stroke="#222" stroke-width="0.85"/>
<path d="M662.4 152.3L662.7 160L663.2 175L663.6 185L664.2 193L683.3 217.1L662.9 239.5L662.6 242L662.4 247.5Z" fill="#c8cdf0" stroke="#3d3d3d" stroke-width="0.7" stroke-linejoin="round"/><line x1="662.4" y1="152.3" x2="662.4" y2="247.5" stroke="#222" stroke-width="0.85"/>
<path d="M573.9 295.6C574.02 295.75 574.38 295.87 574.6 296.5C574.82 297.13 574.8 298.5 575.2 299.4C575.6 300.3 575.87 301.22 577 301.9C578.13 302.58 579.18 302.93 582 303.5C584.82 304.07 593.57 304.85 593.9 305.3C594.23 305.75 586.65 305.88 584 306.2C581.35 306.52 579.33 306.73 578 307.2C576.67 307.67 576.5 308.2 576 309C575.5 309.8 575.25 311.08 575 312C574.75 312.92 574.68 305.93 574.5 314.5C574.32 323.07 574 355.25 573.9 363.4Z" fill="#c6f3e3" stroke="#3d3d3d" stroke-width="0.7" stroke-linejoin="round"/><line x1="573.9" y1="295.6" x2="573.9" y2="363.4" stroke="#222" stroke-width="0.85"/>
<path d="M617.4 295C617.47 295.33 617.62 296.17 617.8 297C617.98 297.83 618.13 298.97 618.5 300C618.87 301.03 618.87 302.03 620 303.2C621.13 304.37 623.13 305.83 625.3 307C627.47 308.17 630.77 309.15 633 310.2C635.23 311.25 638.95 312.13 638.7 313.3C638.45 314.47 632.98 315.92 631.5 317.2C630.02 318.48 630.62 319.53 629.8 321C628.98 322.47 627.65 324.1 626.6 326C625.55 327.9 624.35 330.28 623.5 332.4C622.65 334.52 622.05 336.97 621.5 338.7C620.95 340.43 620.73 341.05 620.2 342.8C619.67 344.55 618.7 347.17 618.3 349.2C617.9 351.23 617.95 349.2 617.8 355C617.65 360.8 617.47 379.17 617.4 384Z" fill="#fbb8ad" stroke="#3d3d3d" stroke-width="0.7" stroke-linejoin="round"/><line x1="617.4" y1="295" x2="617.4" y2="384" stroke="#222" stroke-width="0.85"/>
<path d="M662.3 296.9C662.37 296.92 662.53 296.32 662.7 297C662.87 297.68 663.08 299.85 663.3 301C663.52 302.15 663.15 302.9 664 303.9C664.85 304.9 666.18 305.95 668.4 307C670.62 308.05 674.87 309.25 677.3 310.2C679.73 311.15 682.68 311.53 683 312.7C683.32 313.87 680.37 315.82 679.2 317.2C678.03 318.58 676.43 319.63 676 321C675.57 322.37 677.02 323.92 676.6 325.4C676.18 326.88 674.9 328.3 673.5 329.9C672.1 331.5 669.87 333.07 668.2 335C666.53 336.93 664.42 339.83 663.5 341.5C662.58 343.17 662.9 338.98 662.7 345C662.5 351.02 662.37 372.17 662.3 377.6Z" fill="#c8cdf0" stroke="#3d3d3d" stroke-width="0.7" stroke-linejoin="round"/><line x1="662.3" y1="296.9" x2="662.3" y2="377.6" stroke="#222" stroke-width="0.85"/>
<line x1="555.5" y1="84.0" x2="685" y2="84.0" stroke="#8a8a8a" stroke-width="1.5"/>
<line x1="555.5" y1="221.5" x2="685" y2="221.5" stroke="#8a8a8a" stroke-width="1.5"/>
<line x1="555.5" y1="307.3" x2="685" y2="307.3" stroke="#8a8a8a" stroke-width="1.5"/>
<path d="M570.33 76.91h3.8M572.23 75.01v3.8" stroke="#000" stroke-width="0.75"/><path d="M568.89 79.75h3.8M570.79 77.85v3.8" stroke="#000" stroke-width="0.75"/><path d="M565.89 80.45h3.8M567.79 78.55v3.8" stroke="#000" stroke-width="0.75"/><path d="M566.94 81.88h3.8M568.84 79.98v3.8" stroke="#000" stroke-width="0.75"/><path d="M570.05 82.7h3.8M571.95 80.8v3.8" stroke="#000" stroke-width="0.75"/><path d="M570.24 80.94h3.8M572.14 79.04v3.8" stroke="#000" stroke-width="0.75"/><path d="M569.34 78.65h3.8M571.24 76.75v3.8" stroke="#000" stroke-width="0.75"/><path d="M566.29 83.55h3.8M568.19 81.65v3.8" stroke="#000" stroke-width="0.75"/><path d="M567.7 75.46h3.8M569.6 73.56v3.8" stroke="#000" stroke-width="0.75"/><path d="M566.04 79.34h3.8M567.94 77.44v3.8" stroke="#000" stroke-width="0.75"/><path d="M570.56 76.6h3.8M572.46 74.7v3.8" stroke="#000" stroke-width="0.75"/><path d="M566.04 78.19h3.8M567.94 76.29v3.8" stroke="#000" stroke-width="0.75"/><path d="M568.74 76.24h3.8M570.64 74.34v3.8" stroke="#000" stroke-width="0.75"/><path d="M568.09 76.3h3.8M569.99 74.4v3.8" stroke="#000" stroke-width="0.75"/><path d="M567.87 79.61h3.8M569.77 77.71v3.8" stroke="#000" stroke-width="0.75"/><path d="M570.37 79.29h3.8M572.27 77.39v3.8" stroke="#000" stroke-width="0.75"/><path d="M570.96 74.66h3.8M572.86 72.76v3.8" stroke="#000" stroke-width="0.75"/><path d="M565.34 76.39h3.8M567.24 74.49v3.8" stroke="#000" stroke-width="0.75"/><path d="M568.69 81.79h3.8M570.59 79.89v3.8" stroke="#000" stroke-width="0.75"/><path d="M566.47 79.61h3.8M568.37 77.71v3.8" stroke="#000" stroke-width="0.75"/><path d="M567.03 81.92h3.8M568.93 80.02v3.8" stroke="#000" stroke-width="0.75"/><path d="M566.54 81.41h3.8M568.44 79.51v3.8" stroke="#000" stroke-width="0.75"/>
<circle cx="568.61" cy="86.75" r="1.5" fill="#8de3c6" stroke="#111" stroke-width="0.6"/>
<circle cx="569.11" cy="87.86" r="1.5" fill="#8de3c6" stroke="#111" stroke-width="0.6"/>
<circle cx="571.6" cy="92.5" r="1.5" fill="#8de3c6" stroke="#111" stroke-width="0.6"/>
<circle cx="571.17" cy="89.14" r="1.5" fill="#8de3c6" stroke="#111" stroke-width="0.6"/>
<circle cx="569.28" cy="86.2" r="1.5" fill="#8de3c6" stroke="#111" stroke-width="0.6"/>
<circle cx="569.33" cy="92.98" r="1.5" fill="#8de3c6" stroke="#111" stroke-width="0.6"/>
<circle cx="572.13" cy="90.09" r="1.5" fill="#8de3c6" stroke="#111" stroke-width="0.6"/>
<circle cx="569.8" cy="89.61" r="1.5" fill="#8de3c6" stroke="#111" stroke-width="0.6"/>
<circle cx="570.91" cy="89.58" r="1.5" fill="#8de3c6" stroke="#111" stroke-width="0.6"/>
<circle cx="570.92" cy="87.93" r="1.5" fill="#8de3c6" stroke="#111" stroke-width="0.6"/>
<circle cx="570.29" cy="88.84" r="1.5" fill="#8de3c6" stroke="#111" stroke-width="0.6"/>
<circle cx="572" cy="86.92" r="1.5" fill="#8de3c6" stroke="#111" stroke-width="0.6"/>
<circle cx="572.36" cy="89.42" r="1.5" fill="#8de3c6" stroke="#111" stroke-width="0.6"/>
<circle cx="569.38" cy="89.65" r="1.5" fill="#8de3c6" stroke="#111" stroke-width="0.6"/>
<circle cx="570.42" cy="89.1" r="1.5" fill="#8de3c6" stroke="#111" stroke-width="0.6"/>
<circle cx="570.91" cy="88.35" r="1.5" fill="#8de3c6" stroke="#111" stroke-width="0.6"/>
<circle cx="567.4" cy="91.11" r="1.5" fill="#8de3c6" stroke="#111" stroke-width="0.6"/>
<circle cx="570.17" cy="93.2" r="1.5" fill="#8de3c6" stroke="#111" stroke-width="0.6"/>
<circle cx="570.85" cy="85.27" r="1.5" fill="#8de3c6" stroke="#111" stroke-width="0.6"/>
<circle cx="572.27" cy="88.11" r="1.5" fill="#8de3c6" stroke="#111" stroke-width="0.6"/>
<circle cx="571.12" cy="94.1" r="1.5" fill="#8de3c6" stroke="#111" stroke-width="0.6"/>
<circle cx="572.02" cy="87.24" r="1.5" fill="#8de3c6" stroke="#111" stroke-width="0.6"/>
<circle cx="570.06" cy="86.13" r="1.5" fill="#8de3c6" stroke="#111" stroke-width="0.6"/>
<circle cx="571.32" cy="90.82" r="1.5" fill="#8de3c6" stroke="#111" stroke-width="0.6"/>
<circle cx="568.51" cy="90.58" r="1.5" fill="#8de3c6" stroke="#111" stroke-width="0.6"/>
<circle cx="571.76" cy="91.35" r="1.5" fill="#8de3c6" stroke="#111" stroke-width="0.6"/>
<path d="M561.8 89h4.4M564 86.8v4.4" stroke="#000" stroke-width="1.1"/>
<line x1="608.6" y1="41" x2="608.6" y2="98.8" stroke="#111" stroke-width="1"/><rect x="606.7" y="67.2" width="4.4" height="16.3" fill="#f26b61" stroke="#333" stroke-width="0.5"/><line x1="606.7" y1="80.8" x2="611.1" y2="80.8" stroke="#111" stroke-width="1.4"/>
<path d="M611.76 30.36h3.8M613.66 28.46v3.8" stroke="#000" stroke-width="0.75"/><path d="M612.11 28.3h3.8M614.01 26.4v3.8" stroke="#000" stroke-width="0.75"/><path d="M611.43 35.25h3.8M613.33 33.35v3.8" stroke="#000" stroke-width="0.75"/><path d="M611.18 25.78h3.8M613.08 23.88v3.8" stroke="#000" stroke-width="0.75"/><path d="M610.84 31.6h3.8M612.74 29.7v3.8" stroke="#000" stroke-width="0.75"/><path d="M612.47 29.92h3.8M614.37 28.02v3.8" stroke="#000" stroke-width="0.75"/><path d="M612.51 22.58h3.8M614.41 20.68v3.8" stroke="#000" stroke-width="0.75"/><path d="M612.73 33.89h3.8M614.63 31.99v3.8" stroke="#000" stroke-width="0.75"/><path d="M611.52 23.35h3.8M613.42 21.45v3.8" stroke="#000" stroke-width="0.75"/><path d="M610.54 26.53h3.8M612.44 24.63v3.8" stroke="#000" stroke-width="0.75"/><path d="M613.58 27.05h3.8M615.48 25.15v3.8" stroke="#000" stroke-width="0.75"/><path d="M610.92 23.69h3.8M612.82 21.79v3.8" stroke="#000" stroke-width="0.75"/><path d="M612.43 37.75h3.8M614.33 35.85v3.8" stroke="#000" stroke-width="0.75"/><path d="M612.82 34.48h3.8M614.72 32.58v3.8" stroke="#000" stroke-width="0.75"/><path d="M610.25 21.19h3.8M612.15 19.29v3.8" stroke="#000" stroke-width="0.75"/><path d="M610.65 32.81h3.8M612.55 30.91v3.8" stroke="#000" stroke-width="0.75"/><path d="M613.48 26.96h3.8M615.38 25.06v3.8" stroke="#000" stroke-width="0.75"/><path d="M612.12 36.04h3.8M614.02 34.14v3.8" stroke="#000" stroke-width="0.75"/>
<rect x="612.83" y="63.38" width="2.6" height="2.6" fill="#f26b61" stroke="#1a1a1a" stroke-width="0.55"/><rect x="613.51" y="93.6" width="2.6" height="2.6" fill="#f26b61" stroke="#1a1a1a" stroke-width="0.55"/><rect x="615.14" y="81.18" width="2.6" height="2.6" fill="#f26b61" stroke="#1a1a1a" stroke-width="0.55"/><rect x="614.14" y="44.81" width="2.6" height="2.6" fill="#f26b61" stroke="#1a1a1a" stroke-width="0.55"/><rect x="611.31" y="39.37" width="2.6" height="2.6" fill="#f26b61" stroke="#1a1a1a" stroke-width="0.55"/><rect x="611.43" y="66.84" width="2.6" height="2.6" fill="#f26b61" stroke="#1a1a1a" stroke-width="0.55"/><rect x="611.13" y="51.66" width="2.6" height="2.6" fill="#f26b61" stroke="#1a1a1a" stroke-width="0.55"/><rect x="611.36" y="49.97" width="2.6" height="2.6" fill="#f26b61" stroke="#1a1a1a" stroke-width="0.55"/><rect x="611.91" y="87.88" width="2.6" height="2.6" fill="#f26b61" stroke="#1a1a1a" stroke-width="0.55"/><rect x="610.93" y="52.78" width="2.6" height="2.6" fill="#f26b61" stroke="#1a1a1a" stroke-width="0.55"/><rect x="615.23" y="83.1" width="2.6" height="2.6" fill="#f26b61" stroke="#1a1a1a" stroke-width="0.55"/><rect x="614.84" y="62.9" width="2.6" height="2.6" fill="#f26b61" stroke="#1a1a1a" stroke-width="0.55"/><rect x="614.03" y="44.28" width="2.6" height="2.6" fill="#f26b61" stroke="#1a1a1a" stroke-width="0.55"/><rect x="612.03" y="73.75" width="2.6" height="2.6" fill="#f26b61" stroke="#1a1a1a" stroke-width="0.55"/><rect x="612.8" y="68.26" width="2.6" height="2.6" fill="#f26b61" stroke="#1a1a1a" stroke-width="0.55"/><rect x="612.14" y="55.24" width="2.6" height="2.6" fill="#f26b61" stroke="#1a1a1a" stroke-width="0.55"/><rect x="611.11" y="54.83" width="2.6" height="2.6" fill="#f26b61" stroke="#1a1a1a" stroke-width="0.55"/><rect x="611.8" y="86.67" width="2.6" height="2.6" fill="#f26b61" stroke="#1a1a1a" stroke-width="0.55"/><rect x="613.12" y="45.15" width="2.6" height="2.6" fill="#f26b61" stroke="#1a1a1a" stroke-width="0.55"/><rect x="612.68" y="81.73" width="2.6" height="2.6" fill="#f26b61" stroke="#1a1a1a" stroke-width="0.55"/><rect x="615.41" y="92.2" width="2.6" height="2.6" fill="#f26b61" stroke="#1a1a1a" stroke-width="0.55"/><rect x="614.61" y="95.27" width="2.6" height="2.6" fill="#f26b61" stroke="#1a1a1a" stroke-width="0.55"/><rect x="615.49" y="75.22" width="2.6" height="2.6" fill="#f26b61" stroke="#1a1a1a" stroke-width="0.55"/><rect x="613.38" y="77.38" width="2.6" height="2.6" fill="#f26b61" stroke="#1a1a1a" stroke-width="0.55"/><rect x="611.54" y="43.01" width="2.6" height="2.6" fill="#f26b61" stroke="#1a1a1a" stroke-width="0.55"/><rect x="611.63" y="53.88" width="2.6" height="2.6" fill="#f26b61" stroke="#1a1a1a" stroke-width="0.55"/><rect x="611.16" y="66.18" width="2.6" height="2.6" fill="#f26b61" stroke="#1a1a1a" stroke-width="0.55"/><rect x="612.98" y="78.17" width="2.6" height="2.6" fill="#f26b61" stroke="#1a1a1a" stroke-width="0.55"/><rect x="610.91" y="77.49" width="2.6" height="2.6" fill="#f26b61" stroke="#1a1a1a" stroke-width="0.55"/><rect x="612.58" y="49.76" width="2.6" height="2.6" fill="#f26b61" stroke="#1a1a1a" stroke-width="0.55"/><rect x="614.04" y="63.9" width="2.6" height="2.6" fill="#f26b61" stroke="#1a1a1a" stroke-width="0.55"/><rect x="612.63" y="83" width="2.6" height="2.6" fill="#f26b61" stroke="#1a1a1a" stroke-width="0.55"/><rect x="611.6" y="72.66" width="2.6" height="2.6" fill="#f26b61" stroke="#1a1a1a" stroke-width="0.55"/><rect x="611.86" y="66.37" width="2.6" height="2.6" fill="#f26b61" stroke="#1a1a1a" stroke-width="0.55"/><rect x="615.21" y="83.13" width="2.6" height="2.6" fill="#f26b61" stroke="#1a1a1a" stroke-width="0.55"/><rect x="612.98" y="54.39" width="2.6" height="2.6" fill="#f26b61" stroke="#1a1a1a" stroke-width="0.55"/><rect x="614.53" y="57.11" width="2.6" height="2.6" fill="#f26b61" stroke="#1a1a1a" stroke-width="0.55"/><rect x="611.45" y="78.7" width="2.6" height="2.6" fill="#f26b61" stroke="#1a1a1a" stroke-width="0.55"/><rect x="612.32" y="72.56" width="2.6" height="2.6" fill="#f26b61" stroke="#1a1a1a" stroke-width="0.55"/><rect x="614.14" y="44.4" width="2.6" height="2.6" fill="#f26b61" stroke="#1a1a1a" stroke-width="0.55"/><rect x="612.28" y="51.73" width="2.6" height="2.6" fill="#f26b61" stroke="#1a1a1a" stroke-width="0.55"/><rect x="611.98" y="89.56" width="2.6" height="2.6" fill="#f26b61" stroke="#1a1a1a" stroke-width="0.55"/><rect x="612.79" y="62.09" width="2.6" height="2.6" fill="#f26b61" stroke="#1a1a1a" stroke-width="0.55"/><rect x="614.84" y="61.18" width="2.6" height="2.6" fill="#f26b61" stroke="#1a1a1a" stroke-width="0.55"/><rect x="615.31" y="60.9" width="2.6" height="2.6" fill="#f26b61" stroke="#1a1a1a" stroke-width="0.55"/><rect x="610.82" y="52.02" width="2.6" height="2.6" fill="#f26b61" stroke="#1a1a1a" stroke-width="0.55"/><rect x="613.49" y="44.22" width="2.6" height="2.6" fill="#f26b61" stroke="#1a1a1a" stroke-width="0.55"/><rect x="612.08" y="68.69" width="2.6" height="2.6" fill="#f26b61" stroke="#1a1a1a" stroke-width="0.55"/><rect x="615.45" y="96.89" width="2.6" height="2.6" fill="#f26b61" stroke="#1a1a1a" stroke-width="0.55"/><rect x="614.77" y="91.84" width="2.6" height="2.6" fill="#f26b61" stroke="#1a1a1a" stroke-width="0.55"/><rect x="614.59" y="39.47" width="2.6" height="2.6" fill="#f26b61" stroke="#1a1a1a" stroke-width="0.55"/><rect x="614.6" y="80.28" width="2.6" height="2.6" fill="#f26b61" stroke="#1a1a1a" stroke-width="0.55"/><rect x="611.98" y="47.54" width="2.6" height="2.6" fill="#f26b61" stroke="#1a1a1a" stroke-width="0.55"/><rect x="614.1" y="62.35" width="2.6" height="2.6" fill="#f26b61" stroke="#1a1a1a" stroke-width="0.55"/><rect x="613.72" y="72.87" width="2.6" height="2.6" fill="#f26b61" stroke="#1a1a1a" stroke-width="0.55"/><rect x="614.6" y="74.45" width="2.6" height="2.6" fill="#f26b61" stroke="#1a1a1a" stroke-width="0.55"/><rect x="615.15" y="72.49" width="2.6" height="2.6" fill="#f26b61" stroke="#1a1a1a" stroke-width="0.55"/><rect x="612.3" y="60.65" width="2.6" height="2.6" fill="#f26b61" stroke="#1a1a1a" stroke-width="0.55"/><rect x="613.8" y="80.94" width="2.6" height="2.6" fill="#f26b61" stroke="#1a1a1a" stroke-width="0.55"/><rect x="614.43" y="78.28" width="2.6" height="2.6" fill="#f26b61" stroke="#1a1a1a" stroke-width="0.55"/><rect x="614.35" y="65.15" width="2.6" height="2.6" fill="#f26b61" stroke="#1a1a1a" stroke-width="0.55"/><rect x="613.67" y="57.42" width="2.6" height="2.6" fill="#f26b61" stroke="#1a1a1a" stroke-width="0.55"/><rect x="613.98" y="87.14" width="2.6" height="2.6" fill="#f26b61" stroke="#1a1a1a" stroke-width="0.55"/><rect x="611.35" y="92.2" width="2.6" height="2.6" fill="#f26b61" stroke="#1a1a1a" stroke-width="0.55"/><rect x="615.26" y="68.03" width="2.6" height="2.6" fill="#f26b61" stroke="#1a1a1a" stroke-width="0.55"/><rect x="611.53" y="86.18" width="2.6" height="2.6" fill="#f26b61" stroke="#1a1a1a" stroke-width="0.55"/><rect x="611.06" y="96.99" width="2.6" height="2.6" fill="#f26b61" stroke="#1a1a1a" stroke-width="0.55"/><rect x="613.01" y="65.58" width="2.6" height="2.6" fill="#f26b61" stroke="#1a1a1a" stroke-width="0.55"/><rect x="612.69" y="63.13" width="2.6" height="2.6" fill="#f26b61" stroke="#1a1a1a" stroke-width="0.55"/><rect x="612.16" y="73.67" width="2.6" height="2.6" fill="#f26b61" stroke="#1a1a1a" stroke-width="0.55"/><rect x="613.8" y="67.93" width="2.6" height="2.6" fill="#f26b61" stroke="#1a1a1a" stroke-width="0.55"/><rect x="613.61" y="68.77" width="2.6" height="2.6" fill="#f26b61" stroke="#1a1a1a" stroke-width="0.55"/><rect x="612.31" y="98.49" width="2.6" height="2.6" fill="#f26b61" stroke="#1a1a1a" stroke-width="0.55"/><rect x="610.97" y="38.93" width="2.6" height="2.6" fill="#f26b61" stroke="#1a1a1a" stroke-width="0.55"/><rect x="614.05" y="63.78" width="2.6" height="2.6" fill="#f26b61" stroke="#1a1a1a" stroke-width="0.55"/><rect x="610.76" y="73.65" width="2.6" height="2.6" fill="#f26b61" stroke="#1a1a1a" stroke-width="0.55"/><rect x="613.68" y="61.4" width="2.6" height="2.6" fill="#f26b61" stroke="#1a1a1a" stroke-width="0.55"/><rect x="612.5" y="42.16" width="2.6" height="2.6" fill="#f26b61" stroke="#1a1a1a" stroke-width="0.55"/><rect x="611.19" y="67.96" width="2.6" height="2.6" fill="#f26b61" stroke="#1a1a1a" stroke-width="0.55"/><rect x="613.57" y="82.46" width="2.6" height="2.6" fill="#f26b61" stroke="#1a1a1a" stroke-width="0.55"/><rect x="614.88" y="45.21" width="2.6" height="2.6" fill="#f26b61" stroke="#1a1a1a" stroke-width="0.55"/><rect x="613.89" y="40.97" width="2.6" height="2.6" fill="#f26b61" stroke="#1a1a1a" stroke-width="0.55"/><rect x="614.67" y="54.93" width="2.6" height="2.6" fill="#f26b61" stroke="#1a1a1a" stroke-width="0.55"/><rect x="613.47" y="92.36" width="2.6" height="2.6" fill="#f26b61" stroke="#1a1a1a" stroke-width="0.55"/><rect x="614.35" y="61.12" width="2.6" height="2.6" fill="#f26b61" stroke="#1a1a1a" stroke-width="0.55"/><rect x="613.31" y="75.5" width="2.6" height="2.6" fill="#f26b61" stroke="#1a1a1a" stroke-width="0.55"/><rect x="612.91" y="98.23" width="2.6" height="2.6" fill="#f26b61" stroke="#1a1a1a" stroke-width="0.55"/><rect x="615.35" y="71.61" width="2.6" height="2.6" fill="#f26b61" stroke="#1a1a1a" stroke-width="0.55"/><rect x="613.74" y="75.91" width="2.6" height="2.6" fill="#f26b61" stroke="#1a1a1a" stroke-width="0.55"/><rect x="615.25" y="70.47" width="2.6" height="2.6" fill="#f26b61" stroke="#1a1a1a" stroke-width="0.55"/><rect x="614.91" y="39.04" width="2.6" height="2.6" fill="#f26b61" stroke="#1a1a1a" stroke-width="0.55"/><rect x="610.85" y="41.81" width="2.6" height="2.6" fill="#f26b61" stroke="#1a1a1a" stroke-width="0.55"/><rect x="611.84" y="77.42" width="2.6" height="2.6" fill="#f26b61" stroke="#1a1a1a" stroke-width="0.55"/><rect x="614.08" y="61.26" width="2.6" height="2.6" fill="#f26b61" stroke="#1a1a1a" stroke-width="0.55"/><rect x="612.26" y="70.19" width="2.6" height="2.6" fill="#f26b61" stroke="#1a1a1a" stroke-width="0.55"/><rect x="614.44" y="73.7" width="2.6" height="2.6" fill="#f26b61" stroke="#1a1a1a" stroke-width="0.55"/><rect x="613.18" y="95.78" width="2.6" height="2.6" fill="#f26b61" stroke="#1a1a1a" stroke-width="0.55"/><rect x="614.56" y="61.53" width="2.6" height="2.6" fill="#f26b61" stroke="#1a1a1a" stroke-width="0.55"/><rect x="614.42" y="48.79" width="2.6" height="2.6" fill="#f26b61" stroke="#1a1a1a" stroke-width="0.55"/><rect x="612" y="94.8" width="2.6" height="2.6" fill="#f26b61" stroke="#1a1a1a" stroke-width="0.55"/><rect x="611.48" y="68.03" width="2.6" height="2.6" fill="#f26b61" stroke="#1a1a1a" stroke-width="0.55"/><rect x="613.33" y="89.07" width="2.6" height="2.6" fill="#f26b61" stroke="#1a1a1a" stroke-width="0.55"/><rect x="612.28" y="94.34" width="2.6" height="2.6" fill="#f26b61" stroke="#1a1a1a" stroke-width="0.55"/><rect x="612.16" y="47.63" width="2.6" height="2.6" fill="#f26b61" stroke="#1a1a1a" stroke-width="0.55"/><rect x="611.28" y="80.6" width="2.6" height="2.6" fill="#f26b61" stroke="#1a1a1a" stroke-width="0.55"/><rect x="611.39" y="86.69" width="2.6" height="2.6" fill="#f26b61" stroke="#1a1a1a" stroke-width="0.55"/><rect x="614.59" y="51.31" width="2.6" height="2.6" fill="#f26b61" stroke="#1a1a1a" stroke-width="0.55"/><rect x="614.86" y="52.06" width="2.6" height="2.6" fill="#f26b61" stroke="#1a1a1a" stroke-width="0.55"/><rect x="614.38" y="88.18" width="2.6" height="2.6" fill="#f26b61" stroke="#1a1a1a" stroke-width="0.55"/><rect x="614.7" y="84.98" width="2.6" height="2.6" fill="#f26b61" stroke="#1a1a1a" stroke-width="0.55"/><rect x="614.7" y="97.78" width="2.6" height="2.6" fill="#f26b61" stroke="#1a1a1a" stroke-width="0.55"/><rect x="613.98" y="93.92" width="2.6" height="2.6" fill="#f26b61" stroke="#1a1a1a" stroke-width="0.55"/><rect x="613.42" y="79.6" width="2.6" height="2.6" fill="#f26b61" stroke="#1a1a1a" stroke-width="0.55"/><rect x="613.31" y="54.88" width="2.6" height="2.6" fill="#f26b61" stroke="#1a1a1a" stroke-width="0.55"/><rect x="614.97" y="46.39" width="2.6" height="2.6" fill="#f26b61" stroke="#1a1a1a" stroke-width="0.55"/><rect x="613.93" y="52.86" width="2.6" height="2.6" fill="#f26b61" stroke="#1a1a1a" stroke-width="0.55"/><rect x="614.38" y="45.57" width="2.6" height="2.6" fill="#f26b61" stroke="#1a1a1a" stroke-width="0.55"/><rect x="612.05" y="56.73" width="2.6" height="2.6" fill="#f26b61" stroke="#1a1a1a" stroke-width="0.55"/><rect x="614.61" y="84.88" width="2.6" height="2.6" fill="#f26b61" stroke="#1a1a1a" stroke-width="0.55"/><rect x="612.38" y="47.86" width="2.6" height="2.6" fill="#f26b61" stroke="#1a1a1a" stroke-width="0.55"/>
<line x1="653.3" y1="64.8" x2="653.3" y2="97" stroke="#111" stroke-width="1"/><rect x="651.2" y="77.2" width="4.1" height="8" fill="#8b9bd8" stroke="#333" stroke-width="0.5"/><line x1="651.2" y1="83.2" x2="655.3" y2="83.2" stroke="#111" stroke-width="1.4"/>
<path d="M654.48 61.81h3.8M656.38 59.91v3.8" stroke="#000" stroke-width="0.75"/><path d="M657.57 55.27h3.8M659.47 53.37v3.8" stroke="#000" stroke-width="0.75"/><path d="M657.55 20.8h3.8M659.45 18.9v3.8" stroke="#000" stroke-width="0.75"/><path d="M656.44 61.49h3.8M658.34 59.59v3.8" stroke="#000" stroke-width="0.75"/><path d="M655.36 18.1h3.8M657.26 16.2v3.8" stroke="#000" stroke-width="0.75"/><path d="M658.18 57.12h3.8M660.08 55.22v3.8" stroke="#000" stroke-width="0.75"/><path d="M654.76 43.88h3.8M656.66 41.98v3.8" stroke="#000" stroke-width="0.75"/><path d="M655.57 36.33h3.8M657.47 34.43v3.8" stroke="#000" stroke-width="0.75"/><path d="M655.79 54.57h3.8M657.69 52.67v3.8" stroke="#000" stroke-width="0.75"/><path d="M656.08 49.38h3.8M657.98 47.48v3.8" stroke="#000" stroke-width="0.75"/><path d="M656.44 63.96h3.8M658.34 62.06v3.8" stroke="#000" stroke-width="0.75"/><path d="M654.64 29.7h3.8M656.54 27.8v3.8" stroke="#000" stroke-width="0.75"/><path d="M659.25 24.56h3.8M661.15 22.66v3.8" stroke="#000" stroke-width="0.75"/><path d="M658.47 41.28h3.8M660.37 39.38v3.8" stroke="#000" stroke-width="0.75"/><path d="M654.74 62.44h3.8M656.64 60.54v3.8" stroke="#000" stroke-width="0.75"/><path d="M658.9 49.28h3.8M660.8 47.38v3.8" stroke="#000" stroke-width="0.75"/><path d="M656.78 50.49h3.8M658.68 48.59v3.8" stroke="#000" stroke-width="0.75"/><path d="M656.53 31.32h3.8M658.43 29.42v3.8" stroke="#000" stroke-width="0.75"/><path d="M658.92 63.48h3.8M660.82 61.58v3.8" stroke="#000" stroke-width="0.75"/><path d="M658.41 58.7h3.8M660.31 56.8v3.8" stroke="#000" stroke-width="0.75"/><path d="M655.12 40.63h3.8M657.02 38.73v3.8" stroke="#000" stroke-width="0.75"/><path d="M654.56 57.7h3.8M656.46 55.8v3.8" stroke="#000" stroke-width="0.75"/><path d="M656.05 66.87h3.8M657.95 64.97v3.8" stroke="#000" stroke-width="0.75"/><path d="M658.73 37.86h3.8M660.63 35.96v3.8" stroke="#000" stroke-width="0.75"/><path d="M656 65.17h3.8M657.9 63.27v3.8" stroke="#000" stroke-width="0.75"/><path d="M656.8 22.03h3.8M658.7 20.13v3.8" stroke="#000" stroke-width="0.75"/><path d="M659.21 46.54h3.8M661.11 44.64v3.8" stroke="#000" stroke-width="0.75"/><path d="M656.27 37.8h3.8M658.17 35.9v3.8" stroke="#000" stroke-width="0.75"/><path d="M656.31 46.94h3.8M658.21 45.04v3.8" stroke="#000" stroke-width="0.75"/><path d="M656.67 29.38h3.8M658.57 27.48v3.8" stroke="#000" stroke-width="0.75"/><path d="M654.38 45.5h3.8M656.28 43.6v3.8" stroke="#000" stroke-width="0.75"/><path d="M658.17 24.7h3.8M660.07 22.8v3.8" stroke="#000" stroke-width="0.75"/><path d="M658.16 62.3h3.8M660.06 60.4v3.8" stroke="#000" stroke-width="0.75"/><path d="M656.87 39.24h3.8M658.77 37.34v3.8" stroke="#000" stroke-width="0.75"/><path d="M657.57 18.69h3.8M659.47 16.79v3.8" stroke="#000" stroke-width="0.75"/><path d="M658.88 51.99h3.8M660.78 50.09v3.8" stroke="#000" stroke-width="0.75"/><path d="M654.45 58.73h3.8M656.35 56.83v3.8" stroke="#000" stroke-width="0.75"/><path d="M655.27 45h3.8M657.17 43.1v3.8" stroke="#000" stroke-width="0.75"/><path d="M656.42 48.71h3.8M658.32 46.81v3.8" stroke="#000" stroke-width="0.75"/><path d="M655.04 28.5h3.8M656.94 26.6v3.8" stroke="#000" stroke-width="0.75"/><path d="M657.82 58.51h3.8M659.72 56.61v3.8" stroke="#000" stroke-width="0.75"/><path d="M656.14 47.19h3.8M658.04 45.29v3.8" stroke="#000" stroke-width="0.75"/>
<path d="M661.65 80.76L663.4 83.86L659.9 83.86Z" fill="#8b9bd8" stroke="#15152a" stroke-width="0.5"/><path d="M659.7 84.63L661.45 87.73L657.95 87.73Z" fill="#8b9bd8" stroke="#15152a" stroke-width="0.5"/><path d="M657.34 64.61L659.09 67.71L655.59 67.71Z" fill="#8b9bd8" stroke="#15152a" stroke-width="0.5"/><path d="M658.58 90.61L660.33 93.71L656.83 93.71Z" fill="#8b9bd8" stroke="#15152a" stroke-width="0.5"/><path d="M660.17 91.5L661.92 94.6L658.42 94.6Z" fill="#8b9bd8" stroke="#15152a" stroke-width="0.5"/><path d="M660.09 71.65L661.84 74.75L658.34 74.75Z" fill="#8b9bd8" stroke="#15152a" stroke-width="0.5"/><path d="M658.03 71.55L659.78 74.65L656.28 74.65Z" fill="#8b9bd8" stroke="#15152a" stroke-width="0.5"/><path d="M660.73 87.72L662.48 90.82L658.98 90.82Z" fill="#8b9bd8" stroke="#15152a" stroke-width="0.5"/><path d="M661.72 95.6L663.47 98.7L659.97 98.7Z" fill="#8b9bd8" stroke="#15152a" stroke-width="0.5"/><path d="M656.17 61.45L657.92 64.55L654.42 64.55Z" fill="#8b9bd8" stroke="#15152a" stroke-width="0.5"/><path d="M660.47 80.18L662.22 83.28L658.72 83.28Z" fill="#8b9bd8" stroke="#15152a" stroke-width="0.5"/><path d="M660.55 72.13L662.3 75.23L658.8 75.23Z" fill="#8b9bd8" stroke="#15152a" stroke-width="0.5"/><path d="M658.84 80.36L660.59 83.46L657.09 83.46Z" fill="#8b9bd8" stroke="#15152a" stroke-width="0.5"/><path d="M657.27 62.38L659.02 65.48L655.52 65.48Z" fill="#8b9bd8" stroke="#15152a" stroke-width="0.5"/><path d="M657.5 77.61L659.25 80.71L655.75 80.71Z" fill="#8b9bd8" stroke="#15152a" stroke-width="0.5"/><path d="M659.69 84.4L661.44 87.5L657.94 87.5Z" fill="#8b9bd8" stroke="#15152a" stroke-width="0.5"/><path d="M659.88 76.61L661.63 79.71L658.13 79.71Z" fill="#8b9bd8" stroke="#15152a" stroke-width="0.5"/><path d="M659.47 68.31L661.22 71.41L657.72 71.41Z" fill="#8b9bd8" stroke="#15152a" stroke-width="0.5"/><path d="M657.8 86.61L659.55 89.71L656.05 89.71Z" fill="#8b9bd8" stroke="#15152a" stroke-width="0.5"/><path d="M658.02 73.1L659.77 76.2L656.27 76.2Z" fill="#8b9bd8" stroke="#15152a" stroke-width="0.5"/><path d="M657 86.63L658.75 89.73L655.25 89.73Z" fill="#8b9bd8" stroke="#15152a" stroke-width="0.5"/><path d="M660.36 86.71L662.11 89.81L658.61 89.81Z" fill="#8b9bd8" stroke="#15152a" stroke-width="0.5"/><path d="M657.46 66.27L659.21 69.37L655.71 69.37Z" fill="#8b9bd8" stroke="#15152a" stroke-width="0.5"/><path d="M661.13 79.12L662.88 82.22L659.38 82.22Z" fill="#8b9bd8" stroke="#15152a" stroke-width="0.5"/><path d="M660.35 93.94L662.1 97.04L658.6 97.04Z" fill="#8b9bd8" stroke="#15152a" stroke-width="0.5"/><path d="M657.48 85.45L659.23 88.55L655.73 88.55Z" fill="#8b9bd8" stroke="#15152a" stroke-width="0.5"/><path d="M656.08 94.33L657.83 97.43L654.33 97.43Z" fill="#8b9bd8" stroke="#15152a" stroke-width="0.5"/><path d="M657.15 72.65L658.9 75.75L655.4 75.75Z" fill="#8b9bd8" stroke="#15152a" stroke-width="0.5"/><path d="M656.14 76.16L657.89 79.26L654.39 79.26Z" fill="#8b9bd8" stroke="#15152a" stroke-width="0.5"/><path d="M656.08 90.35L657.83 93.45L654.33 93.45Z" fill="#8b9bd8" stroke="#15152a" stroke-width="0.5"/><path d="M657.23 92.59L658.98 95.69L655.48 95.69Z" fill="#8b9bd8" stroke="#15152a" stroke-width="0.5"/><path d="M656.69 65.18L658.44 68.28L654.94 68.28Z" fill="#8b9bd8" stroke="#15152a" stroke-width="0.5"/><path d="M659.35 67.39L661.1 70.49L657.6 70.49Z" fill="#8b9bd8" stroke="#15152a" stroke-width="0.5"/><path d="M659.05 76.72L660.8 79.82L657.3 79.82Z" fill="#8b9bd8" stroke="#15152a" stroke-width="0.5"/><path d="M657.99 88.19L659.74 91.29L656.24 91.29Z" fill="#8b9bd8" stroke="#15152a" stroke-width="0.5"/><path d="M659.26 93.23L661.01 96.33L657.51 96.33Z" fill="#8b9bd8" stroke="#15152a" stroke-width="0.5"/><path d="M656.78 77.74L658.53 80.84L655.03 80.84Z" fill="#8b9bd8" stroke="#15152a" stroke-width="0.5"/><path d="M656.57 92.09L658.32 95.19L654.82 95.19Z" fill="#8b9bd8" stroke="#15152a" stroke-width="0.5"/><path d="M656.19 93.49L657.94 96.59L654.44 96.59Z" fill="#8b9bd8" stroke="#15152a" stroke-width="0.5"/><path d="M659.11 85.62L660.86 88.72L657.36 88.72Z" fill="#8b9bd8" stroke="#15152a" stroke-width="0.5"/><path d="M658.89 90.3L660.64 93.4L657.14 93.4Z" fill="#8b9bd8" stroke="#15152a" stroke-width="0.5"/><path d="M659.63 84.38L661.38 87.48L657.88 87.48Z" fill="#8b9bd8" stroke="#15152a" stroke-width="0.5"/><path d="M657.09 75.98L658.84 79.08L655.34 79.08Z" fill="#8b9bd8" stroke="#15152a" stroke-width="0.5"/><path d="M657.59 85.99L659.34 89.09L655.84 89.09Z" fill="#8b9bd8" stroke="#15152a" stroke-width="0.5"/><path d="M659.06 65.22L660.81 68.32L657.31 68.32Z" fill="#8b9bd8" stroke="#15152a" stroke-width="0.5"/><path d="M656.56 67.21L658.31 70.31L654.81 70.31Z" fill="#8b9bd8" stroke="#15152a" stroke-width="0.5"/><path d="M656.73 82.9L658.48 86L654.98 86Z" fill="#8b9bd8" stroke="#15152a" stroke-width="0.5"/><path d="M658.73 68.71L660.48 71.81L656.98 71.81Z" fill="#8b9bd8" stroke="#15152a" stroke-width="0.5"/><path d="M658.31 93.73L660.06 96.83L656.56 96.83Z" fill="#8b9bd8" stroke="#15152a" stroke-width="0.5"/><path d="M661.6 94.61L663.35 97.71L659.85 97.71Z" fill="#8b9bd8" stroke="#15152a" stroke-width="0.5"/><path d="M659.17 92.29L660.92 95.39L657.42 95.39Z" fill="#8b9bd8" stroke="#15152a" stroke-width="0.5"/><path d="M660.92 94.04L662.67 97.14L659.17 97.14Z" fill="#8b9bd8" stroke="#15152a" stroke-width="0.5"/><path d="M659.48 88.2L661.23 91.3L657.73 91.3Z" fill="#8b9bd8" stroke="#15152a" stroke-width="0.5"/><path d="M656.59 64.6L658.34 67.7L654.84 67.7Z" fill="#8b9bd8" stroke="#15152a" stroke-width="0.5"/><path d="M657.84 88.52L659.59 91.62L656.09 91.62Z" fill="#8b9bd8" stroke="#15152a" stroke-width="0.5"/>
<path d="M657.1 100.8h3.8M659 98.9v3.8" stroke="#000" stroke-width="0.75"/>
<path d="M657 104.3h3.8M658.9 102.4v3.8" stroke="#000" stroke-width="0.75"/>
<circle cx="568.9" cy="222.18" r="1.6" fill="#8de3c6" stroke="#111" stroke-width="0.6"/>
<circle cx="568.48" cy="222.8" r="1.6" fill="#8de3c6" stroke="#111" stroke-width="0.6"/>
<circle cx="569.38" cy="224.15" r="1.6" fill="#8de3c6" stroke="#111" stroke-width="0.6"/>
<circle cx="569.24" cy="223.36" r="1.6" fill="#8de3c6" stroke="#111" stroke-width="0.6"/>
<circle cx="568.31" cy="223.28" r="1.6" fill="#8de3c6" stroke="#111" stroke-width="0.6"/>
<circle cx="568.7" cy="222.47" r="1.6" fill="#8de3c6" stroke="#111" stroke-width="0.6"/>
<circle cx="569.71" cy="222.19" r="1.6" fill="#8de3c6" stroke="#111" stroke-width="0.6"/>
<circle cx="569.84" cy="224.23" r="1.6" fill="#8de3c6" stroke="#111" stroke-width="0.6"/>
<circle cx="568.17" cy="219.18" r="1.6" fill="#8de3c6" stroke="#111" stroke-width="0.6"/>
<circle cx="571.52" cy="226.35" r="1.6" fill="#8de3c6" stroke="#111" stroke-width="0.6"/>
<circle cx="568.65" cy="224.83" r="1.6" fill="#8de3c6" stroke="#111" stroke-width="0.6"/>
<circle cx="570.88" cy="222.51" r="1.6" fill="#8de3c6" stroke="#111" stroke-width="0.6"/>
<circle cx="567.91" cy="226.19" r="1.6" fill="#8de3c6" stroke="#111" stroke-width="0.6"/>
<circle cx="570.11" cy="220.93" r="1.6" fill="#8de3c6" stroke="#111" stroke-width="0.6"/>
<circle cx="570.51" cy="223.28" r="1.6" fill="#8de3c6" stroke="#111" stroke-width="0.6"/>
<circle cx="568.77" cy="226.14" r="1.6" fill="#8de3c6" stroke="#111" stroke-width="0.6"/>
<circle cx="570.38" cy="222.74" r="1.6" fill="#8de3c6" stroke="#111" stroke-width="0.6"/>
<circle cx="570.2" cy="225.98" r="1.6" fill="#8de3c6" stroke="#111" stroke-width="0.6"/>
<circle cx="573.24" cy="222.73" r="1.6" fill="#8de3c6" stroke="#111" stroke-width="0.6"/>
<circle cx="568.84" cy="224.74" r="1.6" fill="#8de3c6" stroke="#111" stroke-width="0.6"/>
<circle cx="572.18" cy="221.79" r="1.6" fill="#8de3c6" stroke="#111" stroke-width="0.6"/>
<circle cx="568.21" cy="223.85" r="1.6" fill="#8de3c6" stroke="#111" stroke-width="0.6"/>
<circle cx="570.86" cy="222.91" r="1.6" fill="#8de3c6" stroke="#111" stroke-width="0.6"/>
<circle cx="569.76" cy="222.35" r="1.6" fill="#8de3c6" stroke="#111" stroke-width="0.6"/>
<circle cx="570.03" cy="223.5" r="1.6" fill="#8de3c6" stroke="#111" stroke-width="0.6"/>
<circle cx="569.79" cy="225.56" r="1.6" fill="#8de3c6" stroke="#111" stroke-width="0.6"/>
<path d="M561.2 222.8h4.4M563.4 220.6v4.4" stroke="#000" stroke-width="1.1"/>
<path d="M568.6 216.5h3.8M570.5 214.6v3.8" stroke="#000" stroke-width="0.75"/>
<path d="M570.6 217.5h3.8M572.5 215.6v3.8" stroke="#000" stroke-width="0.75"/>
<line x1="608.6" y1="186" x2="608.6" y2="227.3" stroke="#111" stroke-width="1"/><rect x="606.5" y="205.1" width="4.4" height="12.1" fill="#f26b61" stroke="#333" stroke-width="0.5"/><line x1="606.5" y1="212.5" x2="610.9" y2="212.5" stroke="#111" stroke-width="1.4"/>
<path d="M612.9 174.82h3.8M614.8 172.92v3.8" stroke="#000" stroke-width="0.75"/><path d="M610.37 167.54h3.8M612.27 165.64v3.8" stroke="#000" stroke-width="0.75"/><path d="M610.3 168.12h3.8M612.2 166.22v3.8" stroke="#000" stroke-width="0.75"/><path d="M610.92 179.22h3.8M612.82 177.32v3.8" stroke="#000" stroke-width="0.75"/><path d="M612.68 159.8h3.8M614.58 157.9v3.8" stroke="#000" stroke-width="0.75"/><path d="M614.25 168.1h3.8M616.15 166.2v3.8" stroke="#000" stroke-width="0.75"/><path d="M611.21 159.06h3.8M613.11 157.16v3.8" stroke="#000" stroke-width="0.75"/><path d="M611.62 162.05h3.8M613.52 160.15v3.8" stroke="#000" stroke-width="0.75"/><path d="M613.19 173.77h3.8M615.09 171.87v3.8" stroke="#000" stroke-width="0.75"/><path d="M612.44 158.78h3.8M614.34 156.88v3.8" stroke="#000" stroke-width="0.75"/><path d="M611.28 176.15h3.8M613.18 174.25v3.8" stroke="#000" stroke-width="0.75"/><path d="M614.2 177.64h3.8M616.1 175.74v3.8" stroke="#000" stroke-width="0.75"/><path d="M610.19 156.11h3.8M612.09 154.21v3.8" stroke="#000" stroke-width="0.75"/><path d="M612.68 174.57h3.8M614.58 172.67v3.8" stroke="#000" stroke-width="0.75"/><path d="M612.29 176.28h3.8M614.19 174.38v3.8" stroke="#000" stroke-width="0.75"/><path d="M612.72 180.59h3.8M614.62 178.69v3.8" stroke="#000" stroke-width="0.75"/><path d="M613.18 170.46h3.8M615.08 168.56v3.8" stroke="#000" stroke-width="0.75"/><path d="M611.66 169.96h3.8M613.56 168.06v3.8" stroke="#000" stroke-width="0.75"/><path d="M612.28 165.35h3.8M614.18 163.45v3.8" stroke="#000" stroke-width="0.75"/><path d="M611.66 163.53h3.8M613.56 161.63v3.8" stroke="#000" stroke-width="0.75"/><path d="M613.02 155.26h3.8M614.92 153.36v3.8" stroke="#000" stroke-width="0.75"/><path d="M612.42 164.55h3.8M614.32 162.65v3.8" stroke="#000" stroke-width="0.75"/><path d="M609.77 163.69h3.8M611.67 161.79v3.8" stroke="#000" stroke-width="0.75"/><path d="M611.02 179.15h3.8M612.92 177.25v3.8" stroke="#000" stroke-width="0.75"/><path d="M609.97 166.69h3.8M611.87 164.79v3.8" stroke="#000" stroke-width="0.75"/><path d="M610.81 179.73h3.8M612.71 177.83v3.8" stroke="#000" stroke-width="0.75"/><path d="M611.48 176.8h3.8M613.38 174.9v3.8" stroke="#000" stroke-width="0.75"/><path d="M610.23 178.84h3.8M612.13 176.94v3.8" stroke="#000" stroke-width="0.75"/><path d="M610.37 174.31h3.8M612.27 172.41v3.8" stroke="#000" stroke-width="0.75"/><path d="M613.8 172.8h3.8M615.7 170.9v3.8" stroke="#000" stroke-width="0.75"/><path d="M610.16 180.94h3.8M612.06 179.04v3.8" stroke="#000" stroke-width="0.75"/><path d="M610.85 170.45h3.8M612.75 168.55v3.8" stroke="#000" stroke-width="0.75"/><path d="M610.26 180.82h3.8M612.16 178.92v3.8" stroke="#000" stroke-width="0.75"/><path d="M612.34 159.48h3.8M614.24 157.58v3.8" stroke="#000" stroke-width="0.75"/><path d="M613.44 162.4h3.8M615.34 160.5v3.8" stroke="#000" stroke-width="0.75"/><path d="M612.49 181.53h3.8M614.39 179.63v3.8" stroke="#000" stroke-width="0.75"/>
<rect x="612.71" y="187.63" width="2.6" height="2.6" fill="#f26b61" stroke="#1a1a1a" stroke-width="0.55"/><rect x="613.83" y="210.44" width="2.6" height="2.6" fill="#f26b61" stroke="#1a1a1a" stroke-width="0.55"/><rect x="610.87" y="197.94" width="2.6" height="2.6" fill="#f26b61" stroke="#1a1a1a" stroke-width="0.55"/><rect x="613.45" y="188.23" width="2.6" height="2.6" fill="#f26b61" stroke="#1a1a1a" stroke-width="0.55"/><rect x="612.2" y="190.32" width="2.6" height="2.6" fill="#f26b61" stroke="#1a1a1a" stroke-width="0.55"/><rect x="615.11" y="210.22" width="2.6" height="2.6" fill="#f26b61" stroke="#1a1a1a" stroke-width="0.55"/><rect x="611.95" y="205.63" width="2.6" height="2.6" fill="#f26b61" stroke="#1a1a1a" stroke-width="0.55"/><rect x="612.05" y="208.77" width="2.6" height="2.6" fill="#f26b61" stroke="#1a1a1a" stroke-width="0.55"/><rect x="611.46" y="217.51" width="2.6" height="2.6" fill="#f26b61" stroke="#1a1a1a" stroke-width="0.55"/><rect x="612.85" y="194.36" width="2.6" height="2.6" fill="#f26b61" stroke="#1a1a1a" stroke-width="0.55"/><rect x="611.51" y="223.11" width="2.6" height="2.6" fill="#f26b61" stroke="#1a1a1a" stroke-width="0.55"/><rect x="611.35" y="191.26" width="2.6" height="2.6" fill="#f26b61" stroke="#1a1a1a" stroke-width="0.55"/><rect x="612.33" y="192.21" width="2.6" height="2.6" fill="#f26b61" stroke="#1a1a1a" stroke-width="0.55"/><rect x="614.42" y="200.28" width="2.6" height="2.6" fill="#f26b61" stroke="#1a1a1a" stroke-width="0.55"/><rect x="613.03" y="200.67" width="2.6" height="2.6" fill="#f26b61" stroke="#1a1a1a" stroke-width="0.55"/><rect x="614.49" y="200.34" width="2.6" height="2.6" fill="#f26b61" stroke="#1a1a1a" stroke-width="0.55"/><rect x="612.78" y="222.89" width="2.6" height="2.6" fill="#f26b61" stroke="#1a1a1a" stroke-width="0.55"/><rect x="611.93" y="223.7" width="2.6" height="2.6" fill="#f26b61" stroke="#1a1a1a" stroke-width="0.55"/><rect x="613.27" y="226.21" width="2.6" height="2.6" fill="#f26b61" stroke="#1a1a1a" stroke-width="0.55"/><rect x="612.57" y="213.05" width="2.6" height="2.6" fill="#f26b61" stroke="#1a1a1a" stroke-width="0.55"/><rect x="611.36" y="194.78" width="2.6" height="2.6" fill="#f26b61" stroke="#1a1a1a" stroke-width="0.55"/><rect x="612.46" y="222.1" width="2.6" height="2.6" fill="#f26b61" stroke="#1a1a1a" stroke-width="0.55"/><rect x="612.96" y="213.79" width="2.6" height="2.6" fill="#f26b61" stroke="#1a1a1a" stroke-width="0.55"/><rect x="611.71" y="206.14" width="2.6" height="2.6" fill="#f26b61" stroke="#1a1a1a" stroke-width="0.55"/><rect x="612.35" y="190.58" width="2.6" height="2.6" fill="#f26b61" stroke="#1a1a1a" stroke-width="0.55"/><rect x="613.36" y="213.03" width="2.6" height="2.6" fill="#f26b61" stroke="#1a1a1a" stroke-width="0.55"/><rect x="614.18" y="182.81" width="2.6" height="2.6" fill="#f26b61" stroke="#1a1a1a" stroke-width="0.55"/><rect x="611.04" y="201.97" width="2.6" height="2.6" fill="#f26b61" stroke="#1a1a1a" stroke-width="0.55"/><rect x="611.74" y="194.27" width="2.6" height="2.6" fill="#f26b61" stroke="#1a1a1a" stroke-width="0.55"/><rect x="613.4" y="219.32" width="2.6" height="2.6" fill="#f26b61" stroke="#1a1a1a" stroke-width="0.55"/><rect x="611.92" y="197.24" width="2.6" height="2.6" fill="#f26b61" stroke="#1a1a1a" stroke-width="0.55"/><rect x="612.07" y="195.66" width="2.6" height="2.6" fill="#f26b61" stroke="#1a1a1a" stroke-width="0.55"/><rect x="614.57" y="198.11" width="2.6" height="2.6" fill="#f26b61" stroke="#1a1a1a" stroke-width="0.55"/><rect x="614.12" y="217.79" width="2.6" height="2.6" fill="#f26b61" stroke="#1a1a1a" stroke-width="0.55"/><rect x="613.9" y="222.08" width="2.6" height="2.6" fill="#f26b61" stroke="#1a1a1a" stroke-width="0.55"/><rect x="610.92" y="187.75" width="2.6" height="2.6" fill="#f26b61" stroke="#1a1a1a" stroke-width="0.55"/><rect x="611.96" y="190.01" width="2.6" height="2.6" fill="#f26b61" stroke="#1a1a1a" stroke-width="0.55"/><rect x="614.73" y="206.21" width="2.6" height="2.6" fill="#f26b61" stroke="#1a1a1a" stroke-width="0.55"/><rect x="612.81" y="208.77" width="2.6" height="2.6" fill="#f26b61" stroke="#1a1a1a" stroke-width="0.55"/><rect x="615.51" y="193.48" width="2.6" height="2.6" fill="#f26b61" stroke="#1a1a1a" stroke-width="0.55"/><rect x="612.37" y="216.22" width="2.6" height="2.6" fill="#f26b61" stroke="#1a1a1a" stroke-width="0.55"/><rect x="615.51" y="184.75" width="2.6" height="2.6" fill="#f26b61" stroke="#1a1a1a" stroke-width="0.55"/><rect x="614.85" y="194.1" width="2.6" height="2.6" fill="#f26b61" stroke="#1a1a1a" stroke-width="0.55"/><rect x="613.9" y="187.92" width="2.6" height="2.6" fill="#f26b61" stroke="#1a1a1a" stroke-width="0.55"/><rect x="615.06" y="198.56" width="2.6" height="2.6" fill="#f26b61" stroke="#1a1a1a" stroke-width="0.55"/><rect x="611.19" y="195.92" width="2.6" height="2.6" fill="#f26b61" stroke="#1a1a1a" stroke-width="0.55"/><rect x="614.65" y="191.55" width="2.6" height="2.6" fill="#f26b61" stroke="#1a1a1a" stroke-width="0.55"/><rect x="613.85" y="226.25" width="2.6" height="2.6" fill="#f26b61" stroke="#1a1a1a" stroke-width="0.55"/><rect x="612.08" y="213.04" width="2.6" height="2.6" fill="#f26b61" stroke="#1a1a1a" stroke-width="0.55"/><rect x="611.13" y="194.83" width="2.6" height="2.6" fill="#f26b61" stroke="#1a1a1a" stroke-width="0.55"/><rect x="610.91" y="226.52" width="2.6" height="2.6" fill="#f26b61" stroke="#1a1a1a" stroke-width="0.55"/><rect x="612.41" y="209.95" width="2.6" height="2.6" fill="#f26b61" stroke="#1a1a1a" stroke-width="0.55"/><rect x="612.84" y="191.01" width="2.6" height="2.6" fill="#f26b61" stroke="#1a1a1a" stroke-width="0.55"/><rect x="611.91" y="224.12" width="2.6" height="2.6" fill="#f26b61" stroke="#1a1a1a" stroke-width="0.55"/><rect x="613.78" y="190.03" width="2.6" height="2.6" fill="#f26b61" stroke="#1a1a1a" stroke-width="0.55"/><rect x="613.2" y="211.94" width="2.6" height="2.6" fill="#f26b61" stroke="#1a1a1a" stroke-width="0.55"/><rect x="614.98" y="190.69" width="2.6" height="2.6" fill="#f26b61" stroke="#1a1a1a" stroke-width="0.55"/><rect x="611.55" y="187.63" width="2.6" height="2.6" fill="#f26b61" stroke="#1a1a1a" stroke-width="0.55"/><rect x="613.22" y="193.46" width="2.6" height="2.6" fill="#f26b61" stroke="#1a1a1a" stroke-width="0.55"/><rect x="613.41" y="203.9" width="2.6" height="2.6" fill="#f26b61" stroke="#1a1a1a" stroke-width="0.55"/><rect x="615.08" y="215.05" width="2.6" height="2.6" fill="#f26b61" stroke="#1a1a1a" stroke-width="0.55"/><rect x="610.91" y="203.54" width="2.6" height="2.6" fill="#f26b61" stroke="#1a1a1a" stroke-width="0.55"/><rect x="610.79" y="219.67" width="2.6" height="2.6" fill="#f26b61" stroke="#1a1a1a" stroke-width="0.55"/><rect x="611.4" y="196.85" width="2.6" height="2.6" fill="#f26b61" stroke="#1a1a1a" stroke-width="0.55"/><rect x="614.53" y="209.5" width="2.6" height="2.6" fill="#f26b61" stroke="#1a1a1a" stroke-width="0.55"/><rect x="612.14" y="188.43" width="2.6" height="2.6" fill="#f26b61" stroke="#1a1a1a" stroke-width="0.55"/><rect x="614.08" y="220.57" width="2.6" height="2.6" fill="#f26b61" stroke="#1a1a1a" stroke-width="0.55"/><rect x="614.06" y="187.53" width="2.6" height="2.6" fill="#f26b61" stroke="#1a1a1a" stroke-width="0.55"/><rect x="612.7" y="218.03" width="2.6" height="2.6" fill="#f26b61" stroke="#1a1a1a" stroke-width="0.55"/><rect x="613.93" y="189.61" width="2.6" height="2.6" fill="#f26b61" stroke="#1a1a1a" stroke-width="0.55"/><rect x="611.36" y="196.9" width="2.6" height="2.6" fill="#f26b61" stroke="#1a1a1a" stroke-width="0.55"/><rect x="612.67" y="190.03" width="2.6" height="2.6" fill="#f26b61" stroke="#1a1a1a" stroke-width="0.55"/><rect x="612.59" y="188.35" width="2.6" height="2.6" fill="#f26b61" stroke="#1a1a1a" stroke-width="0.55"/><rect x="613.41" y="207.24" width="2.6" height="2.6" fill="#f26b61" stroke="#1a1a1a" stroke-width="0.55"/><rect x="614.62" y="200.67" width="2.6" height="2.6" fill="#f26b61" stroke="#1a1a1a" stroke-width="0.55"/><rect x="612.32" y="186.61" width="2.6" height="2.6" fill="#f26b61" stroke="#1a1a1a" stroke-width="0.55"/><rect x="614.94" y="224.23" width="2.6" height="2.6" fill="#f26b61" stroke="#1a1a1a" stroke-width="0.55"/><rect x="614.45" y="223.68" width="2.6" height="2.6" fill="#f26b61" stroke="#1a1a1a" stroke-width="0.55"/><rect x="614.56" y="206.54" width="2.6" height="2.6" fill="#f26b61" stroke="#1a1a1a" stroke-width="0.55"/><rect x="611.28" y="208.18" width="2.6" height="2.6" fill="#f26b61" stroke="#1a1a1a" stroke-width="0.55"/><rect x="611.18" y="194.06" width="2.6" height="2.6" fill="#f26b61" stroke="#1a1a1a" stroke-width="0.55"/><rect x="612.28" y="221.64" width="2.6" height="2.6" fill="#f26b61" stroke="#1a1a1a" stroke-width="0.55"/><rect x="613.34" y="200.83" width="2.6" height="2.6" fill="#f26b61" stroke="#1a1a1a" stroke-width="0.55"/><rect x="614.16" y="187.19" width="2.6" height="2.6" fill="#f26b61" stroke="#1a1a1a" stroke-width="0.55"/><rect x="614.6" y="218.1" width="2.6" height="2.6" fill="#f26b61" stroke="#1a1a1a" stroke-width="0.55"/><rect x="612.25" y="221.91" width="2.6" height="2.6" fill="#f26b61" stroke="#1a1a1a" stroke-width="0.55"/><rect x="614.43" y="189.17" width="2.6" height="2.6" fill="#f26b61" stroke="#1a1a1a" stroke-width="0.55"/><rect x="612.52" y="213.55" width="2.6" height="2.6" fill="#f26b61" stroke="#1a1a1a" stroke-width="0.55"/><rect x="611.45" y="197.98" width="2.6" height="2.6" fill="#f26b61" stroke="#1a1a1a" stroke-width="0.55"/><rect x="612.96" y="219.72" width="2.6" height="2.6" fill="#f26b61" stroke="#1a1a1a" stroke-width="0.55"/><rect x="612.36" y="218.84" width="2.6" height="2.6" fill="#f26b61" stroke="#1a1a1a" stroke-width="0.55"/><rect x="613.21" y="196.99" width="2.6" height="2.6" fill="#f26b61" stroke="#1a1a1a" stroke-width="0.55"/><rect x="615.03" y="215.88" width="2.6" height="2.6" fill="#f26b61" stroke="#1a1a1a" stroke-width="0.55"/><rect x="614.1" y="198.42" width="2.6" height="2.6" fill="#f26b61" stroke="#1a1a1a" stroke-width="0.55"/><rect x="614.92" y="200.66" width="2.6" height="2.6" fill="#f26b61" stroke="#1a1a1a" stroke-width="0.55"/><rect x="613.42" y="216.52" width="2.6" height="2.6" fill="#f26b61" stroke="#1a1a1a" stroke-width="0.55"/><rect x="612.04" y="198.83" width="2.6" height="2.6" fill="#f26b61" stroke="#1a1a1a" stroke-width="0.55"/><rect x="614.62" y="222.08" width="2.6" height="2.6" fill="#f26b61" stroke="#1a1a1a" stroke-width="0.55"/><rect x="611.12" y="196.28" width="2.6" height="2.6" fill="#f26b61" stroke="#1a1a1a" stroke-width="0.55"/><rect x="615.42" y="191.38" width="2.6" height="2.6" fill="#f26b61" stroke="#1a1a1a" stroke-width="0.55"/><rect x="614.67" y="184.44" width="2.6" height="2.6" fill="#f26b61" stroke="#1a1a1a" stroke-width="0.55"/><rect x="613.41" y="206.24" width="2.6" height="2.6" fill="#f26b61" stroke="#1a1a1a" stroke-width="0.55"/><rect x="612.71" y="206.71" width="2.6" height="2.6" fill="#f26b61" stroke="#1a1a1a" stroke-width="0.55"/><rect x="611.14" y="207.5" width="2.6" height="2.6" fill="#f26b61" stroke="#1a1a1a" stroke-width="0.55"/><rect x="611.2" y="223.63" width="2.6" height="2.6" fill="#f26b61" stroke="#1a1a1a" stroke-width="0.55"/><rect x="614" y="188.87" width="2.6" height="2.6" fill="#f26b61" stroke="#1a1a1a" stroke-width="0.55"/><rect x="614.65" y="211.22" width="2.6" height="2.6" fill="#f26b61" stroke="#1a1a1a" stroke-width="0.55"/><rect x="615.26" y="213.52" width="2.6" height="2.6" fill="#f26b61" stroke="#1a1a1a" stroke-width="0.55"/><rect x="610.75" y="185" width="2.6" height="2.6" fill="#f26b61" stroke="#1a1a1a" stroke-width="0.55"/><rect x="614.52" y="193.24" width="2.6" height="2.6" fill="#f26b61" stroke="#1a1a1a" stroke-width="0.55"/>
<line x1="653.4" y1="190.9" x2="653.4" y2="237.3" stroke="#111" stroke-width="1"/><rect x="651.3" y="208.4" width="4" height="12.1" fill="#8b9bd8" stroke="#333" stroke-width="0.5"/><line x1="651.3" y1="215.1" x2="655.3" y2="215.1" stroke="#111" stroke-width="1.4"/>
<path d="M655.1 159.2h3.8M657 157.3v3.8" stroke="#000" stroke-width="0.75"/>
<path d="M657 157.3h3.8M658.9 155.4v3.8" stroke="#000" stroke-width="0.75"/>
<path d="M658.15 172.63h3.8M660.05 170.73v3.8" stroke="#000" stroke-width="0.75"/><path d="M658.8 172.7h3.8M660.7 170.8v3.8" stroke="#000" stroke-width="0.75"/><path d="M656.69 184.82h3.8M658.59 182.92v3.8" stroke="#000" stroke-width="0.75"/><path d="M655.82 185.54h3.8M657.72 183.64v3.8" stroke="#000" stroke-width="0.75"/><path d="M658.29 184.5h3.8M660.19 182.6v3.8" stroke="#000" stroke-width="0.75"/><path d="M657.11 183.54h3.8M659.01 181.64v3.8" stroke="#000" stroke-width="0.75"/><path d="M659.1 186h3.8M661 184.1v3.8" stroke="#000" stroke-width="0.75"/><path d="M658.55 184.14h3.8M660.45 182.24v3.8" stroke="#000" stroke-width="0.75"/><path d="M657.87 172.55h3.8M659.77 170.65v3.8" stroke="#000" stroke-width="0.75"/><path d="M659.27 186.38h3.8M661.17 184.48v3.8" stroke="#000" stroke-width="0.75"/><path d="M654.92 182.8h3.8M656.82 180.9v3.8" stroke="#000" stroke-width="0.75"/><path d="M655.91 171.07h3.8M657.81 169.17v3.8" stroke="#000" stroke-width="0.75"/><path d="M654.69 174.85h3.8M656.59 172.95v3.8" stroke="#000" stroke-width="0.75"/><path d="M657.09 188.13h3.8M658.99 186.23v3.8" stroke="#000" stroke-width="0.75"/><path d="M657.31 178.61h3.8M659.21 176.71v3.8" stroke="#000" stroke-width="0.75"/><path d="M658.43 189.1h3.8M660.33 187.2v3.8" stroke="#000" stroke-width="0.75"/><path d="M656.03 171.04h3.8M657.93 169.14v3.8" stroke="#000" stroke-width="0.75"/><path d="M659.23 172.09h3.8M661.13 170.19v3.8" stroke="#000" stroke-width="0.75"/><path d="M654.42 174.04h3.8M656.32 172.14v3.8" stroke="#000" stroke-width="0.75"/><path d="M656.94 175.11h3.8M658.84 173.21v3.8" stroke="#000" stroke-width="0.75"/><path d="M657.11 175.66h3.8M659.01 173.76v3.8" stroke="#000" stroke-width="0.75"/><path d="M657.97 181.75h3.8M659.87 179.85v3.8" stroke="#000" stroke-width="0.75"/><path d="M656.66 183.63h3.8M658.56 181.73v3.8" stroke="#000" stroke-width="0.75"/><path d="M654.5 179.01h3.8M656.4 177.11v3.8" stroke="#000" stroke-width="0.75"/><path d="M655.23 179.05h3.8M657.13 177.15v3.8" stroke="#000" stroke-width="0.75"/><path d="M658.57 187.13h3.8M660.47 185.23v3.8" stroke="#000" stroke-width="0.75"/><path d="M655.18 186.23h3.8M657.08 184.33v3.8" stroke="#000" stroke-width="0.75"/><path d="M654.33 189.68h3.8M656.23 187.78v3.8" stroke="#000" stroke-width="0.75"/>
<path d="M658.09 204.87L659.84 207.97L656.34 207.97Z" fill="#8b9bd8" stroke="#15152a" stroke-width="0.5"/><path d="M656.81 217.16L658.56 220.26L655.06 220.26Z" fill="#8b9bd8" stroke="#15152a" stroke-width="0.5"/><path d="M658.03 229.55L659.78 232.65L656.28 232.65Z" fill="#8b9bd8" stroke="#15152a" stroke-width="0.5"/><path d="M657.98 232.8L659.73 235.9L656.23 235.9Z" fill="#8b9bd8" stroke="#15152a" stroke-width="0.5"/><path d="M657.15 202.46L658.9 205.56L655.4 205.56Z" fill="#8b9bd8" stroke="#15152a" stroke-width="0.5"/><path d="M659.38 235.67L661.13 238.77L657.63 238.77Z" fill="#8b9bd8" stroke="#15152a" stroke-width="0.5"/><path d="M656.54 228.63L658.29 231.73L654.79 231.73Z" fill="#8b9bd8" stroke="#15152a" stroke-width="0.5"/><path d="M660.16 214.41L661.91 217.51L658.41 217.51Z" fill="#8b9bd8" stroke="#15152a" stroke-width="0.5"/><path d="M661.26 236.59L663.01 239.69L659.51 239.69Z" fill="#8b9bd8" stroke="#15152a" stroke-width="0.5"/><path d="M658.22 192.33L659.97 195.43L656.47 195.43Z" fill="#8b9bd8" stroke="#15152a" stroke-width="0.5"/><path d="M659.09 237.34L660.84 240.44L657.34 240.44Z" fill="#8b9bd8" stroke="#15152a" stroke-width="0.5"/><path d="M657.57 235.23L659.32 238.33L655.82 238.33Z" fill="#8b9bd8" stroke="#15152a" stroke-width="0.5"/><path d="M661.31 188.39L663.06 191.49L659.56 191.49Z" fill="#8b9bd8" stroke="#15152a" stroke-width="0.5"/><path d="M659.23 200.37L660.98 203.47L657.48 203.47Z" fill="#8b9bd8" stroke="#15152a" stroke-width="0.5"/><path d="M659.32 205.24L661.07 208.34L657.57 208.34Z" fill="#8b9bd8" stroke="#15152a" stroke-width="0.5"/><path d="M661.31 234.07L663.06 237.17L659.56 237.17Z" fill="#8b9bd8" stroke="#15152a" stroke-width="0.5"/><path d="M657.59 231.22L659.34 234.32L655.84 234.32Z" fill="#8b9bd8" stroke="#15152a" stroke-width="0.5"/><path d="M656.3 228.4L658.05 231.5L654.55 231.5Z" fill="#8b9bd8" stroke="#15152a" stroke-width="0.5"/><path d="M661.3 208.04L663.05 211.14L659.55 211.14Z" fill="#8b9bd8" stroke="#15152a" stroke-width="0.5"/><path d="M658.18 199.91L659.93 203.01L656.43 203.01Z" fill="#8b9bd8" stroke="#15152a" stroke-width="0.5"/><path d="M657.48 216.36L659.23 219.46L655.73 219.46Z" fill="#8b9bd8" stroke="#15152a" stroke-width="0.5"/><path d="M659.72 222.73L661.47 225.83L657.97 225.83Z" fill="#8b9bd8" stroke="#15152a" stroke-width="0.5"/><path d="M661.17 191.88L662.92 194.98L659.42 194.98Z" fill="#8b9bd8" stroke="#15152a" stroke-width="0.5"/><path d="M659.96 190.7L661.71 193.8L658.21 193.8Z" fill="#8b9bd8" stroke="#15152a" stroke-width="0.5"/><path d="M656.98 204.62L658.73 207.72L655.23 207.72Z" fill="#8b9bd8" stroke="#15152a" stroke-width="0.5"/><path d="M661.59 191.02L663.34 194.12L659.84 194.12Z" fill="#8b9bd8" stroke="#15152a" stroke-width="0.5"/><path d="M658.68 227.32L660.43 230.42L656.93 230.42Z" fill="#8b9bd8" stroke="#15152a" stroke-width="0.5"/><path d="M661.44 227.07L663.19 230.17L659.69 230.17Z" fill="#8b9bd8" stroke="#15152a" stroke-width="0.5"/><path d="M659.08 233.7L660.83 236.8L657.33 236.8Z" fill="#8b9bd8" stroke="#15152a" stroke-width="0.5"/><path d="M659 200.93L660.75 204.03L657.25 204.03Z" fill="#8b9bd8" stroke="#15152a" stroke-width="0.5"/><path d="M660.14 236.46L661.89 239.56L658.39 239.56Z" fill="#8b9bd8" stroke="#15152a" stroke-width="0.5"/><path d="M660.75 220.79L662.5 223.89L659 223.89Z" fill="#8b9bd8" stroke="#15152a" stroke-width="0.5"/><path d="M659.22 207.67L660.97 210.77L657.47 210.77Z" fill="#8b9bd8" stroke="#15152a" stroke-width="0.5"/><path d="M657.28 229.79L659.03 232.89L655.53 232.89Z" fill="#8b9bd8" stroke="#15152a" stroke-width="0.5"/><path d="M656.33 230.3L658.08 233.4L654.58 233.4Z" fill="#8b9bd8" stroke="#15152a" stroke-width="0.5"/><path d="M659.3 214.11L661.05 217.21L657.55 217.21Z" fill="#8b9bd8" stroke="#15152a" stroke-width="0.5"/><path d="M661.18 194.46L662.93 197.56L659.43 197.56Z" fill="#8b9bd8" stroke="#15152a" stroke-width="0.5"/><path d="M657.2 209.2L658.95 212.3L655.45 212.3Z" fill="#8b9bd8" stroke="#15152a" stroke-width="0.5"/><path d="M659.39 207.8L661.14 210.9L657.64 210.9Z" fill="#8b9bd8" stroke="#15152a" stroke-width="0.5"/><path d="M656.22 208.68L657.97 211.78L654.47 211.78Z" fill="#8b9bd8" stroke="#15152a" stroke-width="0.5"/><path d="M660.05 191.75L661.8 194.85L658.3 194.85Z" fill="#8b9bd8" stroke="#15152a" stroke-width="0.5"/><path d="M657.58 193.73L659.33 196.83L655.83 196.83Z" fill="#8b9bd8" stroke="#15152a" stroke-width="0.5"/><path d="M660.85 227.72L662.6 230.82L659.1 230.82Z" fill="#8b9bd8" stroke="#15152a" stroke-width="0.5"/><path d="M657.14 231.44L658.89 234.54L655.39 234.54Z" fill="#8b9bd8" stroke="#15152a" stroke-width="0.5"/><path d="M660.27 187.36L662.02 190.46L658.52 190.46Z" fill="#8b9bd8" stroke="#15152a" stroke-width="0.5"/><path d="M658.17 217.23L659.92 220.33L656.42 220.33Z" fill="#8b9bd8" stroke="#15152a" stroke-width="0.5"/><path d="M658.53 188.03L660.28 191.13L656.78 191.13Z" fill="#8b9bd8" stroke="#15152a" stroke-width="0.5"/><path d="M659.38 199.03L661.13 202.13L657.63 202.13Z" fill="#8b9bd8" stroke="#15152a" stroke-width="0.5"/><path d="M657.33 236.43L659.08 239.53L655.58 239.53Z" fill="#8b9bd8" stroke="#15152a" stroke-width="0.5"/><path d="M659.95 190.87L661.7 193.97L658.2 193.97Z" fill="#8b9bd8" stroke="#15152a" stroke-width="0.5"/><path d="M657.4 192.52L659.15 195.62L655.65 195.62Z" fill="#8b9bd8" stroke="#15152a" stroke-width="0.5"/><path d="M661.52 209.19L663.27 212.29L659.77 212.29Z" fill="#8b9bd8" stroke="#15152a" stroke-width="0.5"/><path d="M657.91 203.41L659.66 206.51L656.16 206.51Z" fill="#8b9bd8" stroke="#15152a" stroke-width="0.5"/><path d="M657.08 211L658.83 214.1L655.33 214.1Z" fill="#8b9bd8" stroke="#15152a" stroke-width="0.5"/><path d="M659.98 207.34L661.73 210.44L658.23 210.44Z" fill="#8b9bd8" stroke="#15152a" stroke-width="0.5"/><path d="M660.5 203.4L662.25 206.5L658.75 206.5Z" fill="#8b9bd8" stroke="#15152a" stroke-width="0.5"/><path d="M656.75 196.37L658.5 199.47L655 199.47Z" fill="#8b9bd8" stroke="#15152a" stroke-width="0.5"/><path d="M658.65 218.65L660.4 221.75L656.9 221.75Z" fill="#8b9bd8" stroke="#15152a" stroke-width="0.5"/><path d="M656.77 233.28L658.52 236.38L655.02 236.38Z" fill="#8b9bd8" stroke="#15152a" stroke-width="0.5"/><path d="M659.82 224.64L661.57 227.74L658.07 227.74Z" fill="#8b9bd8" stroke="#15152a" stroke-width="0.5"/><path d="M656.89 205.73L658.64 208.83L655.14 208.83Z" fill="#8b9bd8" stroke="#15152a" stroke-width="0.5"/><path d="M660.29 217.88L662.04 220.98L658.54 220.98Z" fill="#8b9bd8" stroke="#15152a" stroke-width="0.5"/><path d="M658.75 210.87L660.5 213.97L657 213.97Z" fill="#8b9bd8" stroke="#15152a" stroke-width="0.5"/><path d="M659.49 221.59L661.24 224.69L657.74 224.69Z" fill="#8b9bd8" stroke="#15152a" stroke-width="0.5"/><path d="M657.2 208.39L658.95 211.49L655.45 211.49Z" fill="#8b9bd8" stroke="#15152a" stroke-width="0.5"/><path d="M659.17 210.42L660.92 213.52L657.42 213.52Z" fill="#8b9bd8" stroke="#15152a" stroke-width="0.5"/><path d="M661.57 232.19L663.32 235.29L659.82 235.29Z" fill="#8b9bd8" stroke="#15152a" stroke-width="0.5"/><path d="M657.97 215.11L659.72 218.21L656.22 218.21Z" fill="#8b9bd8" stroke="#15152a" stroke-width="0.5"/><path d="M659.6 198.3L661.35 201.4L657.85 201.4Z" fill="#8b9bd8" stroke="#15152a" stroke-width="0.5"/><path d="M657.54 224.24L659.29 227.34L655.79 227.34Z" fill="#8b9bd8" stroke="#15152a" stroke-width="0.5"/><path d="M661.6 221.82L663.35 224.92L659.85 224.92Z" fill="#8b9bd8" stroke="#15152a" stroke-width="0.5"/><path d="M661.27 206.79L663.02 209.89L659.52 209.89Z" fill="#8b9bd8" stroke="#15152a" stroke-width="0.5"/><path d="M659.72 209.06L661.47 212.16L657.97 212.16Z" fill="#8b9bd8" stroke="#15152a" stroke-width="0.5"/><path d="M657.3 230.69L659.05 233.79L655.55 233.79Z" fill="#8b9bd8" stroke="#15152a" stroke-width="0.5"/><path d="M661.51 204.48L663.26 207.58L659.76 207.58Z" fill="#8b9bd8" stroke="#15152a" stroke-width="0.5"/><path d="M657.85 190.38L659.6 193.48L656.1 193.48Z" fill="#8b9bd8" stroke="#15152a" stroke-width="0.5"/><path d="M660.22 211.07L661.97 214.17L658.47 214.17Z" fill="#8b9bd8" stroke="#15152a" stroke-width="0.5"/><path d="M661.22 218.82L662.97 221.92L659.47 221.92Z" fill="#8b9bd8" stroke="#15152a" stroke-width="0.5"/><path d="M656.21 220.78L657.96 223.88L654.46 223.88Z" fill="#8b9bd8" stroke="#15152a" stroke-width="0.5"/><path d="M656.4 190.69L658.15 193.79L654.65 193.79Z" fill="#8b9bd8" stroke="#15152a" stroke-width="0.5"/><path d="M656.35 208.81L658.1 211.91L654.6 211.91Z" fill="#8b9bd8" stroke="#15152a" stroke-width="0.5"/><path d="M659.62 213.56L661.37 216.66L657.87 216.66Z" fill="#8b9bd8" stroke="#15152a" stroke-width="0.5"/><path d="M660.82 197.27L662.57 200.37L659.07 200.37Z" fill="#8b9bd8" stroke="#15152a" stroke-width="0.5"/><path d="M661.38 207.9L663.13 211L659.63 211Z" fill="#8b9bd8" stroke="#15152a" stroke-width="0.5"/><path d="M659.55 205.1L661.3 208.2L657.8 208.2Z" fill="#8b9bd8" stroke="#15152a" stroke-width="0.5"/>
<path d="M657.1 240.8h3.8M659 238.9v3.8" stroke="#000" stroke-width="0.75"/>
<path d="M657.6 243h3.8M659.5 241.1v3.8" stroke="#000" stroke-width="0.75"/>
<line x1="564.1" y1="299.3" x2="564.1" y2="313.3" stroke="#111" stroke-width="1"/><rect x="562.3" y="304.6" width="3.1" height="2.6" fill="#1a1a1a" stroke="#333" stroke-width="0.5"/><line x1="562.3" y1="306" x2="565.4" y2="306" stroke="#111" stroke-width="1.4"/>
<rect x="566.98" y="305.22" width="2.6" height="2.6" fill="#8de3c6" stroke="#111" stroke-width="0.55"/><rect x="565.33" y="309.63" width="2.6" height="2.6" fill="#8de3c6" stroke="#111" stroke-width="0.55"/><rect x="567.35" y="299.82" width="2.6" height="2.6" fill="#8de3c6" stroke="#111" stroke-width="0.55"/><rect x="568.5" y="311.52" width="2.6" height="2.6" fill="#8de3c6" stroke="#111" stroke-width="0.55"/><rect x="567.21" y="295.88" width="2.6" height="2.6" fill="#8de3c6" stroke="#111" stroke-width="0.55"/><rect x="570.48" y="306.48" width="2.6" height="2.6" fill="#8de3c6" stroke="#111" stroke-width="0.55"/><rect x="570.29" y="297.22" width="2.6" height="2.6" fill="#8de3c6" stroke="#111" stroke-width="0.55"/><rect x="568.65" y="302.43" width="2.6" height="2.6" fill="#8de3c6" stroke="#111" stroke-width="0.55"/><rect x="568.11" y="302.99" width="2.6" height="2.6" fill="#8de3c6" stroke="#111" stroke-width="0.55"/><rect x="571.18" y="313.52" width="2.6" height="2.6" fill="#8de3c6" stroke="#111" stroke-width="0.55"/><rect x="570.01" y="312.18" width="2.6" height="2.6" fill="#8de3c6" stroke="#111" stroke-width="0.55"/><rect x="566.21" y="308.15" width="2.6" height="2.6" fill="#8de3c6" stroke="#111" stroke-width="0.55"/><rect x="570.62" y="295.85" width="2.6" height="2.6" fill="#8de3c6" stroke="#111" stroke-width="0.55"/><rect x="569.34" y="307.65" width="2.6" height="2.6" fill="#8de3c6" stroke="#111" stroke-width="0.55"/><rect x="567.01" y="300.99" width="2.6" height="2.6" fill="#8de3c6" stroke="#111" stroke-width="0.55"/><rect x="568.71" y="312.24" width="2.6" height="2.6" fill="#8de3c6" stroke="#111" stroke-width="0.55"/>
<circle cx="568.78" cy="296.87" r="1.4" fill="#8de3c6" stroke="#111" stroke-width="0.55"/><circle cx="567.03" cy="302.95" r="1.4" fill="#8de3c6" stroke="#111" stroke-width="0.55"/><circle cx="572.38" cy="314.59" r="1.4" fill="#8de3c6" stroke="#111" stroke-width="0.55"/><circle cx="566.63" cy="311.57" r="1.4" fill="#8de3c6" stroke="#111" stroke-width="0.55"/><circle cx="567.31" cy="304.22" r="1.4" fill="#8de3c6" stroke="#111" stroke-width="0.55"/><circle cx="571.78" cy="309.93" r="1.4" fill="#8de3c6" stroke="#111" stroke-width="0.55"/><circle cx="571.67" cy="311.1" r="1.4" fill="#8de3c6" stroke="#111" stroke-width="0.55"/><circle cx="566.69" cy="298.74" r="1.4" fill="#8de3c6" stroke="#111" stroke-width="0.55"/><circle cx="571.99" cy="298.22" r="1.4" fill="#8de3c6" stroke="#111" stroke-width="0.55"/><circle cx="569.9" cy="311.84" r="1.4" fill="#8de3c6" stroke="#111" stroke-width="0.55"/><circle cx="572.08" cy="300.84" r="1.4" fill="#8de3c6" stroke="#111" stroke-width="0.55"/><circle cx="568.68" cy="298.73" r="1.4" fill="#8de3c6" stroke="#111" stroke-width="0.55"/><circle cx="572.89" cy="296.54" r="1.4" fill="#8de3c6" stroke="#111" stroke-width="0.55"/><circle cx="571.54" cy="304.18" r="1.4" fill="#8de3c6" stroke="#111" stroke-width="0.55"/><circle cx="570.32" cy="311.33" r="1.4" fill="#8de3c6" stroke="#111" stroke-width="0.55"/><circle cx="571.56" cy="314.76" r="1.4" fill="#8de3c6" stroke="#111" stroke-width="0.55"/>
<path d="M565.88 317.63h3.8M567.78 315.73v3.8" stroke="#000" stroke-width="0.75"/><path d="M571.22 325.39h3.8M573.12 323.49v3.8" stroke="#000" stroke-width="0.75"/><path d="M565.2 316.93h3.8M567.1 315.03v3.8" stroke="#000" stroke-width="0.75"/><path d="M569.67 337.46h3.8M571.57 335.56v3.8" stroke="#000" stroke-width="0.75"/><path d="M569.51 325.77h3.8M571.41 323.87v3.8" stroke="#000" stroke-width="0.75"/><path d="M569.46 324.9h3.8M571.36 323v3.8" stroke="#000" stroke-width="0.75"/><path d="M568.27 333.34h3.8M570.17 331.44v3.8" stroke="#000" stroke-width="0.75"/><path d="M566.48 317.46h3.8M568.38 315.56v3.8" stroke="#000" stroke-width="0.75"/><path d="M569.32 318.95h3.8M571.22 317.05v3.8" stroke="#000" stroke-width="0.75"/><path d="M570.08 321.59h3.8M571.98 319.69v3.8" stroke="#000" stroke-width="0.75"/><path d="M568.25 334.81h3.8M570.15 332.91v3.8" stroke="#000" stroke-width="0.75"/><path d="M565.34 327.63h3.8M567.24 325.73v3.8" stroke="#000" stroke-width="0.75"/><path d="M566.15 344.85h3.8M568.05 342.95v3.8" stroke="#000" stroke-width="0.75"/><path d="M566.42 331.3h3.8M568.32 329.4v3.8" stroke="#000" stroke-width="0.75"/><path d="M570.67 332.28h3.8M572.57 330.38v3.8" stroke="#000" stroke-width="0.75"/><path d="M568.4 333.48h3.8M570.3 331.58v3.8" stroke="#000" stroke-width="0.75"/><path d="M564.3 340.13h3.8M566.2 338.23v3.8" stroke="#000" stroke-width="0.75"/><path d="M565.86 319.05h3.8M567.76 317.15v3.8" stroke="#000" stroke-width="0.75"/><path d="M564.44 336.06h3.8M566.34 334.16v3.8" stroke="#000" stroke-width="0.75"/><path d="M566.11 330.81h3.8M568.01 328.91v3.8" stroke="#000" stroke-width="0.75"/><path d="M564.32 327.23h3.8M566.22 325.33v3.8" stroke="#000" stroke-width="0.75"/><path d="M566.57 323.32h3.8M568.47 321.42v3.8" stroke="#000" stroke-width="0.75"/><path d="M566.57 328.26h3.8M568.47 326.36v3.8" stroke="#000" stroke-width="0.75"/><path d="M569.47 315.61h3.8M571.37 313.71v3.8" stroke="#000" stroke-width="0.75"/><path d="M565.93 330.77h3.8M567.83 328.87v3.8" stroke="#000" stroke-width="0.75"/><path d="M570.54 321.57h3.8M572.44 319.67v3.8" stroke="#000" stroke-width="0.75"/><path d="M568.23 318.91h3.8M570.13 317.01v3.8" stroke="#000" stroke-width="0.75"/><path d="M568.63 318.75h3.8M570.53 316.85v3.8" stroke="#000" stroke-width="0.75"/><path d="M564.78 334.85h3.8M566.68 332.95v3.8" stroke="#000" stroke-width="0.75"/><path d="M570.35 315.52h3.8M572.25 313.62v3.8" stroke="#000" stroke-width="0.75"/><path d="M569.69 343.96h3.8M571.59 342.06v3.8" stroke="#000" stroke-width="0.75"/><path d="M565.7 320.5h3.8M567.6 318.6v3.8" stroke="#000" stroke-width="0.75"/><path d="M570.85 341.64h3.8M572.75 339.74v3.8" stroke="#000" stroke-width="0.75"/><path d="M569.01 323.32h3.8M570.91 321.42v3.8" stroke="#000" stroke-width="0.75"/><path d="M565 322.48h3.8M566.9 320.58v3.8" stroke="#000" stroke-width="0.75"/><path d="M565.25 340.49h3.8M567.15 338.59v3.8" stroke="#000" stroke-width="0.75"/><path d="M568.76 323.89h3.8M570.66 321.99v3.8" stroke="#000" stroke-width="0.75"/><path d="M568.04 339.08h3.8M569.94 337.18v3.8" stroke="#000" stroke-width="0.75"/><path d="M565.33 320.42h3.8M567.23 318.52v3.8" stroke="#000" stroke-width="0.75"/><path d="M570.51 317.46h3.8M572.41 315.56v3.8" stroke="#000" stroke-width="0.75"/><path d="M565.83 336h3.8M567.73 334.1v3.8" stroke="#000" stroke-width="0.75"/><path d="M564.49 333.93h3.8M566.39 332.03v3.8" stroke="#000" stroke-width="0.75"/><path d="M568.51 318.01h3.8M570.41 316.11v3.8" stroke="#000" stroke-width="0.75"/><path d="M565.98 317.57h3.8M567.88 315.67v3.8" stroke="#000" stroke-width="0.75"/><path d="M566.68 333.86h3.8M568.58 331.96v3.8" stroke="#000" stroke-width="0.75"/><path d="M570.18 328.54h3.8M572.08 326.64v3.8" stroke="#000" stroke-width="0.75"/><path d="M568.77 332.24h3.8M570.67 330.34v3.8" stroke="#000" stroke-width="0.75"/><path d="M568.28 339.32h3.8M570.18 337.42v3.8" stroke="#000" stroke-width="0.75"/>
<path d="M565.6 336h3.8M567.5 334.1v3.8" stroke="#000" stroke-width="0.75"/>
<path d="M566.6 338.5h3.8M568.5 336.6v3.8" stroke="#000" stroke-width="0.75"/>
<path d="M565.6 340h3.8M567.5 338.1v3.8" stroke="#000" stroke-width="0.75"/>
<path d="M565.1 348h3.8M567 346.1v3.8" stroke="#000" stroke-width="0.75"/>
<path d="M565.6 350h3.8M567.5 348.1v3.8" stroke="#000" stroke-width="0.75"/>
<path d="M567.1 352h3.8M569 350.1v3.8" stroke="#000" stroke-width="0.75"/>
<path d="M566.1 354h3.8M568 352.1v3.8" stroke="#000" stroke-width="0.75"/>
<path d="M567.6 361h3.8M569.5 359.1v3.8" stroke="#000" stroke-width="0.75"/>
<path d="M568.6 357.5h3.8M570.5 355.6v3.8" stroke="#000" stroke-width="0.75"/>
<line x1="608.9" y1="305.1" x2="608.9" y2="349.9" stroke="#111" stroke-width="1"/><rect x="606.3" y="313.3" width="4.5" height="15.3" fill="#f26b61" stroke="#333" stroke-width="0.5"/><line x1="606.3" y1="319.1" x2="610.8" y2="319.1" stroke="#111" stroke-width="1.4"/>
<rect x="611.92" y="303.57" width="2.6" height="2.6" fill="#f26b61" stroke="#1a1a1a" stroke-width="0.55"/><rect x="611.87" y="304.87" width="2.6" height="2.6" fill="#f26b61" stroke="#1a1a1a" stroke-width="0.55"/><rect x="613.05" y="304.6" width="2.6" height="2.6" fill="#f26b61" stroke="#1a1a1a" stroke-width="0.55"/>
<rect x="614.23" y="324.06" width="2.6" height="2.6" fill="#f26b61" stroke="#1a1a1a" stroke-width="0.55"/><rect x="615.65" y="336.87" width="2.6" height="2.6" fill="#f26b61" stroke="#1a1a1a" stroke-width="0.55"/><rect x="614.7" y="348.65" width="2.6" height="2.6" fill="#f26b61" stroke="#1a1a1a" stroke-width="0.55"/><rect x="614.05" y="317.05" width="2.6" height="2.6" fill="#f26b61" stroke="#1a1a1a" stroke-width="0.55"/><rect x="615.4" y="327.01" width="2.6" height="2.6" fill="#f26b61" stroke="#1a1a1a" stroke-width="0.55"/><rect x="612.49" y="324.92" width="2.6" height="2.6" fill="#f26b61" stroke="#1a1a1a" stroke-width="0.55"/><rect x="613.05" y="306.81" width="2.6" height="2.6" fill="#f26b61" stroke="#1a1a1a" stroke-width="0.55"/><rect x="612.24" y="328.6" width="2.6" height="2.6" fill="#f26b61" stroke="#1a1a1a" stroke-width="0.55"/><rect x="613.12" y="310.23" width="2.6" height="2.6" fill="#f26b61" stroke="#1a1a1a" stroke-width="0.55"/><rect x="611.56" y="308.73" width="2.6" height="2.6" fill="#f26b61" stroke="#1a1a1a" stroke-width="0.55"/><rect x="612.44" y="324.79" width="2.6" height="2.6" fill="#f26b61" stroke="#1a1a1a" stroke-width="0.55"/><rect x="613.35" y="327.2" width="2.6" height="2.6" fill="#f26b61" stroke="#1a1a1a" stroke-width="0.55"/><rect x="611.37" y="322.41" width="2.6" height="2.6" fill="#f26b61" stroke="#1a1a1a" stroke-width="0.55"/><rect x="613.5" y="306.49" width="2.6" height="2.6" fill="#f26b61" stroke="#1a1a1a" stroke-width="0.55"/><rect x="612.11" y="347.42" width="2.6" height="2.6" fill="#f26b61" stroke="#1a1a1a" stroke-width="0.55"/><rect x="612.3" y="320.83" width="2.6" height="2.6" fill="#f26b61" stroke="#1a1a1a" stroke-width="0.55"/><rect x="613.17" y="337.63" width="2.6" height="2.6" fill="#f26b61" stroke="#1a1a1a" stroke-width="0.55"/><rect x="610.73" y="339.93" width="2.6" height="2.6" fill="#f26b61" stroke="#1a1a1a" stroke-width="0.55"/><rect x="611.73" y="311.4" width="2.6" height="2.6" fill="#f26b61" stroke="#1a1a1a" stroke-width="0.55"/><rect x="612.7" y="321.56" width="2.6" height="2.6" fill="#f26b61" stroke="#1a1a1a" stroke-width="0.55"/><rect x="615.53" y="322.27" width="2.6" height="2.6" fill="#f26b61" stroke="#1a1a1a" stroke-width="0.55"/><rect x="613.58" y="324.59" width="2.6" height="2.6" fill="#f26b61" stroke="#1a1a1a" stroke-width="0.55"/><rect x="613.91" y="347.13" width="2.6" height="2.6" fill="#f26b61" stroke="#1a1a1a" stroke-width="0.55"/><rect x="614.84" y="331.27" width="2.6" height="2.6" fill="#f26b61" stroke="#1a1a1a" stroke-width="0.55"/><rect x="610.88" y="320.08" width="2.6" height="2.6" fill="#f26b61" stroke="#1a1a1a" stroke-width="0.55"/><rect x="613.37" y="346.88" width="2.6" height="2.6" fill="#f26b61" stroke="#1a1a1a" stroke-width="0.55"/><rect x="611.03" y="330.73" width="2.6" height="2.6" fill="#f26b61" stroke="#1a1a1a" stroke-width="0.55"/><rect x="612.57" y="337.74" width="2.6" height="2.6" fill="#f26b61" stroke="#1a1a1a" stroke-width="0.55"/><rect x="612.12" y="333.35" width="2.6" height="2.6" fill="#f26b61" stroke="#1a1a1a" stroke-width="0.55"/><rect x="612.54" y="345.18" width="2.6" height="2.6" fill="#f26b61" stroke="#1a1a1a" stroke-width="0.55"/><rect x="615.17" y="317.55" width="2.6" height="2.6" fill="#f26b61" stroke="#1a1a1a" stroke-width="0.55"/><rect x="612.05" y="315.27" width="2.6" height="2.6" fill="#f26b61" stroke="#1a1a1a" stroke-width="0.55"/><rect x="615.6" y="326.64" width="2.6" height="2.6" fill="#f26b61" stroke="#1a1a1a" stroke-width="0.55"/><rect x="611.75" y="310.67" width="2.6" height="2.6" fill="#f26b61" stroke="#1a1a1a" stroke-width="0.55"/><rect x="611.08" y="339.92" width="2.6" height="2.6" fill="#f26b61" stroke="#1a1a1a" stroke-width="0.55"/><rect x="614.62" y="323.52" width="2.6" height="2.6" fill="#f26b61" stroke="#1a1a1a" stroke-width="0.55"/><rect x="614.67" y="336.35" width="2.6" height="2.6" fill="#f26b61" stroke="#1a1a1a" stroke-width="0.55"/><rect x="615.15" y="310.74" width="2.6" height="2.6" fill="#f26b61" stroke="#1a1a1a" stroke-width="0.55"/><rect x="614.77" y="321.05" width="2.6" height="2.6" fill="#f26b61" stroke="#1a1a1a" stroke-width="0.55"/><rect x="615.16" y="325.98" width="2.6" height="2.6" fill="#f26b61" stroke="#1a1a1a" stroke-width="0.55"/><rect x="611.99" y="326.25" width="2.6" height="2.6" fill="#f26b61" stroke="#1a1a1a" stroke-width="0.55"/><rect x="613.18" y="312.18" width="2.6" height="2.6" fill="#f26b61" stroke="#1a1a1a" stroke-width="0.55"/><rect x="611.52" y="307.84" width="2.6" height="2.6" fill="#f26b61" stroke="#1a1a1a" stroke-width="0.55"/><rect x="613.57" y="343.31" width="2.6" height="2.6" fill="#f26b61" stroke="#1a1a1a" stroke-width="0.55"/><rect x="611.45" y="342.82" width="2.6" height="2.6" fill="#f26b61" stroke="#1a1a1a" stroke-width="0.55"/><rect x="613.04" y="326.35" width="2.6" height="2.6" fill="#f26b61" stroke="#1a1a1a" stroke-width="0.55"/><rect x="612.02" y="310.34" width="2.6" height="2.6" fill="#f26b61" stroke="#1a1a1a" stroke-width="0.55"/><rect x="614.32" y="345.34" width="2.6" height="2.6" fill="#f26b61" stroke="#1a1a1a" stroke-width="0.55"/><rect x="613.75" y="327.59" width="2.6" height="2.6" fill="#f26b61" stroke="#1a1a1a" stroke-width="0.55"/><rect x="615.47" y="342.72" width="2.6" height="2.6" fill="#f26b61" stroke="#1a1a1a" stroke-width="0.55"/><rect x="610.95" y="331.27" width="2.6" height="2.6" fill="#f26b61" stroke="#1a1a1a" stroke-width="0.55"/><rect x="611.52" y="343.19" width="2.6" height="2.6" fill="#f26b61" stroke="#1a1a1a" stroke-width="0.55"/><rect x="611.39" y="316.03" width="2.6" height="2.6" fill="#f26b61" stroke="#1a1a1a" stroke-width="0.55"/><rect x="613.61" y="327.72" width="2.6" height="2.6" fill="#f26b61" stroke="#1a1a1a" stroke-width="0.55"/><rect x="613.05" y="325.49" width="2.6" height="2.6" fill="#f26b61" stroke="#1a1a1a" stroke-width="0.55"/><rect x="614.29" y="311.76" width="2.6" height="2.6" fill="#f26b61" stroke="#1a1a1a" stroke-width="0.55"/><rect x="612.24" y="328.81" width="2.6" height="2.6" fill="#f26b61" stroke="#1a1a1a" stroke-width="0.55"/><rect x="615.4" y="341.54" width="2.6" height="2.6" fill="#f26b61" stroke="#1a1a1a" stroke-width="0.55"/><rect x="615.62" y="345.36" width="2.6" height="2.6" fill="#f26b61" stroke="#1a1a1a" stroke-width="0.55"/><rect x="612.64" y="308.66" width="2.6" height="2.6" fill="#f26b61" stroke="#1a1a1a" stroke-width="0.55"/><rect x="611.98" y="325.05" width="2.6" height="2.6" fill="#f26b61" stroke="#1a1a1a" stroke-width="0.55"/><rect x="615.22" y="337.68" width="2.6" height="2.6" fill="#f26b61" stroke="#1a1a1a" stroke-width="0.55"/><rect x="613.23" y="311.66" width="2.6" height="2.6" fill="#f26b61" stroke="#1a1a1a" stroke-width="0.55"/><rect x="615.14" y="347.3" width="2.6" height="2.6" fill="#f26b61" stroke="#1a1a1a" stroke-width="0.55"/><rect x="611.22" y="325.08" width="2.6" height="2.6" fill="#f26b61" stroke="#1a1a1a" stroke-width="0.55"/><rect x="613.29" y="325.32" width="2.6" height="2.6" fill="#f26b61" stroke="#1a1a1a" stroke-width="0.55"/><rect x="611.63" y="339.49" width="2.6" height="2.6" fill="#f26b61" stroke="#1a1a1a" stroke-width="0.55"/><rect x="615.62" y="317.72" width="2.6" height="2.6" fill="#f26b61" stroke="#1a1a1a" stroke-width="0.55"/><rect x="613.76" y="306.2" width="2.6" height="2.6" fill="#f26b61" stroke="#1a1a1a" stroke-width="0.55"/><rect x="614.45" y="309.78" width="2.6" height="2.6" fill="#f26b61" stroke="#1a1a1a" stroke-width="0.55"/><rect x="615.33" y="323.91" width="2.6" height="2.6" fill="#f26b61" stroke="#1a1a1a" stroke-width="0.55"/><rect x="615.09" y="315.3" width="2.6" height="2.6" fill="#f26b61" stroke="#1a1a1a" stroke-width="0.55"/><rect x="610.94" y="315.49" width="2.6" height="2.6" fill="#f26b61" stroke="#1a1a1a" stroke-width="0.55"/><rect x="611.08" y="309.41" width="2.6" height="2.6" fill="#f26b61" stroke="#1a1a1a" stroke-width="0.55"/><rect x="615.56" y="322.41" width="2.6" height="2.6" fill="#f26b61" stroke="#1a1a1a" stroke-width="0.55"/><rect x="614.28" y="320.96" width="2.6" height="2.6" fill="#f26b61" stroke="#1a1a1a" stroke-width="0.55"/><rect x="613.28" y="307.17" width="2.6" height="2.6" fill="#f26b61" stroke="#1a1a1a" stroke-width="0.55"/><rect x="611.19" y="328.89" width="2.6" height="2.6" fill="#f26b61" stroke="#1a1a1a" stroke-width="0.55"/><rect x="612.93" y="330.63" width="2.6" height="2.6" fill="#f26b61" stroke="#1a1a1a" stroke-width="0.55"/><rect x="614.85" y="319.78" width="2.6" height="2.6" fill="#f26b61" stroke="#1a1a1a" stroke-width="0.55"/><rect x="611.3" y="335.43" width="2.6" height="2.6" fill="#f26b61" stroke="#1a1a1a" stroke-width="0.55"/><rect x="610.96" y="310.26" width="2.6" height="2.6" fill="#f26b61" stroke="#1a1a1a" stroke-width="0.55"/><rect x="613.88" y="317.03" width="2.6" height="2.6" fill="#f26b61" stroke="#1a1a1a" stroke-width="0.55"/><rect x="615.54" y="347.34" width="2.6" height="2.6" fill="#f26b61" stroke="#1a1a1a" stroke-width="0.55"/><rect x="611.32" y="342.87" width="2.6" height="2.6" fill="#f26b61" stroke="#1a1a1a" stroke-width="0.55"/><rect x="614.51" y="339.75" width="2.6" height="2.6" fill="#f26b61" stroke="#1a1a1a" stroke-width="0.55"/><rect x="615.68" y="326.03" width="2.6" height="2.6" fill="#f26b61" stroke="#1a1a1a" stroke-width="0.55"/><rect x="611.29" y="331.46" width="2.6" height="2.6" fill="#f26b61" stroke="#1a1a1a" stroke-width="0.55"/><rect x="611.35" y="314.98" width="2.6" height="2.6" fill="#f26b61" stroke="#1a1a1a" stroke-width="0.55"/><rect x="613.82" y="331.95" width="2.6" height="2.6" fill="#f26b61" stroke="#1a1a1a" stroke-width="0.55"/><rect x="610.75" y="342.58" width="2.6" height="2.6" fill="#f26b61" stroke="#1a1a1a" stroke-width="0.55"/><rect x="615.56" y="306.12" width="2.6" height="2.6" fill="#f26b61" stroke="#1a1a1a" stroke-width="0.55"/><rect x="612.02" y="316.97" width="2.6" height="2.6" fill="#f26b61" stroke="#1a1a1a" stroke-width="0.55"/><rect x="611.26" y="342.97" width="2.6" height="2.6" fill="#f26b61" stroke="#1a1a1a" stroke-width="0.55"/><rect x="615.18" y="339.79" width="2.6" height="2.6" fill="#f26b61" stroke="#1a1a1a" stroke-width="0.55"/><rect x="613.74" y="329.88" width="2.6" height="2.6" fill="#f26b61" stroke="#1a1a1a" stroke-width="0.55"/><rect x="613.73" y="305.95" width="2.6" height="2.6" fill="#f26b61" stroke="#1a1a1a" stroke-width="0.55"/><rect x="614.56" y="332.09" width="2.6" height="2.6" fill="#f26b61" stroke="#1a1a1a" stroke-width="0.55"/><rect x="611.27" y="327.94" width="2.6" height="2.6" fill="#f26b61" stroke="#1a1a1a" stroke-width="0.55"/><rect x="613.97" y="315.27" width="2.6" height="2.6" fill="#f26b61" stroke="#1a1a1a" stroke-width="0.55"/>
<path d="M610.9 353.5h3.8M612.8 351.6v3.8" stroke="#000" stroke-width="0.75"/>
<path d="M612.6 354.5h3.8M614.5 352.6v3.8" stroke="#000" stroke-width="0.75"/>
<path d="M614.3 353.8h3.8M616.2 351.9v3.8" stroke="#000" stroke-width="0.75"/>
<path d="M611.6 360.5h3.8M613.5 358.6v3.8" stroke="#000" stroke-width="0.75"/>
<path d="M613.3 361.2h3.8M615.2 359.3v3.8" stroke="#000" stroke-width="0.75"/>
<path d="M611.1 363.8h3.8M613 361.9v3.8" stroke="#000" stroke-width="0.75"/>
<path d="M612.9 364.5h3.8M614.8 362.6v3.8" stroke="#000" stroke-width="0.75"/>
<path d="M611.9 367h3.8M613.8 365.1v3.8" stroke="#000" stroke-width="0.75"/>
<path d="M613.6 368.3h3.8M615.5 366.4v3.8" stroke="#000" stroke-width="0.75"/>
<path d="M614.6 367.2h3.8M616.5 365.3v3.8" stroke="#000" stroke-width="0.75"/>
<path d="M612.6 378h3.8M614.5 376.1v3.8" stroke="#000" stroke-width="0.75"/>
<path d="M613.7 380.8h3.8M615.6 378.9v3.8" stroke="#000" stroke-width="0.75"/>
<path d="M611.6 381.2h3.8M613.5 379.3v3.8" stroke="#000" stroke-width="0.75"/>
<line x1="653.4" y1="307" x2="653.4" y2="347.3" stroke="#111" stroke-width="1"/><rect x="651.2" y="312.7" width="3.9" height="15.3" fill="#8b9bd8" stroke="#333" stroke-width="0.5"/><line x1="651.2" y1="320.4" x2="655.1" y2="320.4" stroke="#111" stroke-width="1.4"/>
<path d="M656.6 306.66L658.35 309.76L654.85 309.76Z" fill="#8b9bd8" stroke="#15152a" stroke-width="0.5"/><path d="M660.46 314.11L662.21 317.21L658.71 317.21Z" fill="#8b9bd8" stroke="#15152a" stroke-width="0.5"/><path d="M658 326.97L659.75 330.07L656.25 330.07Z" fill="#8b9bd8" stroke="#15152a" stroke-width="0.5"/><path d="M659.25 345.13L661 348.23L657.5 348.23Z" fill="#8b9bd8" stroke="#15152a" stroke-width="0.5"/><path d="M659.17 313.58L660.92 316.68L657.42 316.68Z" fill="#8b9bd8" stroke="#15152a" stroke-width="0.5"/><path d="M658.06 340.41L659.81 343.51L656.31 343.51Z" fill="#8b9bd8" stroke="#15152a" stroke-width="0.5"/><path d="M659.23 322.1L660.98 325.2L657.48 325.2Z" fill="#8b9bd8" stroke="#15152a" stroke-width="0.5"/><path d="M659.58 346.14L661.33 349.24L657.83 349.24Z" fill="#8b9bd8" stroke="#15152a" stroke-width="0.5"/><path d="M659.26 311.08L661.01 314.18L657.51 314.18Z" fill="#8b9bd8" stroke="#15152a" stroke-width="0.5"/><path d="M658.65 317.18L660.4 320.28L656.9 320.28Z" fill="#8b9bd8" stroke="#15152a" stroke-width="0.5"/><path d="M656.11 334.21L657.86 337.31L654.36 337.31Z" fill="#8b9bd8" stroke="#15152a" stroke-width="0.5"/><path d="M657.76 325.28L659.51 328.38L656.01 328.38Z" fill="#8b9bd8" stroke="#15152a" stroke-width="0.5"/><path d="M660.6 329.26L662.35 332.36L658.85 332.36Z" fill="#8b9bd8" stroke="#15152a" stroke-width="0.5"/><path d="M659.53 323.53L661.28 326.63L657.78 326.63Z" fill="#8b9bd8" stroke="#15152a" stroke-width="0.5"/><path d="M657.43 315.76L659.18 318.86L655.68 318.86Z" fill="#8b9bd8" stroke="#15152a" stroke-width="0.5"/><path d="M658.98 325.39L660.73 328.49L657.23 328.49Z" fill="#8b9bd8" stroke="#15152a" stroke-width="0.5"/><path d="M660.28 312.92L662.03 316.02L658.53 316.02Z" fill="#8b9bd8" stroke="#15152a" stroke-width="0.5"/><path d="M657.99 324.93L659.74 328.03L656.24 328.03Z" fill="#8b9bd8" stroke="#15152a" stroke-width="0.5"/><path d="M660.69 314.23L662.44 317.33L658.94 317.33Z" fill="#8b9bd8" stroke="#15152a" stroke-width="0.5"/><path d="M661.25 342.44L663 345.54L659.5 345.54Z" fill="#8b9bd8" stroke="#15152a" stroke-width="0.5"/><path d="M656.4 313.99L658.15 317.09L654.65 317.09Z" fill="#8b9bd8" stroke="#15152a" stroke-width="0.5"/><path d="M656.14 330.67L657.89 333.77L654.39 333.77Z" fill="#8b9bd8" stroke="#15152a" stroke-width="0.5"/><path d="M659.8 340.45L661.55 343.55L658.05 343.55Z" fill="#8b9bd8" stroke="#15152a" stroke-width="0.5"/><path d="M658.47 317.86L660.22 320.96L656.72 320.96Z" fill="#8b9bd8" stroke="#15152a" stroke-width="0.5"/><path d="M656.9 332.91L658.65 336.01L655.15 336.01Z" fill="#8b9bd8" stroke="#15152a" stroke-width="0.5"/><path d="M660.41 319.08L662.16 322.18L658.66 322.18Z" fill="#8b9bd8" stroke="#15152a" stroke-width="0.5"/><path d="M659.28 332.81L661.03 335.91L657.53 335.91Z" fill="#8b9bd8" stroke="#15152a" stroke-width="0.5"/><path d="M657.22 307.69L658.97 310.79L655.47 310.79Z" fill="#8b9bd8" stroke="#15152a" stroke-width="0.5"/><path d="M656.18 314.36L657.93 317.46L654.43 317.46Z" fill="#8b9bd8" stroke="#15152a" stroke-width="0.5"/><path d="M659.21 331.04L660.96 334.14L657.46 334.14Z" fill="#8b9bd8" stroke="#15152a" stroke-width="0.5"/><path d="M659.1 343.41L660.85 346.51L657.35 346.51Z" fill="#8b9bd8" stroke="#15152a" stroke-width="0.5"/><path d="M658.63 343.15L660.38 346.25L656.88 346.25Z" fill="#8b9bd8" stroke="#15152a" stroke-width="0.5"/><path d="M657.58 325.71L659.33 328.81L655.83 328.81Z" fill="#8b9bd8" stroke="#15152a" stroke-width="0.5"/><path d="M661.25 323.4L663 326.5L659.5 326.5Z" fill="#8b9bd8" stroke="#15152a" stroke-width="0.5"/><path d="M656.01 324.42L657.76 327.52L654.26 327.52Z" fill="#8b9bd8" stroke="#15152a" stroke-width="0.5"/><path d="M657.11 318.59L658.86 321.69L655.36 321.69Z" fill="#8b9bd8" stroke="#15152a" stroke-width="0.5"/><path d="M658.85 330.32L660.6 333.42L657.1 333.42Z" fill="#8b9bd8" stroke="#15152a" stroke-width="0.5"/><path d="M661.19 323.89L662.94 326.99L659.44 326.99Z" fill="#8b9bd8" stroke="#15152a" stroke-width="0.5"/><path d="M656.49 336.37L658.24 339.47L654.74 339.47Z" fill="#8b9bd8" stroke="#15152a" stroke-width="0.5"/><path d="M659.92 304.53L661.67 307.63L658.17 307.63Z" fill="#8b9bd8" stroke="#15152a" stroke-width="0.5"/><path d="M659.65 329.16L661.4 332.26L657.9 332.26Z" fill="#8b9bd8" stroke="#15152a" stroke-width="0.5"/><path d="M656.2 324.97L657.95 328.07L654.45 328.07Z" fill="#8b9bd8" stroke="#15152a" stroke-width="0.5"/><path d="M660.68 322.85L662.43 325.95L658.93 325.95Z" fill="#8b9bd8" stroke="#15152a" stroke-width="0.5"/><path d="M656.25 329.38L658 332.48L654.5 332.48Z" fill="#8b9bd8" stroke="#15152a" stroke-width="0.5"/><path d="M661.07 308.61L662.82 311.71L659.32 311.71Z" fill="#8b9bd8" stroke="#15152a" stroke-width="0.5"/><path d="M656.92 326.9L658.67 330L655.17 330Z" fill="#8b9bd8" stroke="#15152a" stroke-width="0.5"/><path d="M661.18 333.94L662.93 337.04L659.43 337.04Z" fill="#8b9bd8" stroke="#15152a" stroke-width="0.5"/><path d="M659.61 340.83L661.36 343.93L657.86 343.93Z" fill="#8b9bd8" stroke="#15152a" stroke-width="0.5"/><path d="M656.49 338.31L658.24 341.41L654.74 341.41Z" fill="#8b9bd8" stroke="#15152a" stroke-width="0.5"/><path d="M660.54 323.36L662.29 326.46L658.79 326.46Z" fill="#8b9bd8" stroke="#15152a" stroke-width="0.5"/><path d="M656.81 318.05L658.56 321.15L655.06 321.15Z" fill="#8b9bd8" stroke="#15152a" stroke-width="0.5"/><path d="M659.95 340.86L661.7 343.96L658.2 343.96Z" fill="#8b9bd8" stroke="#15152a" stroke-width="0.5"/><path d="M656.36 303.52L658.11 306.62L654.61 306.62Z" fill="#8b9bd8" stroke="#15152a" stroke-width="0.5"/><path d="M661.34 327.44L663.09 330.54L659.59 330.54Z" fill="#8b9bd8" stroke="#15152a" stroke-width="0.5"/><path d="M660.91 330.07L662.66 333.17L659.16 333.17Z" fill="#8b9bd8" stroke="#15152a" stroke-width="0.5"/><path d="M659.23 307.77L660.98 310.87L657.48 310.87Z" fill="#8b9bd8" stroke="#15152a" stroke-width="0.5"/><path d="M657.86 311.1L659.61 314.2L656.11 314.2Z" fill="#8b9bd8" stroke="#15152a" stroke-width="0.5"/><path d="M658.6 309.69L660.35 312.79L656.85 312.79Z" fill="#8b9bd8" stroke="#15152a" stroke-width="0.5"/><path d="M659.68 305.21L661.43 308.31L657.93 308.31Z" fill="#8b9bd8" stroke="#15152a" stroke-width="0.5"/><path d="M661.07 331.32L662.82 334.42L659.32 334.42Z" fill="#8b9bd8" stroke="#15152a" stroke-width="0.5"/><path d="M656.42 336.61L658.17 339.71L654.67 339.71Z" fill="#8b9bd8" stroke="#15152a" stroke-width="0.5"/><path d="M659.04 341L660.79 344.1L657.29 344.1Z" fill="#8b9bd8" stroke="#15152a" stroke-width="0.5"/><path d="M658.76 343.92L660.51 347.02L657.01 347.02Z" fill="#8b9bd8" stroke="#15152a" stroke-width="0.5"/><path d="M659.94 306.74L661.69 309.84L658.19 309.84Z" fill="#8b9bd8" stroke="#15152a" stroke-width="0.5"/><path d="M661.51 310.74L663.26 313.84L659.76 313.84Z" fill="#8b9bd8" stroke="#15152a" stroke-width="0.5"/><path d="M661.05 326.66L662.8 329.76L659.3 329.76Z" fill="#8b9bd8" stroke="#15152a" stroke-width="0.5"/><path d="M657.83 324.63L659.58 327.73L656.08 327.73Z" fill="#8b9bd8" stroke="#15152a" stroke-width="0.5"/><path d="M659.97 332.01L661.72 335.11L658.22 335.11Z" fill="#8b9bd8" stroke="#15152a" stroke-width="0.5"/><path d="M657.54 323.21L659.29 326.31L655.79 326.31Z" fill="#8b9bd8" stroke="#15152a" stroke-width="0.5"/><path d="M660 321.49L661.75 324.59L658.25 324.59Z" fill="#8b9bd8" stroke="#15152a" stroke-width="0.5"/><path d="M656.88 313.14L658.63 316.24L655.13 316.24Z" fill="#8b9bd8" stroke="#15152a" stroke-width="0.5"/><path d="M659.68 324.25L661.43 327.35L657.93 327.35Z" fill="#8b9bd8" stroke="#15152a" stroke-width="0.5"/><path d="M657.52 306.1L659.27 309.2L655.77 309.2Z" fill="#8b9bd8" stroke="#15152a" stroke-width="0.5"/><path d="M657.5 345.46L659.25 348.56L655.75 348.56Z" fill="#8b9bd8" stroke="#15152a" stroke-width="0.5"/><path d="M657.71 336.78L659.46 339.88L655.96 339.88Z" fill="#8b9bd8" stroke="#15152a" stroke-width="0.5"/><path d="M658.72 306.93L660.47 310.03L656.97 310.03Z" fill="#8b9bd8" stroke="#15152a" stroke-width="0.5"/><path d="M660.35 341.02L662.1 344.12L658.6 344.12Z" fill="#8b9bd8" stroke="#15152a" stroke-width="0.5"/><path d="M659.94 305.29L661.69 308.39L658.19 308.39Z" fill="#8b9bd8" stroke="#15152a" stroke-width="0.5"/><path d="M658.7 330.21L660.45 333.31L656.95 333.31Z" fill="#8b9bd8" stroke="#15152a" stroke-width="0.5"/><path d="M658.92 332.12L660.67 335.22L657.17 335.22Z" fill="#8b9bd8" stroke="#15152a" stroke-width="0.5"/><path d="M659.89 311.16L661.64 314.26L658.14 314.26Z" fill="#8b9bd8" stroke="#15152a" stroke-width="0.5"/><path d="M657.74 308.81L659.49 311.91L655.99 311.91Z" fill="#8b9bd8" stroke="#15152a" stroke-width="0.5"/><path d="M659.18 340.24L660.93 343.34L657.43 343.34Z" fill="#8b9bd8" stroke="#15152a" stroke-width="0.5"/><path d="M659.98 325.43L661.73 328.53L658.23 328.53Z" fill="#8b9bd8" stroke="#15152a" stroke-width="0.5"/><path d="M658.15 324.62L659.9 327.72L656.4 327.72Z" fill="#8b9bd8" stroke="#15152a" stroke-width="0.5"/>
<path d="M657.3 351.3h3.8M659.2 349.4v3.8" stroke="#000" stroke-width="0.75"/>
<path d="M656.4 364.4h3.8M658.3 362.5v3.8" stroke="#000" stroke-width="0.75"/>
<path d="M658 362.8h3.8M659.9 360.9v3.8" stroke="#000" stroke-width="0.75"/>
<path d="M656.4 367.7h3.8M658.3 365.8v3.8" stroke="#000" stroke-width="0.75"/>
<path d="M658.3 360.8h3.8M660.2 358.9v3.8" stroke="#000" stroke-width="0.75"/>
<text x="96.4" y="9.65" font-size="12.8" style='font-family:"Liberation Serif",serif' text-anchor="middle" fill="#111" textLength="73" lengthAdjust="spacingAndGlyphs">Type 1:&#160; Mac</text>
<text x="270.75" y="9.65" font-size="12.8" style='font-family:"Liberation Serif",serif' text-anchor="middle" fill="#111" textLength="79.3" lengthAdjust="spacingAndGlyphs">Type 2:&#160; DWL</text>
<text x="445.45" y="9.65" font-size="12.8" style='font-family:"Liberation Serif",serif' text-anchor="middle" fill="#111" textLength="79.9" lengthAdjust="spacingAndGlyphs">Type 3:&#160; DWH</text>
<text x="620.2" y="9.65" font-size="12.8" style='font-family:"Liberation Serif",serif' text-anchor="middle" fill="#111" textLength="76.3" lengthAdjust="spacingAndGlyphs">MFBD - MBD</text>
<text x="95.6" y="135" font-size="12" style='font-family:"Liberation Serif",serif' text-anchor="middle" fill="#111" textLength="79" lengthAdjust="spacingAndGlyphs"><tspan font-style="normal">MBD </tspan><tspan font-style="italic">P</tspan><tspan font-style="italic" font-size="0.72em" dy="2.6">max</tspan><tspan font-style="normal" dy="-2.6"> [mm]</tspan></text>
<text x="270.2" y="135" font-size="12" style='font-family:"Liberation Serif",serif' text-anchor="middle" fill="#111" textLength="79" lengthAdjust="spacingAndGlyphs"><tspan font-style="normal">MBD </tspan><tspan font-style="italic">P</tspan><tspan font-style="italic" font-size="0.72em" dy="2.6">max</tspan><tspan font-style="normal" dy="-2.6"> [mm]</tspan></text>
<text x="444.8" y="135" font-size="12" style='font-family:"Liberation Serif",serif' text-anchor="middle" fill="#111" textLength="79" lengthAdjust="spacingAndGlyphs"><tspan font-style="normal">MBD </tspan><tspan font-style="italic">P</tspan><tspan font-style="italic" font-size="0.72em" dy="2.6">max</tspan><tspan font-style="normal" dy="-2.6"> [mm]</tspan></text>
<text x="95.6" y="271.1" font-size="12" style='font-family:"Liberation Serif",serif' text-anchor="middle" fill="#111" textLength="92" lengthAdjust="spacingAndGlyphs"><tspan font-style="normal">MBD </tspan><tspan font-style="italic">a</tspan><tspan font-style="italic" font-size="0.72em" dy="2.6">max</tspan><tspan font-style="normal" dy="-2.6"> [mm/s</tspan><tspan font-style="normal" font-size="0.72em" dy="-3.5">2</tspan><tspan font-style="normal" dy="3.5">]</tspan></text>
<text x="270.2" y="271.1" font-size="12" style='font-family:"Liberation Serif",serif' text-anchor="middle" fill="#111" textLength="92" lengthAdjust="spacingAndGlyphs"><tspan font-style="normal">MBD </tspan><tspan font-style="italic">a</tspan><tspan font-style="italic" font-size="0.72em" dy="2.6">max</tspan><tspan font-style="normal" dy="-2.6"> [mm/s</tspan><tspan font-style="normal" font-size="0.72em" dy="-3.5">2</tspan><tspan font-style="normal" dy="3.5">]</tspan></text>
<text x="444.8" y="271.1" font-size="12" style='font-family:"Liberation Serif",serif' text-anchor="middle" fill="#111" textLength="92" lengthAdjust="spacingAndGlyphs"><tspan font-style="normal">MBD </tspan><tspan font-style="italic">a</tspan><tspan font-style="italic" font-size="0.72em" dy="2.6">max</tspan><tspan font-style="normal" dy="-2.6"> [mm/s</tspan><tspan font-style="normal" font-size="0.72em" dy="-3.5">2</tspan><tspan font-style="normal" dy="3.5">]</tspan></text>
<text x="95.6" y="407.4" font-size="12" style='font-family:"Liberation Serif",serif' text-anchor="middle" fill="#111" textLength="63" lengthAdjust="spacingAndGlyphs"><tspan font-style="normal">MBD </tspan><tspan font-style="italic">ω</tspan><tspan font-style="italic" font-size="0.72em" dy="2.6">n</tspan><tspan font-style="normal" dy="-2.6"> [Hz]</tspan></text>
<text x="270.2" y="407.4" font-size="12" style='font-family:"Liberation Serif",serif' text-anchor="middle" fill="#111" textLength="63" lengthAdjust="spacingAndGlyphs"><tspan font-style="normal">MBD </tspan><tspan font-style="italic">ω</tspan><tspan font-style="italic" font-size="0.72em" dy="2.6">n</tspan><tspan font-style="normal" dy="-2.6"> [Hz]</tspan></text>
<text x="444.8" y="407.4" font-size="12" style='font-family:"Liberation Serif",serif' text-anchor="middle" fill="#111" textLength="63" lengthAdjust="spacingAndGlyphs"><tspan font-style="normal">MBD </tspan><tspan font-style="italic">ω</tspan><tspan font-style="italic" font-size="0.72em" dy="2.6">n</tspan><tspan font-style="normal" dy="-2.6"> [Hz]</tspan></text>
<text x="8.4" y="63.85" font-size="12" style='font-family:"Liberation Serif",serif' text-anchor="middle" fill="#111" textLength="85" lengthAdjust="spacingAndGlyphs" transform="rotate(-90 8.4 63.85)"><tspan font-style="normal">MFBD </tspan><tspan font-style="italic">P</tspan><tspan font-style="italic" font-size="0.72em" dy="2.6">max</tspan><tspan font-style="normal" dy="-2.6"> [mm]</tspan></text>
<text x="10.6" y="200" font-size="12" style='font-family:"Liberation Serif",serif' text-anchor="middle" fill="#111" textLength="98.6" lengthAdjust="spacingAndGlyphs" transform="rotate(-90 10.6 200)"><tspan font-style="normal">MFBD </tspan><tspan font-style="italic">a</tspan><tspan font-style="italic" font-size="0.72em" dy="2.6">max</tspan><tspan font-style="normal" dy="-2.6"> [mm/s</tspan><tspan font-style="normal" font-size="0.72em" dy="-3.5">2</tspan><tspan font-style="normal" dy="3.5">]</tspan></text>
<text x="10.8" y="335.6" font-size="12" style='font-family:"Liberation Serif",serif' text-anchor="middle" fill="#111" textLength="70.4" lengthAdjust="spacingAndGlyphs" transform="rotate(-90 10.8 335.6)"><tspan font-style="normal">MFBD </tspan><tspan font-style="italic">ω</tspan><tspan font-style="italic" font-size="0.72em" dy="2.6">n</tspan><tspan font-style="normal" dy="-2.6"> [Hz]</tspan></text>
<text x="528.2" y="62.6" font-size="12" style='font-family:"Liberation Serif",serif' text-anchor="middle" fill="#111" textLength="84.6" lengthAdjust="spacingAndGlyphs" transform="rotate(-90 528.2 62.6)"><tspan font-style="italic">P</tspan><tspan font-style="italic" font-size="0.72em" dy="2.6">max</tspan><tspan font-style="normal" dy="-2.6"> Differences</tspan></text>
<text x="530.8" y="196.2" font-size="12" style='font-family:"Liberation Serif",serif' text-anchor="middle" fill="#111" textLength="78.1" lengthAdjust="spacingAndGlyphs" transform="rotate(-90 530.8 196.2)"><tspan font-style="italic">a</tspan><tspan font-style="italic" font-size="0.72em" dy="2.6">max</tspan><tspan font-style="normal" dy="-2.6"> Differences</tspan></text>
<text x="538" y="336.5" font-size="12" style='font-family:"Liberation Serif",serif' text-anchor="middle" fill="#111" textLength="75.4" lengthAdjust="spacingAndGlyphs" transform="rotate(-90 538 336.5)"><tspan font-style="italic">ω</tspan><tspan font-style="italic" font-size="0.72em" dy="2.6">n</tspan><tspan font-style="normal" dy="-2.6"> Differences</tspan></text>
</svg></body></html>
